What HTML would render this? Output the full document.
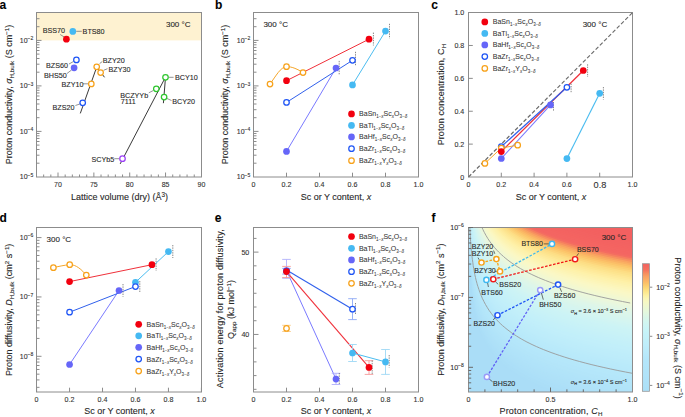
<!DOCTYPE html>
<html><head><meta charset="utf-8"><style>
html,body{margin:0;padding:0;background:#fff;}
svg{display:block;font-family:"Liberation Sans",sans-serif;}
text{stroke:#2a2a2a;stroke-width:0.1px;}
text.lg{stroke:#444;stroke-width:0.06px;}
</style></head><body>
<svg width="685" height="417" viewBox="0 0 685 417">
<rect width="685" height="417" fill="#fff"/>
<rect x="37" y="13" width="164" height="27.40" fill="#fef2d1"/>
<rect x="36.5" y="12.5" width="165.0" height="164.5" fill="none" stroke="#8c8c8c" stroke-width="1"/>
<line x1="43.67" y1="177.00" x2="43.67" y2="174.50" stroke="#8c8c8c" stroke-width="1" />
<line x1="50.84" y1="177.00" x2="50.84" y2="174.50" stroke="#8c8c8c" stroke-width="1" />
<line x1="58.01" y1="177.00" x2="58.01" y2="172.50" stroke="#8c8c8c" stroke-width="1" />
<text x="58.01" y="187.20" font-size="7" text-anchor="middle" fill="#333" >70</text>
<line x1="65.18" y1="177.00" x2="65.18" y2="174.50" stroke="#8c8c8c" stroke-width="1" />
<line x1="72.35" y1="177.00" x2="72.35" y2="174.50" stroke="#8c8c8c" stroke-width="1" />
<line x1="79.52" y1="177.00" x2="79.52" y2="174.50" stroke="#8c8c8c" stroke-width="1" />
<line x1="86.69" y1="177.00" x2="86.69" y2="174.50" stroke="#8c8c8c" stroke-width="1" />
<line x1="93.86" y1="177.00" x2="93.86" y2="172.50" stroke="#8c8c8c" stroke-width="1" />
<text x="93.86" y="187.20" font-size="7" text-anchor="middle" fill="#333" >75</text>
<line x1="101.03" y1="177.00" x2="101.03" y2="174.50" stroke="#8c8c8c" stroke-width="1" />
<line x1="108.20" y1="177.00" x2="108.20" y2="174.50" stroke="#8c8c8c" stroke-width="1" />
<line x1="115.37" y1="177.00" x2="115.37" y2="174.50" stroke="#8c8c8c" stroke-width="1" />
<line x1="122.54" y1="177.00" x2="122.54" y2="174.50" stroke="#8c8c8c" stroke-width="1" />
<line x1="129.71" y1="177.00" x2="129.71" y2="172.50" stroke="#8c8c8c" stroke-width="1" />
<text x="129.71" y="187.20" font-size="7" text-anchor="middle" fill="#333" >80</text>
<line x1="136.88" y1="177.00" x2="136.88" y2="174.50" stroke="#8c8c8c" stroke-width="1" />
<line x1="144.05" y1="177.00" x2="144.05" y2="174.50" stroke="#8c8c8c" stroke-width="1" />
<line x1="151.22" y1="177.00" x2="151.22" y2="174.50" stroke="#8c8c8c" stroke-width="1" />
<line x1="158.39" y1="177.00" x2="158.39" y2="174.50" stroke="#8c8c8c" stroke-width="1" />
<line x1="165.56" y1="177.00" x2="165.56" y2="172.50" stroke="#8c8c8c" stroke-width="1" />
<text x="165.56" y="187.20" font-size="7" text-anchor="middle" fill="#333" >85</text>
<line x1="172.73" y1="177.00" x2="172.73" y2="174.50" stroke="#8c8c8c" stroke-width="1" />
<line x1="179.90" y1="177.00" x2="179.90" y2="174.50" stroke="#8c8c8c" stroke-width="1" />
<line x1="187.07" y1="177.00" x2="187.07" y2="174.50" stroke="#8c8c8c" stroke-width="1" />
<line x1="194.24" y1="177.00" x2="194.24" y2="174.50" stroke="#8c8c8c" stroke-width="1" />
<text x="201.41" y="187.20" font-size="7" text-anchor="middle" fill="#333" >90</text>
<text x="33.30" y="179.40" font-size="7" text-anchor="end" fill="#333">10<tspan dy="-2.9" font-size="5">−5</tspan></text>
<line x1="36.50" y1="163.20" x2="39.50" y2="163.20" stroke="#8c8c8c" stroke-width="1" />
<line x1="36.50" y1="155.19" x2="39.50" y2="155.19" stroke="#8c8c8c" stroke-width="1" />
<line x1="36.50" y1="149.51" x2="39.50" y2="149.51" stroke="#8c8c8c" stroke-width="1" />
<line x1="36.50" y1="145.10" x2="39.50" y2="145.10" stroke="#8c8c8c" stroke-width="1" />
<line x1="36.50" y1="141.49" x2="39.50" y2="141.49" stroke="#8c8c8c" stroke-width="1" />
<line x1="36.50" y1="138.45" x2="39.50" y2="138.45" stroke="#8c8c8c" stroke-width="1" />
<line x1="36.50" y1="135.81" x2="39.50" y2="135.81" stroke="#8c8c8c" stroke-width="1" />
<line x1="36.50" y1="133.48" x2="39.50" y2="133.48" stroke="#8c8c8c" stroke-width="1" />
<line x1="36.50" y1="131.40" x2="41.50" y2="131.40" stroke="#8c8c8c" stroke-width="1" />
<text x="33.30" y="133.90" font-size="7" text-anchor="end" fill="#333">10<tspan dy="-2.9" font-size="5">−4</tspan></text>
<line x1="36.50" y1="117.70" x2="39.50" y2="117.70" stroke="#8c8c8c" stroke-width="1" />
<line x1="36.50" y1="109.69" x2="39.50" y2="109.69" stroke="#8c8c8c" stroke-width="1" />
<line x1="36.50" y1="104.01" x2="39.50" y2="104.01" stroke="#8c8c8c" stroke-width="1" />
<line x1="36.50" y1="99.60" x2="39.50" y2="99.60" stroke="#8c8c8c" stroke-width="1" />
<line x1="36.50" y1="95.99" x2="39.50" y2="95.99" stroke="#8c8c8c" stroke-width="1" />
<line x1="36.50" y1="92.95" x2="39.50" y2="92.95" stroke="#8c8c8c" stroke-width="1" />
<line x1="36.50" y1="90.31" x2="39.50" y2="90.31" stroke="#8c8c8c" stroke-width="1" />
<line x1="36.50" y1="87.98" x2="39.50" y2="87.98" stroke="#8c8c8c" stroke-width="1" />
<line x1="36.50" y1="85.90" x2="41.50" y2="85.90" stroke="#8c8c8c" stroke-width="1" />
<text x="33.30" y="88.40" font-size="7" text-anchor="end" fill="#333">10<tspan dy="-2.9" font-size="5">−3</tspan></text>
<line x1="36.50" y1="72.20" x2="39.50" y2="72.20" stroke="#8c8c8c" stroke-width="1" />
<line x1="36.50" y1="64.19" x2="39.50" y2="64.19" stroke="#8c8c8c" stroke-width="1" />
<line x1="36.50" y1="58.51" x2="39.50" y2="58.51" stroke="#8c8c8c" stroke-width="1" />
<line x1="36.50" y1="54.10" x2="39.50" y2="54.10" stroke="#8c8c8c" stroke-width="1" />
<line x1="36.50" y1="50.49" x2="39.50" y2="50.49" stroke="#8c8c8c" stroke-width="1" />
<line x1="36.50" y1="47.45" x2="39.50" y2="47.45" stroke="#8c8c8c" stroke-width="1" />
<line x1="36.50" y1="44.81" x2="39.50" y2="44.81" stroke="#8c8c8c" stroke-width="1" />
<line x1="36.50" y1="42.48" x2="39.50" y2="42.48" stroke="#8c8c8c" stroke-width="1" />
<line x1="36.50" y1="40.40" x2="41.50" y2="40.40" stroke="#8c8c8c" stroke-width="1" />
<text x="33.30" y="42.90" font-size="7" text-anchor="end" fill="#333">10<tspan dy="-2.9" font-size="5">−2</tspan></text>
<line x1="36.50" y1="26.70" x2="39.50" y2="26.70" stroke="#8c8c8c" stroke-width="1" />
<line x1="36.50" y1="18.69" x2="39.50" y2="18.69" stroke="#8c8c8c" stroke-width="1" />
<text x="-0.4" y="9.0" font-size="12" font-weight="bold" fill="#000" stroke="#000" stroke-width="0.25">a</text>
<text x="190.50" y="27.00" font-size="8" text-anchor="end" fill="#262626" >300 °C</text>
<text x="119.40" y="199.60" font-size="9" text-anchor="middle" fill="#262626" >Lattice volume (dry) (Å<tspan dy="-3" font-size="6.3">3</tspan><tspan dy="3">)</tspan></text>
<text transform="translate(12.2,94.5) rotate(-90)" x="0" y="0" font-size="9" text-anchor="middle" fill="#262626">Proton conductivity, <tspan font-style="italic">σ</tspan><tspan dy="1.8" font-size="6.2">H,bulk</tspan><tspan dy="-1.8"> (S cm</tspan><tspan dy="-3.2" font-size="6.2">−1</tspan><tspan dy="3.2">)</tspan></text>
<line x1="80.30" y1="113.40" x2="97.00" y2="66.20" stroke="#222" stroke-width="0.9" />
<line x1="96.60" y1="66.80" x2="104.50" y2="77.30" stroke="#222" stroke-width="0.9" />
<line x1="120.20" y1="163.90" x2="165.80" y2="76.50" stroke="#222" stroke-width="0.9" />
<line x1="165.50" y1="77.30" x2="163.40" y2="103.20" stroke="#222" stroke-width="0.9" />
<line x1="60.20" y1="34.50" x2="64.20" y2="37.00" stroke="#777" stroke-width="0.8" />
<line x1="76.20" y1="31.30" x2="81.80" y2="31.30" stroke="#777" stroke-width="0.8" />
<line x1="69.00" y1="64.00" x2="73.50" y2="61.50" stroke="#777" stroke-width="0.8" />
<line x1="67.00" y1="73.50" x2="71.50" y2="70.00" stroke="#777" stroke-width="0.8" />
<line x1="99.60" y1="63.60" x2="102.30" y2="61.50" stroke="#777" stroke-width="0.8" />
<line x1="103.60" y1="70.30" x2="107.50" y2="68.70" stroke="#777" stroke-width="0.8" />
<line x1="82.80" y1="83.80" x2="88.30" y2="83.80" stroke="#777" stroke-width="0.8" />
<line x1="75.40" y1="105.50" x2="79.80" y2="104.00" stroke="#777" stroke-width="0.8" />
<line x1="114.30" y1="158.70" x2="119.30" y2="158.70" stroke="#777" stroke-width="0.8" />
<line x1="148.80" y1="92.80" x2="153.30" y2="90.50" stroke="#777" stroke-width="0.8" />
<line x1="168.60" y1="77.30" x2="173.60" y2="77.30" stroke="#777" stroke-width="0.8" />
<line x1="167.00" y1="98.50" x2="171.50" y2="100.50" stroke="#777" stroke-width="0.8" />
<circle cx="66.40" cy="39.20" r="3.35" fill="#f2000f" stroke="none" stroke-width="1.2"/>
<circle cx="72.80" cy="31.40" r="3.35" fill="#45b9f2" stroke="none" stroke-width="1.2"/>
<circle cx="76.40" cy="59.90" r="2.75" fill="#fff" stroke="#1f55f5" stroke-width="1.25"/>
<circle cx="74.10" cy="67.80" r="3.35" fill="#6666f8" stroke="none" stroke-width="1.2"/>
<circle cx="96.70" cy="66.80" r="2.75" fill="#fff" stroke="#f7a21b" stroke-width="1.25"/>
<circle cx="100.60" cy="72.60" r="2.75" fill="#fff" stroke="#f7a21b" stroke-width="1.25"/>
<circle cx="91.30" cy="83.90" r="2.75" fill="#fff" stroke="#f7a21b" stroke-width="1.25"/>
<circle cx="82.70" cy="102.80" r="2.75" fill="#fff" stroke="#1f55f5" stroke-width="1.25"/>
<circle cx="122.50" cy="158.70" r="2.75" fill="#fff" stroke="#9b3ff5" stroke-width="1.25"/>
<circle cx="165.50" cy="77.30" r="2.75" fill="#fff" stroke="#2fc62f" stroke-width="1.25"/>
<circle cx="156.30" cy="88.80" r="2.75" fill="#fff" stroke="#2fc62f" stroke-width="1.25"/>
<circle cx="164.10" cy="97.00" r="2.75" fill="#fff" stroke="#2fc62f" stroke-width="1.25"/>
<text x="42.70" y="32.60" font-size="7.2" text-anchor="start" fill="#262626" >BSS70</text>
<text x="82.60" y="33.90" font-size="7.2" text-anchor="start" fill="#262626" >BTS80</text>
<text x="46.00" y="68.00" font-size="7.2" text-anchor="start" fill="#262626" >BZS60</text>
<text x="44.00" y="77.60" font-size="7.2" text-anchor="start" fill="#262626" >BHS50</text>
<text x="102.80" y="63.00" font-size="7.2" text-anchor="start" fill="#262626" >BZY20</text>
<text x="108.50" y="71.60" font-size="7.2" text-anchor="start" fill="#262626" >BZY30</text>
<text x="61.50" y="87.00" font-size="7.2" text-anchor="start" fill="#262626" >BZY10</text>
<text x="52.50" y="109.50" font-size="7.2" text-anchor="start" fill="#262626" >BZS20</text>
<text x="91.40" y="161.60" font-size="7.2" text-anchor="start" fill="#262626" >SCYb5</text>
<text x="120.20" y="97.60" font-size="7.2" text-anchor="start" fill="#262626" >BCZYYb</text>
<text x="120.80" y="104.00" font-size="7.2" text-anchor="start" fill="#262626" >7111</text>
<text x="174.90" y="80.30" font-size="7.2" text-anchor="start" fill="#262626" >BCY10</text>
<text x="172.20" y="104.00" font-size="7.2" text-anchor="start" fill="#262626" >BCY20</text>
<rect x="253.5" y="12.5" width="165.0" height="164.5" fill="none" stroke="#8c8c8c" stroke-width="1"/>
<line x1="253.50" y1="177.00" x2="253.50" y2="172.70" stroke="#8c8c8c" stroke-width="1" />
<text x="253.50" y="187.00" font-size="7.1" text-anchor="middle" fill="#333" >0</text>
<line x1="286.50" y1="177.00" x2="286.50" y2="172.70" stroke="#8c8c8c" stroke-width="1" />
<text x="286.50" y="187.00" font-size="7.1" text-anchor="middle" fill="#333" >0.2</text>
<line x1="319.50" y1="177.00" x2="319.50" y2="172.70" stroke="#8c8c8c" stroke-width="1" />
<text x="319.50" y="187.00" font-size="7.1" text-anchor="middle" fill="#333" >0.4</text>
<line x1="352.50" y1="177.00" x2="352.50" y2="172.70" stroke="#8c8c8c" stroke-width="1" />
<text x="352.50" y="187.00" font-size="7.1" text-anchor="middle" fill="#333" >0.6</text>
<line x1="385.50" y1="177.00" x2="385.50" y2="172.70" stroke="#8c8c8c" stroke-width="1" />
<text x="385.50" y="187.00" font-size="7.1" text-anchor="middle" fill="#333" >0.8</text>
<line x1="418.50" y1="177.00" x2="418.50" y2="172.70" stroke="#8c8c8c" stroke-width="1" />
<text x="418.50" y="187.00" font-size="7.1" text-anchor="middle" fill="#333" >1.0</text>
<text x="250.30" y="179.40" font-size="7" text-anchor="end" fill="#333">10<tspan dy="-2.9" font-size="5">−5</tspan></text>
<line x1="253.50" y1="163.20" x2="256.50" y2="163.20" stroke="#8c8c8c" stroke-width="1" />
<line x1="253.50" y1="155.19" x2="256.50" y2="155.19" stroke="#8c8c8c" stroke-width="1" />
<line x1="253.50" y1="149.51" x2="256.50" y2="149.51" stroke="#8c8c8c" stroke-width="1" />
<line x1="253.50" y1="145.10" x2="256.50" y2="145.10" stroke="#8c8c8c" stroke-width="1" />
<line x1="253.50" y1="141.49" x2="256.50" y2="141.49" stroke="#8c8c8c" stroke-width="1" />
<line x1="253.50" y1="138.45" x2="256.50" y2="138.45" stroke="#8c8c8c" stroke-width="1" />
<line x1="253.50" y1="135.81" x2="256.50" y2="135.81" stroke="#8c8c8c" stroke-width="1" />
<line x1="253.50" y1="133.48" x2="256.50" y2="133.48" stroke="#8c8c8c" stroke-width="1" />
<line x1="253.50" y1="131.40" x2="258.50" y2="131.40" stroke="#8c8c8c" stroke-width="1" />
<text x="250.30" y="133.90" font-size="7" text-anchor="end" fill="#333">10<tspan dy="-2.9" font-size="5">−4</tspan></text>
<line x1="253.50" y1="117.70" x2="256.50" y2="117.70" stroke="#8c8c8c" stroke-width="1" />
<line x1="253.50" y1="109.69" x2="256.50" y2="109.69" stroke="#8c8c8c" stroke-width="1" />
<line x1="253.50" y1="104.01" x2="256.50" y2="104.01" stroke="#8c8c8c" stroke-width="1" />
<line x1="253.50" y1="99.60" x2="256.50" y2="99.60" stroke="#8c8c8c" stroke-width="1" />
<line x1="253.50" y1="95.99" x2="256.50" y2="95.99" stroke="#8c8c8c" stroke-width="1" />
<line x1="253.50" y1="92.95" x2="256.50" y2="92.95" stroke="#8c8c8c" stroke-width="1" />
<line x1="253.50" y1="90.31" x2="256.50" y2="90.31" stroke="#8c8c8c" stroke-width="1" />
<line x1="253.50" y1="87.98" x2="256.50" y2="87.98" stroke="#8c8c8c" stroke-width="1" />
<line x1="253.50" y1="85.90" x2="258.50" y2="85.90" stroke="#8c8c8c" stroke-width="1" />
<text x="250.30" y="88.40" font-size="7" text-anchor="end" fill="#333">10<tspan dy="-2.9" font-size="5">−3</tspan></text>
<line x1="253.50" y1="72.20" x2="256.50" y2="72.20" stroke="#8c8c8c" stroke-width="1" />
<line x1="253.50" y1="64.19" x2="256.50" y2="64.19" stroke="#8c8c8c" stroke-width="1" />
<line x1="253.50" y1="58.51" x2="256.50" y2="58.51" stroke="#8c8c8c" stroke-width="1" />
<line x1="253.50" y1="54.10" x2="256.50" y2="54.10" stroke="#8c8c8c" stroke-width="1" />
<line x1="253.50" y1="50.49" x2="256.50" y2="50.49" stroke="#8c8c8c" stroke-width="1" />
<line x1="253.50" y1="47.45" x2="256.50" y2="47.45" stroke="#8c8c8c" stroke-width="1" />
<line x1="253.50" y1="44.81" x2="256.50" y2="44.81" stroke="#8c8c8c" stroke-width="1" />
<line x1="253.50" y1="42.48" x2="256.50" y2="42.48" stroke="#8c8c8c" stroke-width="1" />
<line x1="253.50" y1="40.40" x2="258.50" y2="40.40" stroke="#8c8c8c" stroke-width="1" />
<text x="250.30" y="42.90" font-size="7" text-anchor="end" fill="#333">10<tspan dy="-2.9" font-size="5">−2</tspan></text>
<line x1="253.50" y1="26.70" x2="256.50" y2="26.70" stroke="#8c8c8c" stroke-width="1" />
<line x1="253.50" y1="18.69" x2="256.50" y2="18.69" stroke="#8c8c8c" stroke-width="1" />
<text x="215.0" y="9.0" font-size="12" font-weight="bold" fill="#000" stroke="#000" stroke-width="0.25">b</text>
<text x="263.40" y="27.00" font-size="8" text-anchor="start" fill="#262626" >300 °C</text>
<text x="336.00" y="199.60" font-size="9" text-anchor="middle" fill="#262626" >Sc or Y content, <tspan font-style="italic">x</tspan></text>
<text transform="translate(228.4,94.5) rotate(-90)" x="0" y="0" font-size="9" text-anchor="middle" fill="#262626">Proton conductivity, <tspan font-style="italic">σ</tspan><tspan dy="1.8" font-size="6.2">H,bulk</tspan><tspan dy="-1.8"> (S cm</tspan><tspan dy="-3.2" font-size="6.2">−1</tspan><tspan dy="3.2">)</tspan></text>
<line x1="286.50" y1="80.70" x2="369.00" y2="39.20" stroke="#f0303a" stroke-width="1" />
<line x1="352.50" y1="84.90" x2="385.50" y2="31.10" stroke="#4cbdf0" stroke-width="1" />
<line x1="286.50" y1="151.40" x2="336.00" y2="68.00" stroke="#7a7aff" stroke-width="1" />
<line x1="286.50" y1="102.40" x2="352.50" y2="60.30" stroke="#3060ec" stroke-width="1" />
<path d="M270.00,84 C276,76 280.5,67 286.50,66.7 C292,66.4 298,69.5 303.00,72.5" fill="none" stroke="#f5a62a" stroke-width="1"/>
<line x1="373.40" y1="32.60" x2="373.40" y2="45.50" stroke="#6a6a6a" stroke-width="0.8" stroke-dasharray="1.4,1.0"/>
<line x1="389.50" y1="23.80" x2="389.50" y2="38.40" stroke="#6a6a6a" stroke-width="0.8" stroke-dasharray="1.4,1.0"/>
<line x1="355.50" y1="51.80" x2="355.50" y2="66.00" stroke="#6a6a6a" stroke-width="0.8" stroke-dasharray="1.4,1.0"/>
<line x1="339.20" y1="60.90" x2="339.20" y2="75.30" stroke="#6a6a6a" stroke-width="0.8" stroke-dasharray="1.4,1.0"/>
<circle cx="286.50" cy="80.70" r="3.35" fill="#f2000f" stroke="none" stroke-width="1.2"/>
<circle cx="369.00" cy="39.20" r="3.35" fill="#f2000f" stroke="none" stroke-width="1.2"/>
<circle cx="352.50" cy="84.90" r="3.35" fill="#45b9f2" stroke="none" stroke-width="1.2"/>
<circle cx="385.50" cy="31.10" r="3.35" fill="#45b9f2" stroke="none" stroke-width="1.2"/>
<circle cx="286.50" cy="151.40" r="3.35" fill="#6666f8" stroke="none" stroke-width="1.2"/>
<circle cx="336.00" cy="68.00" r="3.35" fill="#6666f8" stroke="none" stroke-width="1.2"/>
<circle cx="286.50" cy="102.40" r="2.75" fill="#fff" stroke="#1f55f5" stroke-width="1.25"/>
<circle cx="352.50" cy="60.30" r="2.75" fill="#fff" stroke="#1f55f5" stroke-width="1.25"/>
<circle cx="270.00" cy="84.00" r="2.75" fill="#fff" stroke="#f7a21b" stroke-width="1.25"/>
<circle cx="286.50" cy="66.70" r="2.75" fill="#fff" stroke="#f7a21b" stroke-width="1.25"/>
<circle cx="303.00" cy="72.50" r="2.75" fill="#fff" stroke="#f7a21b" stroke-width="1.25"/>
<circle cx="351.50" cy="113.90" r="3.35" fill="#f2000f" stroke="none" stroke-width="1.2"/>
<text class="lg" x="359.10" y="116.40" font-size="7" fill="#333">BaSn<tspan dy="2.0" font-size="4.5">1−<tspan font-style="italic">x</tspan></tspan><tspan dy="-2.0">Sc</tspan><tspan dy="2.0" font-size="4.5" font-style="italic">x</tspan><tspan dy="-2.0">O</tspan><tspan dy="2.0" font-size="4.5">3−<tspan font-style="italic">δ</tspan></tspan></text>
<circle cx="351.50" cy="125.40" r="3.35" fill="#45b9f2" stroke="none" stroke-width="1.2"/>
<text class="lg" x="359.10" y="127.90" font-size="7" fill="#333">BaTi<tspan dy="2.0" font-size="4.5">1−<tspan font-style="italic">x</tspan></tspan><tspan dy="-2.0">Sc</tspan><tspan dy="2.0" font-size="4.5" font-style="italic">x</tspan><tspan dy="-2.0">O</tspan><tspan dy="2.0" font-size="4.5">3−<tspan font-style="italic">δ</tspan></tspan></text>
<circle cx="351.50" cy="136.90" r="3.35" fill="#6666f8" stroke="none" stroke-width="1.2"/>
<text class="lg" x="359.10" y="139.40" font-size="7" fill="#333">BaHf<tspan dy="2.0" font-size="4.5">1−<tspan font-style="italic">x</tspan></tspan><tspan dy="-2.0">Sc</tspan><tspan dy="2.0" font-size="4.5" font-style="italic">x</tspan><tspan dy="-2.0">O</tspan><tspan dy="2.0" font-size="4.5">3−<tspan font-style="italic">δ</tspan></tspan></text>
<circle cx="351.50" cy="148.70" r="2.75" fill="#fff" stroke="#1f55f5" stroke-width="1.25"/>
<text class="lg" x="359.10" y="151.20" font-size="7" fill="#333">BaZr<tspan dy="2.0" font-size="4.5">1−<tspan font-style="italic">x</tspan></tspan><tspan dy="-2.0">Sc</tspan><tspan dy="2.0" font-size="4.5" font-style="italic">x</tspan><tspan dy="-2.0">O</tspan><tspan dy="2.0" font-size="4.5">3−<tspan font-style="italic">δ</tspan></tspan></text>
<circle cx="351.50" cy="160.70" r="2.75" fill="#fff" stroke="#f7a21b" stroke-width="1.25"/>
<text class="lg" x="359.10" y="163.20" font-size="7" fill="#333">BaZr<tspan dy="2.0" font-size="4.5">1−<tspan font-style="italic">x</tspan></tspan><tspan dy="-2.0">Y</tspan><tspan dy="2.0" font-size="4.5" font-style="italic">x</tspan><tspan dy="-2.0">O</tspan><tspan dy="2.0" font-size="4.5">3−<tspan font-style="italic">δ</tspan></tspan></text>
<rect x="468.5" y="12.5" width="164.0" height="164.5" fill="none" stroke="#8c8c8c" stroke-width="1"/>
<line x1="501.30" y1="177.00" x2="501.30" y2="172.70" stroke="#8c8c8c" stroke-width="1" />
<line x1="468.50" y1="144.12" x2="472.80" y2="144.12" stroke="#8c8c8c" stroke-width="1" />
<line x1="534.10" y1="177.00" x2="534.10" y2="172.70" stroke="#8c8c8c" stroke-width="1" />
<line x1="468.50" y1="111.24" x2="472.80" y2="111.24" stroke="#8c8c8c" stroke-width="1" />
<line x1="566.90" y1="177.00" x2="566.90" y2="172.70" stroke="#8c8c8c" stroke-width="1" />
<line x1="468.50" y1="78.36" x2="472.80" y2="78.36" stroke="#8c8c8c" stroke-width="1" />
<line x1="599.70" y1="177.00" x2="599.70" y2="172.70" stroke="#8c8c8c" stroke-width="1" />
<line x1="468.50" y1="45.48" x2="472.80" y2="45.48" stroke="#8c8c8c" stroke-width="1" />
<text x="468.50" y="187.00" font-size="7.1" text-anchor="middle" fill="#333" >0</text>
<text x="464.30" y="179.50" font-size="7.1" text-anchor="end" fill="#333" >0</text>
<text x="501.30" y="187.00" font-size="7.1" text-anchor="middle" fill="#333" >0.2</text>
<text x="464.30" y="146.62" font-size="7.1" text-anchor="end" fill="#333" >0.2</text>
<text x="534.10" y="187.00" font-size="7.1" text-anchor="middle" fill="#333" >0.4</text>
<text x="464.30" y="113.74" font-size="7.1" text-anchor="end" fill="#333" >0.4</text>
<text x="566.90" y="187.00" font-size="7.1" text-anchor="middle" fill="#333" >0.6</text>
<text x="464.30" y="80.86" font-size="7.1" text-anchor="end" fill="#333" >0.6</text>
<text x="600.00" y="187.60" font-size="9.2" text-anchor="middle" fill="#333" >0.8</text>
<text x="464.30" y="47.98" font-size="7.1" text-anchor="end" fill="#333" >0.8</text>
<text x="632.50" y="187.00" font-size="7.1" text-anchor="middle" fill="#333" >1.0</text>
<text x="464.30" y="15.10" font-size="7.1" text-anchor="end" fill="#333" >1.0</text>
<text x="431.3" y="9.0" font-size="12" font-weight="bold" fill="#000" stroke="#000" stroke-width="0.25">c</text>
<text x="607.20" y="27.40" font-size="8" text-anchor="end" fill="#262626" >300 °C</text>
<text x="551.00" y="199.60" font-size="9" text-anchor="middle" fill="#262626" >Sc or Y content, <tspan font-style="italic">x</tspan></text>
<text transform="translate(444.3,94.6) rotate(-90)" font-size="9" textLength="101.5" lengthAdjust="spacing" text-anchor="middle" fill="#262626">Proton concentration, C<tspan dy="1.8" font-size="6.2">H</tspan></text>
<line x1="468.50" y1="177.00" x2="632.50" y2="12.60" stroke="#6a6a6a" stroke-width="1.15" stroke-dasharray="3.9,2.1"/>
<line x1="501.30" y1="151.60" x2="583.30" y2="70.50" stroke="#f0303a" stroke-width="1.25" />
<line x1="566.90" y1="158.60" x2="599.70" y2="93.30" stroke="#4cbdf0" stroke-width="1.15" />
<line x1="501.30" y1="158.50" x2="550.50" y2="104.90" stroke="#7a7aff" stroke-width="1.1" />
<line x1="501.30" y1="146.60" x2="566.90" y2="87.30" stroke="#3060ec" stroke-width="1.25" />
<polyline points="484.90,163.4 501.30,148 517.70,145.2" fill="none" stroke="#f5a62a" stroke-width="1"/>
<line x1="587.60" y1="64.30" x2="587.60" y2="76.90" stroke="#6a6a6a" stroke-width="0.8" stroke-dasharray="1.4,1.0"/>
<line x1="571.10" y1="83.60" x2="571.10" y2="92.80" stroke="#6a6a6a" stroke-width="0.8" stroke-dasharray="1.4,1.0"/>
<line x1="553.50" y1="102.00" x2="553.50" y2="111.00" stroke="#6a6a6a" stroke-width="0.8" stroke-dasharray="1.4,1.0"/>
<line x1="603.40" y1="87.00" x2="603.40" y2="99.50" stroke="#6a6a6a" stroke-width="0.8" stroke-dasharray="1.4,1.0"/>
<circle cx="501.30" cy="146.60" r="2.75" fill="#fff" stroke="#1f55f5" stroke-width="1.25"/>
<circle cx="566.90" cy="87.30" r="2.75" fill="#fff" stroke="#1f55f5" stroke-width="1.25"/>
<circle cx="484.90" cy="163.40" r="2.75" fill="#fff" stroke="#f7a21b" stroke-width="1.25"/>
<circle cx="501.30" cy="148.00" r="2.75" fill="#fff" stroke="#f7a21b" stroke-width="1.25"/>
<circle cx="517.70" cy="145.20" r="2.75" fill="#fff" stroke="#f7a21b" stroke-width="1.25"/>
<circle cx="501.30" cy="158.50" r="3.35" fill="#6666f8" stroke="none" stroke-width="1.2"/>
<circle cx="550.50" cy="104.90" r="3.35" fill="#6666f8" stroke="none" stroke-width="1.2"/>
<circle cx="501.30" cy="151.60" r="3.35" fill="#f2000f" stroke="none" stroke-width="1.2"/>
<circle cx="583.30" cy="70.50" r="3.35" fill="#f2000f" stroke="none" stroke-width="1.2"/>
<circle cx="566.90" cy="158.60" r="3.35" fill="#45b9f2" stroke="none" stroke-width="1.2"/>
<circle cx="599.70" cy="93.30" r="3.35" fill="#45b9f2" stroke="none" stroke-width="1.2"/>
<circle cx="484.80" cy="21.90" r="3.35" fill="#f2000f" stroke="none" stroke-width="1.2"/>
<text class="lg" x="492.80" y="24.40" font-size="7" fill="#333">BaSn<tspan dy="2.0" font-size="4.5">1−<tspan font-style="italic">x</tspan></tspan><tspan dy="-2.0">Sc</tspan><tspan dy="2.0" font-size="4.5" font-style="italic">x</tspan><tspan dy="-2.0">O</tspan><tspan dy="2.0" font-size="4.5">3−<tspan font-style="italic">δ</tspan></tspan></text>
<circle cx="484.80" cy="33.40" r="3.35" fill="#45b9f2" stroke="none" stroke-width="1.2"/>
<text class="lg" x="492.80" y="35.90" font-size="7" fill="#333">BaTi<tspan dy="2.0" font-size="4.5">1−<tspan font-style="italic">x</tspan></tspan><tspan dy="-2.0">Sc</tspan><tspan dy="2.0" font-size="4.5" font-style="italic">x</tspan><tspan dy="-2.0">O</tspan><tspan dy="2.0" font-size="4.5">3−<tspan font-style="italic">δ</tspan></tspan></text>
<circle cx="484.80" cy="44.90" r="3.35" fill="#6666f8" stroke="none" stroke-width="1.2"/>
<text class="lg" x="492.80" y="47.40" font-size="7" fill="#333">BaHf<tspan dy="2.0" font-size="4.5">1−<tspan font-style="italic">x</tspan></tspan><tspan dy="-2.0">Sc</tspan><tspan dy="2.0" font-size="4.5" font-style="italic">x</tspan><tspan dy="-2.0">O</tspan><tspan dy="2.0" font-size="4.5">3−<tspan font-style="italic">δ</tspan></tspan></text>
<circle cx="484.80" cy="56.60" r="2.75" fill="#fff" stroke="#1f55f5" stroke-width="1.25"/>
<text class="lg" x="492.80" y="59.10" font-size="7" fill="#333">BaZr<tspan dy="2.0" font-size="4.5">1−<tspan font-style="italic">x</tspan></tspan><tspan dy="-2.0">Sc</tspan><tspan dy="2.0" font-size="4.5" font-style="italic">x</tspan><tspan dy="-2.0">O</tspan><tspan dy="2.0" font-size="4.5">3−<tspan font-style="italic">δ</tspan></tspan></text>
<circle cx="484.80" cy="68.40" r="2.75" fill="#fff" stroke="#f7a21b" stroke-width="1.25"/>
<text class="lg" x="492.80" y="70.90" font-size="7" fill="#333">BaZr<tspan dy="2.0" font-size="4.5">1−<tspan font-style="italic">x</tspan></tspan><tspan dy="-2.0">Y</tspan><tspan dy="2.0" font-size="4.5" font-style="italic">x</tspan><tspan dy="-2.0">O</tspan><tspan dy="2.0" font-size="4.5">3−<tspan font-style="italic">δ</tspan></tspan></text>
<rect x="36.5" y="227.5" width="165.0" height="164.5" fill="none" stroke="#8c8c8c" stroke-width="1"/>
<line x1="36.60" y1="392.00" x2="36.60" y2="387.70" stroke="#8c8c8c" stroke-width="1" />
<text x="36.60" y="401.80" font-size="7.1" text-anchor="middle" fill="#333" >0</text>
<line x1="69.56" y1="392.00" x2="69.56" y2="387.70" stroke="#8c8c8c" stroke-width="1" />
<text x="69.56" y="401.80" font-size="7.1" text-anchor="middle" fill="#333" >0.2</text>
<line x1="102.52" y1="392.00" x2="102.52" y2="387.70" stroke="#8c8c8c" stroke-width="1" />
<text x="102.52" y="401.80" font-size="7.1" text-anchor="middle" fill="#333" >0.4</text>
<line x1="135.48" y1="392.00" x2="135.48" y2="387.70" stroke="#8c8c8c" stroke-width="1" />
<text x="135.48" y="401.80" font-size="7.1" text-anchor="middle" fill="#333" >0.6</text>
<line x1="168.44" y1="392.00" x2="168.44" y2="387.70" stroke="#8c8c8c" stroke-width="1" />
<text x="168.44" y="401.80" font-size="7.1" text-anchor="middle" fill="#333" >0.8</text>
<line x1="201.40" y1="392.00" x2="201.40" y2="387.70" stroke="#8c8c8c" stroke-width="1" />
<text x="201.40" y="401.80" font-size="7.1" text-anchor="middle" fill="#333" >1.0</text>
<line x1="36.50" y1="387.33" x2="39.50" y2="387.33" stroke="#8c8c8c" stroke-width="1" />
<line x1="36.50" y1="379.92" x2="39.50" y2="379.92" stroke="#8c8c8c" stroke-width="1" />
<line x1="36.50" y1="374.17" x2="39.50" y2="374.17" stroke="#8c8c8c" stroke-width="1" />
<line x1="36.50" y1="369.47" x2="39.50" y2="369.47" stroke="#8c8c8c" stroke-width="1" />
<line x1="36.50" y1="365.49" x2="39.50" y2="365.49" stroke="#8c8c8c" stroke-width="1" />
<line x1="36.50" y1="362.05" x2="39.50" y2="362.05" stroke="#8c8c8c" stroke-width="1" />
<line x1="36.50" y1="359.02" x2="39.50" y2="359.02" stroke="#8c8c8c" stroke-width="1" />
<line x1="36.50" y1="356.30" x2="41.50" y2="356.30" stroke="#8c8c8c" stroke-width="1" />
<text x="33.30" y="358.80" font-size="7" text-anchor="end" fill="#333">10<tspan dy="-2.9" font-size="5">−8</tspan></text>
<line x1="36.50" y1="338.43" x2="39.50" y2="338.43" stroke="#8c8c8c" stroke-width="1" />
<line x1="36.50" y1="327.98" x2="39.50" y2="327.98" stroke="#8c8c8c" stroke-width="1" />
<line x1="36.50" y1="320.57" x2="39.50" y2="320.57" stroke="#8c8c8c" stroke-width="1" />
<line x1="36.50" y1="314.82" x2="39.50" y2="314.82" stroke="#8c8c8c" stroke-width="1" />
<line x1="36.50" y1="310.12" x2="39.50" y2="310.12" stroke="#8c8c8c" stroke-width="1" />
<line x1="36.50" y1="306.14" x2="39.50" y2="306.14" stroke="#8c8c8c" stroke-width="1" />
<line x1="36.50" y1="302.70" x2="39.50" y2="302.70" stroke="#8c8c8c" stroke-width="1" />
<line x1="36.50" y1="299.67" x2="39.50" y2="299.67" stroke="#8c8c8c" stroke-width="1" />
<line x1="36.50" y1="296.95" x2="41.50" y2="296.95" stroke="#8c8c8c" stroke-width="1" />
<text x="33.30" y="299.45" font-size="7" text-anchor="end" fill="#333">10<tspan dy="-2.9" font-size="5">−7</tspan></text>
<line x1="36.50" y1="279.08" x2="39.50" y2="279.08" stroke="#8c8c8c" stroke-width="1" />
<line x1="36.50" y1="268.63" x2="39.50" y2="268.63" stroke="#8c8c8c" stroke-width="1" />
<line x1="36.50" y1="261.22" x2="39.50" y2="261.22" stroke="#8c8c8c" stroke-width="1" />
<line x1="36.50" y1="255.47" x2="39.50" y2="255.47" stroke="#8c8c8c" stroke-width="1" />
<line x1="36.50" y1="250.77" x2="39.50" y2="250.77" stroke="#8c8c8c" stroke-width="1" />
<line x1="36.50" y1="246.79" x2="39.50" y2="246.79" stroke="#8c8c8c" stroke-width="1" />
<line x1="36.50" y1="243.35" x2="39.50" y2="243.35" stroke="#8c8c8c" stroke-width="1" />
<line x1="36.50" y1="240.32" x2="39.50" y2="240.32" stroke="#8c8c8c" stroke-width="1" />
<line x1="36.50" y1="237.60" x2="41.50" y2="237.60" stroke="#8c8c8c" stroke-width="1" />
<text x="33.30" y="240.10" font-size="7" text-anchor="end" fill="#333">10<tspan dy="-2.9" font-size="5">−6</tspan></text>
<text x="-0.5" y="222.0" font-size="12" font-weight="bold" fill="#000" stroke="#000" stroke-width="0.25">d</text>
<text x="46.60" y="242.40" font-size="8" text-anchor="start" fill="#262626" >300 °C</text>
<text x="119.50" y="414.30" font-size="9" text-anchor="middle" fill="#262626" >Sc or Y content, <tspan font-style="italic">x</tspan></text>
<text transform="translate(12.3,309.8) rotate(-90)" font-size="9" text-anchor="middle" fill="#262626">Proton diffusivity, <tspan font-style="italic">D</tspan><tspan dy="1.8" font-size="6.2">H,bulk</tspan><tspan dy="-1.8"> (cm</tspan><tspan dy="-3.2" font-size="6.2">2</tspan><tspan dy="3.2"> s</tspan><tspan dy="-3.2" font-size="6.2">−1</tspan><tspan dy="3.2">)</tspan></text>
<line x1="69.56" y1="281.60" x2="151.96" y2="264.70" stroke="#f0303a" stroke-width="1" />
<line x1="135.48" y1="282.30" x2="168.44" y2="251.60" stroke="#4cbdf0" stroke-width="1" />
<line x1="69.56" y1="364.50" x2="119.00" y2="290.50" stroke="#7a7aff" stroke-width="1" />
<line x1="69.56" y1="312.20" x2="135.48" y2="286.50" stroke="#3060ec" stroke-width="1" />
<path d="M53.4,267.7 C58,266.5 64,265.2 69.7,264.7 C76,264.3 82,270 86.3,275.1" fill="none" stroke="#f5a62a" stroke-width="1"/>
<line x1="172.80" y1="245.00" x2="172.80" y2="258.00" stroke="#6a6a6a" stroke-width="0.8" stroke-dasharray="1.4,1.0"/>
<line x1="156.10" y1="258.30" x2="156.10" y2="270.80" stroke="#6a6a6a" stroke-width="0.8" stroke-dasharray="1.4,1.0"/>
<line x1="139.80" y1="281.00" x2="139.80" y2="292.00" stroke="#6a6a6a" stroke-width="0.8" stroke-dasharray="1.4,1.0"/>
<line x1="123.00" y1="284.00" x2="123.00" y2="296.70" stroke="#6a6a6a" stroke-width="0.8" stroke-dasharray="1.4,1.0"/>
<circle cx="69.56" cy="281.60" r="3.35" fill="#f2000f" stroke="none" stroke-width="1.2"/>
<circle cx="151.96" cy="264.70" r="3.35" fill="#f2000f" stroke="none" stroke-width="1.2"/>
<circle cx="135.48" cy="282.30" r="3.35" fill="#45b9f2" stroke="none" stroke-width="1.2"/>
<circle cx="168.44" cy="251.60" r="3.35" fill="#45b9f2" stroke="none" stroke-width="1.2"/>
<circle cx="69.56" cy="364.50" r="3.35" fill="#6666f8" stroke="none" stroke-width="1.2"/>
<circle cx="119.00" cy="290.50" r="3.35" fill="#6666f8" stroke="none" stroke-width="1.2"/>
<circle cx="69.56" cy="312.20" r="2.75" fill="#fff" stroke="#1f55f5" stroke-width="1.25"/>
<circle cx="135.48" cy="286.50" r="2.75" fill="#fff" stroke="#1f55f5" stroke-width="1.25"/>
<circle cx="53.40" cy="267.70" r="2.75" fill="#fff" stroke="#f7a21b" stroke-width="1.25"/>
<circle cx="69.70" cy="264.70" r="2.75" fill="#fff" stroke="#f7a21b" stroke-width="1.25"/>
<circle cx="86.30" cy="275.10" r="2.75" fill="#fff" stroke="#f7a21b" stroke-width="1.25"/>
<circle cx="138.70" cy="324.30" r="3.35" fill="#f2000f" stroke="none" stroke-width="1.2"/>
<text class="lg" x="146.60" y="326.80" font-size="7" fill="#333">BaSn<tspan dy="2.0" font-size="4.5">1−<tspan font-style="italic">x</tspan></tspan><tspan dy="-2.0">Sc</tspan><tspan dy="2.0" font-size="4.5" font-style="italic">x</tspan><tspan dy="-2.0">O</tspan><tspan dy="2.0" font-size="4.5">3−<tspan font-style="italic">δ</tspan></tspan></text>
<circle cx="138.70" cy="335.80" r="3.35" fill="#45b9f2" stroke="none" stroke-width="1.2"/>
<text class="lg" x="146.60" y="338.30" font-size="7" fill="#333">BaTi<tspan dy="2.0" font-size="4.5">1−<tspan font-style="italic">x</tspan></tspan><tspan dy="-2.0">Sc</tspan><tspan dy="2.0" font-size="4.5" font-style="italic">x</tspan><tspan dy="-2.0">O</tspan><tspan dy="2.0" font-size="4.5">3−<tspan font-style="italic">δ</tspan></tspan></text>
<circle cx="138.70" cy="347.30" r="3.35" fill="#6666f8" stroke="none" stroke-width="1.2"/>
<text class="lg" x="146.60" y="349.80" font-size="7" fill="#333">BaHf<tspan dy="2.0" font-size="4.5">1−<tspan font-style="italic">x</tspan></tspan><tspan dy="-2.0">Sc</tspan><tspan dy="2.0" font-size="4.5" font-style="italic">x</tspan><tspan dy="-2.0">O</tspan><tspan dy="2.0" font-size="4.5">3−<tspan font-style="italic">δ</tspan></tspan></text>
<circle cx="138.70" cy="359.10" r="2.75" fill="#fff" stroke="#1f55f5" stroke-width="1.25"/>
<text class="lg" x="146.60" y="361.60" font-size="7" fill="#333">BaZr<tspan dy="2.0" font-size="4.5">1−<tspan font-style="italic">x</tspan></tspan><tspan dy="-2.0">Sc</tspan><tspan dy="2.0" font-size="4.5" font-style="italic">x</tspan><tspan dy="-2.0">O</tspan><tspan dy="2.0" font-size="4.5">3−<tspan font-style="italic">δ</tspan></tspan></text>
<circle cx="138.70" cy="371.10" r="2.75" fill="#fff" stroke="#f7a21b" stroke-width="1.25"/>
<text class="lg" x="146.60" y="373.60" font-size="7" fill="#333">BaZr<tspan dy="2.0" font-size="4.5">1−<tspan font-style="italic">x</tspan></tspan><tspan dy="-2.0">Y</tspan><tspan dy="2.0" font-size="4.5" font-style="italic">x</tspan><tspan dy="-2.0">O</tspan><tspan dy="2.0" font-size="4.5">3−<tspan font-style="italic">δ</tspan></tspan></text>
<rect x="253.5" y="227.5" width="165.0" height="164.5" fill="none" stroke="#8c8c8c" stroke-width="1"/>
<line x1="253.50" y1="392.00" x2="253.50" y2="387.70" stroke="#8c8c8c" stroke-width="1" />
<text x="253.50" y="401.80" font-size="7.1" text-anchor="middle" fill="#333" >0</text>
<line x1="286.50" y1="392.00" x2="286.50" y2="387.70" stroke="#8c8c8c" stroke-width="1" />
<text x="286.50" y="401.80" font-size="7.1" text-anchor="middle" fill="#333" >0.2</text>
<line x1="319.50" y1="392.00" x2="319.50" y2="387.70" stroke="#8c8c8c" stroke-width="1" />
<text x="319.50" y="401.80" font-size="7.1" text-anchor="middle" fill="#333" >0.4</text>
<line x1="352.50" y1="392.00" x2="352.50" y2="387.70" stroke="#8c8c8c" stroke-width="1" />
<text x="352.50" y="401.80" font-size="7.1" text-anchor="middle" fill="#333" >0.6</text>
<line x1="385.50" y1="392.00" x2="385.50" y2="387.70" stroke="#8c8c8c" stroke-width="1" />
<text x="385.50" y="401.80" font-size="7.1" text-anchor="middle" fill="#333" >0.8</text>
<line x1="418.50" y1="392.00" x2="418.50" y2="387.70" stroke="#8c8c8c" stroke-width="1" />
<text x="418.50" y="401.80" font-size="7.1" text-anchor="middle" fill="#333" >1.0</text>
<line x1="253.50" y1="238.40" x2="256.50" y2="238.40" stroke="#8c8c8c" stroke-width="1" />
<line x1="253.50" y1="252.12" x2="258.50" y2="252.12" stroke="#8c8c8c" stroke-width="1" />
<line x1="253.50" y1="265.84" x2="256.50" y2="265.84" stroke="#8c8c8c" stroke-width="1" />
<line x1="253.50" y1="279.56" x2="256.50" y2="279.56" stroke="#8c8c8c" stroke-width="1" />
<line x1="253.50" y1="293.28" x2="256.50" y2="293.28" stroke="#8c8c8c" stroke-width="1" />
<line x1="253.50" y1="307.00" x2="256.50" y2="307.00" stroke="#8c8c8c" stroke-width="1" />
<line x1="253.50" y1="320.72" x2="256.50" y2="320.72" stroke="#8c8c8c" stroke-width="1" />
<line x1="253.50" y1="334.44" x2="258.50" y2="334.44" stroke="#8c8c8c" stroke-width="1" />
<line x1="253.50" y1="348.16" x2="256.50" y2="348.16" stroke="#8c8c8c" stroke-width="1" />
<line x1="253.50" y1="361.88" x2="256.50" y2="361.88" stroke="#8c8c8c" stroke-width="1" />
<line x1="253.50" y1="375.60" x2="256.50" y2="375.60" stroke="#8c8c8c" stroke-width="1" />
<line x1="253.50" y1="389.32" x2="256.50" y2="389.32" stroke="#8c8c8c" stroke-width="1" />
<text x="249.30" y="254.50" font-size="7.1" text-anchor="end" fill="#333" >50</text>
<text x="249.30" y="336.70" font-size="7.1" text-anchor="end" fill="#333" >40</text>
<text x="214.8" y="222.0" font-size="12" font-weight="bold" fill="#000" stroke="#000" stroke-width="0.25">e</text>
<text x="336.00" y="414.30" font-size="9" text-anchor="middle" fill="#262626" >Sc or Y content, <tspan font-style="italic">x</tspan></text>
<text transform="translate(223.3,308.7) rotate(-90)" font-size="9" textLength="159" lengthAdjust="spacing" text-anchor="middle" fill="#262626">Activation energy for proton diffusivity,</text>
<text transform="translate(234.0,309.5) rotate(-90)" font-size="9" text-anchor="middle" fill="#262626">Q<tspan dy="1.8" font-size="6.2">app</tspan><tspan dy="-1.8"> (kJ mol</tspan><tspan dy="-3.2" font-size="6.2">−1</tspan><tspan dy="3.2">)</tspan></text>
<line x1="286.50" y1="270.00" x2="352.50" y2="309.20" stroke="#3060ec" stroke-width="1.1" />
<line x1="286.50" y1="271.60" x2="369.00" y2="367.40" stroke="#f0303a" stroke-width="1.1" />
<line x1="286.50" y1="270.50" x2="336.00" y2="379.10" stroke="#7a7aff" stroke-width="1" />
<line x1="352.50" y1="353.00" x2="385.50" y2="361.90" stroke="#4cbdf0" stroke-width="1" />
<line x1="286.50" y1="259.40" x2="286.50" y2="278.30" stroke="#b0b0fa" stroke-width="0.9" />
<line x1="282.20" y1="259.40" x2="290.80" y2="259.40" stroke="#b0b0fa" stroke-width="0.9" />
<line x1="282.20" y1="278.30" x2="290.80" y2="278.30" stroke="#b0b0fa" stroke-width="0.9" />
<line x1="286.50" y1="268.40" x2="286.50" y2="274.10" stroke="#8ca8f5" stroke-width="0.9" />
<line x1="282.20" y1="268.40" x2="290.80" y2="268.40" stroke="#8ca8f5" stroke-width="0.9" />
<line x1="282.20" y1="274.10" x2="290.80" y2="274.10" stroke="#8ca8f5" stroke-width="0.9" />
<line x1="286.50" y1="266.40" x2="286.50" y2="277.50" stroke="#f59a9a" stroke-width="0.9" />
<line x1="282.20" y1="266.40" x2="290.80" y2="266.40" stroke="#f59a9a" stroke-width="0.9" />
<line x1="282.20" y1="277.50" x2="290.80" y2="277.50" stroke="#f59a9a" stroke-width="0.9" />
<line x1="352.50" y1="298.70" x2="352.50" y2="319.60" stroke="#8ca8f5" stroke-width="0.9" />
<line x1="348.20" y1="298.70" x2="356.80" y2="298.70" stroke="#8ca8f5" stroke-width="0.9" />
<line x1="348.20" y1="319.60" x2="356.80" y2="319.60" stroke="#8ca8f5" stroke-width="0.9" />
<line x1="352.50" y1="344.50" x2="352.50" y2="361.50" stroke="#9ed8f5" stroke-width="0.9" />
<line x1="348.20" y1="344.50" x2="356.80" y2="344.50" stroke="#9ed8f5" stroke-width="0.9" />
<line x1="348.20" y1="361.50" x2="356.80" y2="361.50" stroke="#9ed8f5" stroke-width="0.9" />
<line x1="369.00" y1="360.70" x2="369.00" y2="374.40" stroke="#f59a9a" stroke-width="0.9" />
<line x1="364.70" y1="360.70" x2="373.30" y2="360.70" stroke="#f59a9a" stroke-width="0.9" />
<line x1="364.70" y1="374.40" x2="373.30" y2="374.40" stroke="#f59a9a" stroke-width="0.9" />
<line x1="385.50" y1="349.50" x2="385.50" y2="374.40" stroke="#9ed8f5" stroke-width="0.9" />
<line x1="381.20" y1="349.50" x2="389.80" y2="349.50" stroke="#9ed8f5" stroke-width="0.9" />
<line x1="381.20" y1="374.40" x2="389.80" y2="374.40" stroke="#9ed8f5" stroke-width="0.9" />
<line x1="336.00" y1="373.30" x2="336.00" y2="384.50" stroke="#b0b0fa" stroke-width="0.9" />
<line x1="331.70" y1="373.30" x2="340.30" y2="373.30" stroke="#b0b0fa" stroke-width="0.9" />
<line x1="331.70" y1="384.50" x2="340.30" y2="384.50" stroke="#b0b0fa" stroke-width="0.9" />
<line x1="286.50" y1="325.30" x2="286.50" y2="331.50" stroke="#f8cc88" stroke-width="0.9" />
<line x1="282.20" y1="325.30" x2="290.80" y2="325.30" stroke="#f8cc88" stroke-width="0.9" />
<line x1="282.20" y1="331.50" x2="290.80" y2="331.50" stroke="#f8cc88" stroke-width="0.9" />
<line x1="355.50" y1="303.00" x2="355.50" y2="315.00" stroke="#6a6a6a" stroke-width="0.8" stroke-dasharray="1.4,1.0"/>
<line x1="372.20" y1="360.50" x2="372.20" y2="374.40" stroke="#6a6a6a" stroke-width="0.8" stroke-dasharray="1.4,1.0"/>
<line x1="389.20" y1="355.00" x2="389.20" y2="367.40" stroke="#6a6a6a" stroke-width="0.8" stroke-dasharray="1.4,1.0"/>
<line x1="339.30" y1="373.00" x2="339.30" y2="385.00" stroke="#6a6a6a" stroke-width="0.8" stroke-dasharray="1.4,1.0"/>
<circle cx="286.50" cy="270.60" r="3.35" fill="#6666f8" stroke="none" stroke-width="1.2"/>
<circle cx="286.50" cy="271.00" r="2.75" fill="#fff" stroke="#1f55f5" stroke-width="1.25"/>
<circle cx="286.50" cy="271.60" r="3.35" fill="#f2000f" stroke="none" stroke-width="1.2"/>
<circle cx="369.00" cy="367.40" r="3.35" fill="#f2000f" stroke="none" stroke-width="1.2"/>
<circle cx="352.50" cy="353.00" r="3.35" fill="#45b9f2" stroke="none" stroke-width="1.2"/>
<circle cx="385.50" cy="361.90" r="3.35" fill="#45b9f2" stroke="none" stroke-width="1.2"/>
<circle cx="336.00" cy="379.10" r="3.35" fill="#6666f8" stroke="none" stroke-width="1.2"/>
<circle cx="352.50" cy="309.20" r="2.75" fill="#fff" stroke="#1f55f5" stroke-width="1.25"/>
<circle cx="286.50" cy="328.40" r="2.75" fill="#fff" stroke="#f7a21b" stroke-width="1.25"/>
<circle cx="351.50" cy="236.50" r="3.35" fill="#f2000f" stroke="none" stroke-width="1.2"/>
<text class="lg" x="358.90" y="239.00" font-size="7" fill="#333">BaSn<tspan dy="2.0" font-size="4.5">1−<tspan font-style="italic">x</tspan></tspan><tspan dy="-2.0">Sc</tspan><tspan dy="2.0" font-size="4.5" font-style="italic">x</tspan><tspan dy="-2.0">O</tspan><tspan dy="2.0" font-size="4.5">3−<tspan font-style="italic">δ</tspan></tspan></text>
<circle cx="351.50" cy="248.30" r="3.35" fill="#45b9f2" stroke="none" stroke-width="1.2"/>
<text class="lg" x="358.90" y="250.80" font-size="7" fill="#333">BaTi<tspan dy="2.0" font-size="4.5">1−<tspan font-style="italic">x</tspan></tspan><tspan dy="-2.0">Sc</tspan><tspan dy="2.0" font-size="4.5" font-style="italic">x</tspan><tspan dy="-2.0">O</tspan><tspan dy="2.0" font-size="4.5">3−<tspan font-style="italic">δ</tspan></tspan></text>
<circle cx="351.50" cy="259.90" r="3.35" fill="#6666f8" stroke="none" stroke-width="1.2"/>
<text class="lg" x="358.90" y="262.40" font-size="7" fill="#333">BaHf<tspan dy="2.0" font-size="4.5">1−<tspan font-style="italic">x</tspan></tspan><tspan dy="-2.0">Sc</tspan><tspan dy="2.0" font-size="4.5" font-style="italic">x</tspan><tspan dy="-2.0">O</tspan><tspan dy="2.0" font-size="4.5">3−<tspan font-style="italic">δ</tspan></tspan></text>
<circle cx="351.50" cy="271.70" r="2.75" fill="#fff" stroke="#1f55f5" stroke-width="1.25"/>
<text class="lg" x="358.90" y="274.20" font-size="7" fill="#333">BaZr<tspan dy="2.0" font-size="4.5">1−<tspan font-style="italic">x</tspan></tspan><tspan dy="-2.0">Sc</tspan><tspan dy="2.0" font-size="4.5" font-style="italic">x</tspan><tspan dy="-2.0">O</tspan><tspan dy="2.0" font-size="4.5">3−<tspan font-style="italic">δ</tspan></tspan></text>
<circle cx="351.50" cy="283.30" r="2.75" fill="#fff" stroke="#f7a21b" stroke-width="1.25"/>
<text class="lg" x="358.90" y="285.80" font-size="7" fill="#333">BaZr<tspan dy="2.0" font-size="4.5">1−<tspan font-style="italic">x</tspan></tspan><tspan dy="-2.0">Y</tspan><tspan dy="2.0" font-size="4.5" font-style="italic">x</tspan><tspan dy="-2.0">O</tspan><tspan dy="2.0" font-size="4.5">3−<tspan font-style="italic">δ</tspan></tspan></text>
<defs><clipPath id="fclip"><rect x="468.5" y="227.5" width="164.0" height="164.5"/></clipPath>
<linearGradient id="cbg" x1="0" y1="0" x2="0" y2="1"><stop offset="0.0000" stop-color="#f46260"/><stop offset="0.0250" stop-color="#f46a5f"/><stop offset="0.0500" stop-color="#f5735e"/><stop offset="0.0750" stop-color="#f78d5f"/><stop offset="0.1000" stop-color="#f9a162"/><stop offset="0.1250" stop-color="#fbaf65"/><stop offset="0.1500" stop-color="#fcbf68"/><stop offset="0.1750" stop-color="#fccf6f"/><stop offset="0.2000" stop-color="#fddd7d"/><stop offset="0.2250" stop-color="#fde88f"/><stop offset="0.2500" stop-color="#fdf1a3"/><stop offset="0.2750" stop-color="#faf6b7"/><stop offset="0.3000" stop-color="#f6f8c3"/><stop offset="0.3250" stop-color="#f0f8cc"/><stop offset="0.3500" stop-color="#eaf8d4"/><stop offset="0.3750" stop-color="#e5f8dc"/><stop offset="0.4000" stop-color="#def7e3"/><stop offset="0.4250" stop-color="#d8f6e9"/><stop offset="0.4500" stop-color="#d3f6ef"/><stop offset="0.4750" stop-color="#cff5f2"/><stop offset="0.5000" stop-color="#cbf4f6"/><stop offset="0.5250" stop-color="#c7f4f8"/><stop offset="0.5500" stop-color="#c5f2f9"/><stop offset="0.5750" stop-color="#c3f1f9"/><stop offset="0.6000" stop-color="#c1eff9"/><stop offset="0.6250" stop-color="#bfeefa"/><stop offset="0.6500" stop-color="#bdecfa"/><stop offset="0.6750" stop-color="#bbebfa"/><stop offset="0.7000" stop-color="#b9e9fa"/><stop offset="0.7250" stop-color="#b6e8fa"/><stop offset="0.7500" stop-color="#b4e6fa"/><stop offset="0.7750" stop-color="#b3e5fa"/><stop offset="0.8000" stop-color="#b2e5fa"/><stop offset="0.8250" stop-color="#b1e4f9"/><stop offset="0.8500" stop-color="#b1e3f9"/><stop offset="0.8750" stop-color="#b0e3f9"/><stop offset="0.9000" stop-color="#afe2f9"/><stop offset="0.9250" stop-color="#aee1f9"/><stop offset="0.9500" stop-color="#ade1f8"/><stop offset="0.9750" stop-color="#ace0f8"/><stop offset="1.0000" stop-color="#abdff8"/></linearGradient></defs>
<g clip-path="url(#fclip)">
<rect x="468.5" y="227.5" width="164.0" height="164.5" fill="#aaddf7"/>
<path d="M468.9,226.5 L468.9,228.5 L468.9,230.5 L468.9,232.5 L469.0,234.5 L469.0,236.5 L469.0,238.5 L469.1,240.5 L469.1,242.5 L469.2,244.5 L469.2,246.5 L469.2,248.5 L469.3,250.5 L469.4,252.5 L469.4,254.5 L469.5,256.5 L469.5,258.5 L469.6,260.5 L469.7,262.5 L469.8,264.5 L469.8,266.5 L469.9,268.5 L470.0,270.5 L470.1,272.5 L470.3,274.5 L470.4,276.5 L470.5,278.5 L470.6,280.5 L470.8,282.5 L470.9,284.5 L471.1,286.5 L471.3,288.5 L471.5,290.5 L471.7,292.5 L471.9,294.5 L472.1,296.5 L472.4,298.5 L472.6,300.5 L472.9,302.5 L473.2,304.5 L473.5,306.5 L473.9,308.5 L474.3,310.5 L474.6,312.5 L475.1,314.5 L475.5,316.5 L476.0,318.5 L476.5,320.5 L477.0,322.5 L477.6,324.5 L478.2,326.5 L478.9,328.5 L479.6,330.5 L480.4,332.5 L481.2,334.5 L482.0,336.5 L483.0,338.5 L484.0,340.5 L485.0,342.5 L486.1,344.5 L487.3,346.5 L488.6,348.5 L490.0,350.5 L491.4,352.5 L493.0,354.5 L494.7,356.5 L496.5,358.5 L498.4,360.5 L500.4,362.5 L502.6,364.5 L504.9,366.5 L507.4,368.5 L510.0,370.5 L512.8,372.5 L515.9,374.5 L519.1,376.5 L522.5,378.5 L526.2,380.5 L530.1,382.5 L534.3,384.5 L538.8,386.5 L543.6,388.5 L548.7,390.5 L554.2,392.5 L634.5,392.5 L634.5,226.5 Z" fill="#aaddf7"/>
<path d="M468.9,226.5 L468.9,228.5 L468.9,230.5 L469.0,232.5 L469.0,234.5 L469.0,236.5 L469.1,238.5 L469.1,240.5 L469.1,242.5 L469.2,244.5 L469.2,246.5 L469.3,248.5 L469.3,250.5 L469.4,252.5 L469.5,254.5 L469.5,256.5 L469.6,258.5 L469.7,260.5 L469.8,262.5 L469.8,264.5 L469.9,266.5 L470.0,268.5 L470.1,270.5 L470.2,272.5 L470.4,274.5 L470.5,276.5 L470.6,278.5 L470.8,280.5 L470.9,282.5 L471.1,284.5 L471.3,286.5 L471.5,288.5 L471.7,290.5 L471.9,292.5 L472.1,294.5 L472.3,296.5 L472.6,298.5 L472.9,300.5 L473.2,302.5 L473.5,304.5 L473.8,306.5 L474.2,308.5 L474.6,310.5 L475.0,312.5 L475.5,314.5 L475.9,316.5 L476.4,318.5 L477.0,320.5 L477.5,322.5 L478.2,324.5 L478.8,326.5 L479.5,328.5 L480.3,330.5 L481.1,332.5 L481.9,334.5 L482.8,336.5 L483.8,338.5 L484.9,340.5 L486.0,342.5 L487.2,344.5 L488.4,346.5 L489.8,348.5 L491.3,350.5 L492.8,352.5 L494.5,354.5 L496.2,356.5 L498.1,358.5 L500.1,360.5 L502.3,362.5 L504.6,364.5 L507.0,366.5 L509.7,368.5 L512.5,370.5 L515.5,372.5 L518.7,374.5 L522.1,376.5 L525.7,378.5 L529.6,380.5 L533.8,382.5 L538.2,384.5 L543.0,386.5 L548.1,388.5 L553.5,390.5 L559.3,392.5 L634.5,392.5 L634.5,226.5 Z" fill="#abdef7"/>
<path d="M468.9,226.5 L468.9,228.5 L469.0,230.5 L469.0,232.5 L469.0,234.5 L469.1,236.5 L469.1,238.5 L469.1,240.5 L469.2,242.5 L469.2,244.5 L469.3,246.5 L469.3,248.5 L469.4,250.5 L469.5,252.5 L469.5,254.5 L469.6,256.5 L469.7,258.5 L469.7,260.5 L469.8,262.5 L469.9,264.5 L470.0,266.5 L470.1,268.5 L470.2,270.5 L470.3,272.5 L470.5,274.5 L470.6,276.5 L470.7,278.5 L470.9,280.5 L471.1,282.5 L471.2,284.5 L471.4,286.5 L471.6,288.5 L471.8,290.5 L472.1,292.5 L472.3,294.5 L472.6,296.5 L472.8,298.5 L473.1,300.5 L473.5,302.5 L473.8,304.5 L474.2,306.5 L474.5,308.5 L475.0,310.5 L475.4,312.5 L475.9,314.5 L476.4,316.5 L476.9,318.5 L477.5,320.5 L478.1,322.5 L478.7,324.5 L479.4,326.5 L480.2,328.5 L481.0,330.5 L481.8,332.5 L482.7,334.5 L483.7,336.5 L484.7,338.5 L485.8,340.5 L487.0,342.5 L488.3,344.5 L489.6,346.5 L491.1,348.5 L492.6,350.5 L494.2,352.5 L496.0,354.5 L497.9,356.5 L499.9,358.5 L502.0,360.5 L504.3,362.5 L506.7,364.5 L509.3,366.5 L512.1,368.5 L515.1,370.5 L518.2,372.5 L521.6,374.5 L525.3,376.5 L529.1,378.5 L533.2,380.5 L537.7,382.5 L542.4,384.5 L547.4,386.5 L552.8,388.5 L558.5,390.5 L564.6,392.5 L634.5,392.5 L634.5,226.5 Z" fill="#abdef7"/>
<path d="M468.9,226.5 L469.0,228.5 L469.0,230.5 L469.0,232.5 L469.1,234.5 L469.1,236.5 L469.1,238.5 L469.2,240.5 L469.2,242.5 L469.3,244.5 L469.3,246.5 L469.4,248.5 L469.4,250.5 L469.5,252.5 L469.6,254.5 L469.7,256.5 L469.7,258.5 L469.8,260.5 L469.9,262.5 L470.0,264.5 L470.1,266.5 L470.2,268.5 L470.3,270.5 L470.5,272.5 L470.6,274.5 L470.7,276.5 L470.9,278.5 L471.0,280.5 L471.2,282.5 L471.4,284.5 L471.6,286.5 L471.8,288.5 L472.0,290.5 L472.3,292.5 L472.5,294.5 L472.8,296.5 L473.1,298.5 L473.4,300.5 L473.8,302.5 L474.1,304.5 L474.5,306.5 L474.9,308.5 L475.3,310.5 L475.8,312.5 L476.3,314.5 L476.8,316.5 L477.4,318.5 L478.0,320.5 L478.6,322.5 L479.3,324.5 L480.1,326.5 L480.9,328.5 L481.7,330.5 L482.6,332.5 L483.6,334.5 L484.6,336.5 L485.7,338.5 L486.9,340.5 L488.1,342.5 L489.5,344.5 L490.9,346.5 L492.4,348.5 L494.0,350.5 L495.8,352.5 L497.6,354.5 L499.6,356.5 L501.7,358.5 L504.0,360.5 L506.4,362.5 L509.0,364.5 L511.7,366.5 L514.7,368.5 L517.8,370.5 L521.2,372.5 L524.8,374.5 L528.6,376.5 L532.7,378.5 L537.1,380.5 L541.8,382.5 L546.7,384.5 L552.1,386.5 L557.8,388.5 L563.8,390.5 L570.3,392.5 L634.5,392.5 L634.5,226.5 Z" fill="#acdff8"/>
<path d="M469.0,226.5 L469.0,228.5 L469.0,230.5 L469.1,232.5 L469.1,234.5 L469.1,236.5 L469.2,238.5 L469.2,240.5 L469.3,242.5 L469.3,244.5 L469.4,246.5 L469.4,248.5 L469.5,250.5 L469.6,252.5 L469.6,254.5 L469.7,256.5 L469.8,258.5 L469.9,260.5 L470.0,262.5 L470.1,264.5 L470.2,266.5 L470.3,268.5 L470.4,270.5 L470.6,272.5 L470.7,274.5 L470.9,276.5 L471.0,278.5 L471.2,280.5 L471.4,282.5 L471.6,284.5 L471.8,286.5 L472.0,288.5 L472.2,290.5 L472.5,292.5 L472.8,294.5 L473.1,296.5 L473.4,298.5 L473.7,300.5 L474.1,302.5 L474.4,304.5 L474.8,306.5 L475.3,308.5 L475.7,310.5 L476.2,312.5 L476.8,314.5 L477.3,316.5 L477.9,318.5 L478.6,320.5 L479.3,322.5 L480.0,324.5 L480.8,326.5 L481.6,328.5 L482.5,330.5 L483.4,332.5 L484.5,334.5 L485.6,336.5 L486.7,338.5 L488.0,340.5 L489.3,342.5 L490.7,344.5 L492.2,346.5 L493.8,348.5 L495.5,350.5 L497.4,352.5 L499.4,354.5 L501.5,356.5 L503.7,358.5 L506.1,360.5 L508.7,362.5 L511.4,364.5 L514.3,366.5 L517.4,368.5 L520.8,370.5 L524.3,372.5 L528.1,374.5 L532.2,376.5 L536.5,378.5 L541.1,380.5 L546.1,382.5 L551.4,384.5 L557.0,386.5 L563.1,388.5 L569.5,390.5 L576.4,392.5 L634.5,392.5 L634.5,226.5 Z" fill="#acdff8"/>
<path d="M469.0,226.5 L469.0,228.5 L469.0,230.5 L469.1,232.5 L469.1,234.5 L469.2,236.5 L469.2,238.5 L469.3,240.5 L469.3,242.5 L469.4,244.5 L469.4,246.5 L469.5,248.5 L469.6,250.5 L469.6,252.5 L469.7,254.5 L469.8,256.5 L469.9,258.5 L470.0,260.5 L470.1,262.5 L470.2,264.5 L470.3,266.5 L470.4,268.5 L470.6,270.5 L470.7,272.5 L470.8,274.5 L471.0,276.5 L471.2,278.5 L471.4,280.5 L471.5,282.5 L471.8,284.5 L472.0,286.5 L472.2,288.5 L472.5,290.5 L472.7,292.5 L473.0,294.5 L473.3,296.5 L473.7,298.5 L474.0,300.5 L474.4,302.5 L474.8,304.5 L475.2,306.5 L475.7,308.5 L476.2,310.5 L476.7,312.5 L477.3,314.5 L477.8,316.5 L478.5,318.5 L479.2,320.5 L479.9,322.5 L480.7,324.5 L481.5,326.5 L482.4,328.5 L483.3,330.5 L484.3,332.5 L485.4,334.5 L486.6,336.5 L487.8,338.5 L489.1,340.5 L490.5,342.5 L492.0,344.5 L493.6,346.5 L495.3,348.5 L497.1,350.5 L499.1,352.5 L501.2,354.5 L503.4,356.5 L505.8,358.5 L508.3,360.5 L511.0,362.5 L513.9,364.5 L517.0,366.5 L520.3,368.5 L523.9,370.5 L527.6,372.5 L531.7,374.5 L536.0,376.5 L540.5,378.5 L545.5,380.5 L550.7,382.5 L556.3,384.5 L562.3,386.5 L568.7,388.5 L575.5,390.5 L582.8,392.5 L634.5,392.5 L634.5,226.5 Z" fill="#ade0f8"/>
<path d="M469.0,226.5 L469.0,228.5 L469.1,230.5 L469.1,232.5 L469.2,234.5 L469.2,236.5 L469.3,238.5 L469.3,240.5 L469.4,242.5 L469.4,244.5 L469.5,246.5 L469.6,248.5 L469.6,250.5 L469.7,252.5 L469.8,254.5 L469.9,256.5 L470.0,258.5 L470.1,260.5 L470.2,262.5 L470.3,264.5 L470.4,266.5 L470.5,268.5 L470.7,270.5 L470.8,272.5 L471.0,274.5 L471.2,276.5 L471.3,278.5 L471.5,280.5 L471.7,282.5 L472.0,284.5 L472.2,286.5 L472.4,288.5 L472.7,290.5 L473.0,292.5 L473.3,294.5 L473.6,296.5 L474.0,298.5 L474.3,300.5 L474.7,302.5 L475.2,304.5 L475.6,306.5 L476.1,308.5 L476.6,310.5 L477.2,312.5 L477.8,314.5 L478.4,316.5 L479.1,318.5 L479.8,320.5 L480.6,322.5 L481.4,324.5 L482.3,326.5 L483.2,328.5 L484.2,330.5 L485.3,332.5 L486.4,334.5 L487.6,336.5 L488.9,338.5 L490.3,340.5 L491.8,342.5 L493.4,344.5 L495.1,346.5 L496.9,348.5 L498.8,350.5 L500.9,352.5 L503.1,354.5 L505.5,356.5 L508.0,358.5 L510.7,360.5 L513.6,362.5 L516.6,364.5 L519.9,366.5 L523.4,368.5 L527.1,370.5 L531.1,372.5 L535.4,374.5 L539.9,376.5 L544.8,378.5 L550.0,380.5 L555.6,382.5 L561.5,384.5 L567.8,386.5 L574.6,388.5 L581.8,390.5 L589.5,392.5 L634.5,392.5 L634.5,226.5 Z" fill="#aee0f8"/>
<path d="M469.0,226.5 L469.1,228.5 L469.1,230.5 L469.2,232.5 L469.2,234.5 L469.3,236.5 L469.3,238.5 L469.4,240.5 L469.4,242.5 L469.5,244.5 L469.5,246.5 L469.6,248.5 L469.7,250.5 L469.8,252.5 L469.9,254.5 L470.0,256.5 L470.1,258.5 L470.2,260.5 L470.3,262.5 L470.4,264.5 L470.5,266.5 L470.7,268.5 L470.8,270.5 L471.0,272.5 L471.1,274.5 L471.3,276.5 L471.5,278.5 L471.7,280.5 L471.9,282.5 L472.2,284.5 L472.4,286.5 L472.7,288.5 L473.0,290.5 L473.3,292.5 L473.6,294.5 L473.9,296.5 L474.3,298.5 L474.7,300.5 L475.1,302.5 L475.6,304.5 L476.0,306.5 L476.6,308.5 L477.1,310.5 L477.7,312.5 L478.3,314.5 L479.0,316.5 L479.7,318.5 L480.5,320.5 L481.3,322.5 L482.1,324.5 L483.1,326.5 L484.1,328.5 L485.1,330.5 L486.3,332.5 L487.5,334.5 L488.8,336.5 L490.1,338.5 L491.6,340.5 L493.2,342.5 L494.9,344.5 L496.7,346.5 L498.6,348.5 L500.6,350.5 L502.8,352.5 L505.2,354.5 L507.7,356.5 L510.3,358.5 L513.2,360.5 L516.2,362.5 L519.5,364.5 L522.9,366.5 L526.6,368.5 L530.6,370.5 L534.8,372.5 L539.4,374.5 L544.2,376.5 L549.3,378.5 L554.8,380.5 L560.7,382.5 L567.0,384.5 L573.7,386.5 L580.9,388.5 L588.5,390.5 L596.7,392.5 L634.5,392.5 L634.5,226.5 Z" fill="#aee1f8"/>
<path d="M469.1,226.5 L469.1,228.5 L469.2,230.5 L469.2,232.5 L469.2,234.5 L469.3,236.5 L469.4,238.5 L469.4,240.5 L469.5,242.5 L469.5,244.5 L469.6,246.5 L469.7,248.5 L469.8,250.5 L469.8,252.5 L469.9,254.5 L470.0,256.5 L470.1,258.5 L470.3,260.5 L470.4,262.5 L470.5,264.5 L470.6,266.5 L470.8,268.5 L470.9,270.5 L471.1,272.5 L471.3,274.5 L471.5,276.5 L471.7,278.5 L471.9,280.5 L472.1,282.5 L472.4,284.5 L472.6,286.5 L472.9,288.5 L473.2,290.5 L473.5,292.5 L473.9,294.5 L474.2,296.5 L474.6,298.5 L475.1,300.5 L475.5,302.5 L476.0,304.5 L476.5,306.5 L477.0,308.5 L477.6,310.5 L478.2,312.5 L478.9,314.5 L479.6,316.5 L480.4,318.5 L481.2,320.5 L482.0,322.5 L483.0,324.5 L483.9,326.5 L485.0,328.5 L486.1,330.5 L487.3,332.5 L488.6,334.5 L490.0,336.5 L491.4,338.5 L493.0,340.5 L494.7,342.5 L496.4,344.5 L498.3,346.5 L500.4,348.5 L502.5,350.5 L504.9,352.5 L507.3,354.5 L510.0,356.5 L512.8,358.5 L515.8,360.5 L519.0,362.5 L522.5,364.5 L526.2,366.5 L530.1,368.5 L534.3,370.5 L538.8,372.5 L543.6,374.5 L548.7,376.5 L554.1,378.5 L560.0,380.5 L566.2,382.5 L572.8,384.5 L579.9,386.5 L587.5,388.5 L595.6,390.5 L604.3,392.5 L634.5,392.5 L634.5,226.5 Z" fill="#afe1f8"/>
<path d="M469.1,226.5 L469.1,228.5 L469.2,230.5 L469.2,232.5 L469.3,234.5 L469.3,236.5 L469.4,238.5 L469.5,240.5 L469.5,242.5 L469.6,244.5 L469.7,246.5 L469.8,248.5 L469.8,250.5 L469.9,252.5 L470.0,254.5 L470.1,256.5 L470.2,258.5 L470.4,260.5 L470.5,262.5 L470.6,264.5 L470.8,266.5 L470.9,268.5 L471.1,270.5 L471.3,272.5 L471.4,274.5 L471.7,276.5 L471.9,278.5 L472.1,280.5 L472.3,282.5 L472.6,284.5 L472.9,286.5 L473.2,288.5 L473.5,290.5 L473.8,292.5 L474.2,294.5 L474.6,296.5 L475.0,298.5 L475.4,300.5 L475.9,302.5 L476.4,304.5 L477.0,306.5 L477.5,308.5 L478.2,310.5 L478.8,312.5 L479.5,314.5 L480.3,316.5 L481.1,318.5 L481.9,320.5 L482.8,322.5 L483.8,324.5 L484.9,326.5 L486.0,328.5 L487.2,330.5 L488.4,332.5 L489.8,334.5 L491.2,336.5 L492.8,338.5 L494.4,340.5 L496.2,342.5 L498.1,344.5 L500.1,346.5 L502.3,348.5 L504.6,350.5 L507.0,352.5 L509.6,354.5 L512.4,356.5 L515.4,358.5 L518.6,360.5 L522.0,362.5 L525.7,364.5 L529.6,366.5 L533.7,368.5 L538.2,370.5 L542.9,372.5 L548.0,374.5 L553.4,376.5 L559.2,378.5 L565.4,380.5 L572.0,382.5 L579.0,384.5 L586.5,386.5 L594.6,388.5 L603.2,390.5 L612.3,392.5 L634.5,392.5 L634.5,226.5 Z" fill="#afe2f8"/>
<path d="M469.1,226.5 L469.2,228.5 L469.2,230.5 L469.3,232.5 L469.3,234.5 L469.4,236.5 L469.5,238.5 L469.5,240.5 L469.6,242.5 L469.7,244.5 L469.7,246.5 L469.8,248.5 L469.9,250.5 L470.0,252.5 L470.1,254.5 L470.2,256.5 L470.3,258.5 L470.5,260.5 L470.6,262.5 L470.7,264.5 L470.9,266.5 L471.1,268.5 L471.2,270.5 L471.4,272.5 L471.6,274.5 L471.8,276.5 L472.1,278.5 L472.3,280.5 L472.6,282.5 L472.8,284.5 L473.1,286.5 L473.5,288.5 L473.8,290.5 L474.2,292.5 L474.5,294.5 L474.9,296.5 L475.4,298.5 L475.9,300.5 L476.4,302.5 L476.9,304.5 L477.5,306.5 L478.1,308.5 L478.7,310.5 L479.4,312.5 L480.2,314.5 L481.0,316.5 L481.8,318.5 L482.7,320.5 L483.7,322.5 L484.7,324.5 L485.8,326.5 L487.0,328.5 L488.3,330.5 L489.6,332.5 L491.0,334.5 L492.6,336.5 L494.2,338.5 L496.0,340.5 L497.8,342.5 L499.8,344.5 L502.0,346.5 L504.3,348.5 L506.7,350.5 L509.3,352.5 L512.1,354.5 L515.0,356.5 L518.2,358.5 L521.6,360.5 L525.2,362.5 L529.1,364.5 L533.2,366.5 L537.6,368.5 L542.3,370.5 L547.3,372.5 L552.7,374.5 L558.4,376.5 L564.6,378.5 L571.1,380.5 L578.1,382.5 L585.6,384.5 L593.5,386.5 L602.1,388.5 L611.2,390.5 L620.9,392.5 L634.5,392.5 L634.5,226.5 Z" fill="#b0e2f9"/>
<path d="M469.2,226.5 L469.2,228.5 L469.3,230.5 L469.3,232.5 L469.4,234.5 L469.4,236.5 L469.5,238.5 L469.6,240.5 L469.7,242.5 L469.7,244.5 L469.8,246.5 L469.9,248.5 L470.0,250.5 L470.1,252.5 L470.2,254.5 L470.3,256.5 L470.5,258.5 L470.6,260.5 L470.7,262.5 L470.9,264.5 L471.0,266.5 L471.2,268.5 L471.4,270.5 L471.6,272.5 L471.8,274.5 L472.0,276.5 L472.3,278.5 L472.5,280.5 L472.8,282.5 L473.1,284.5 L473.4,286.5 L473.7,288.5 L474.1,290.5 L474.5,292.5 L474.9,294.5 L475.3,296.5 L475.8,298.5 L476.3,300.5 L476.8,302.5 L477.4,304.5 L478.0,306.5 L478.6,308.5 L479.3,310.5 L480.1,312.5 L480.9,314.5 L481.7,316.5 L482.6,318.5 L483.6,320.5 L484.6,322.5 L485.7,324.5 L486.9,326.5 L488.1,328.5 L489.4,330.5 L490.9,332.5 L492.4,334.5 L494.0,336.5 L495.7,338.5 L497.6,340.5 L499.6,342.5 L501.7,344.5 L504.0,346.5 L506.4,348.5 L509.0,350.5 L511.7,352.5 L514.7,354.5 L517.8,356.5 L521.2,358.5 L524.7,360.5 L528.6,362.5 L532.7,364.5 L537.0,366.5 L541.7,368.5 L546.7,370.5 L552.0,372.5 L557.7,374.5 L563.8,376.5 L570.3,378.5 L577.2,380.5 L584.6,382.5 L592.5,384.5 L601.0,386.5 L610.0,388.5 L619.6,390.5 L629.9,392.5 L634.5,392.5 L634.5,226.5 Z" fill="#b0e3f9"/>
<path d="M469.2,226.5 L469.3,228.5 L469.3,230.5 L469.4,232.5 L469.4,234.5 L469.5,236.5 L469.6,238.5 L469.6,240.5 L469.7,242.5 L469.8,244.5 L469.9,246.5 L470.0,248.5 L470.1,250.5 L470.2,252.5 L470.3,254.5 L470.4,256.5 L470.6,258.5 L470.7,260.5 L470.9,262.5 L471.0,264.5 L471.2,266.5 L471.4,268.5 L471.6,270.5 L471.8,272.5 L472.0,274.5 L472.2,276.5 L472.5,278.5 L472.8,280.5 L473.1,282.5 L473.4,284.5 L473.7,286.5 L474.1,288.5 L474.4,290.5 L474.8,292.5 L475.3,294.5 L475.7,296.5 L476.2,298.5 L476.8,300.5 L477.3,302.5 L477.9,304.5 L478.6,306.5 L479.2,308.5 L480.0,310.5 L480.8,312.5 L481.6,314.5 L482.5,316.5 L483.4,318.5 L484.5,320.5 L485.5,322.5 L486.7,324.5 L487.9,326.5 L489.3,328.5 L490.7,330.5 L492.2,332.5 L493.8,334.5 L495.5,336.5 L497.4,338.5 L499.3,340.5 L501.4,342.5 L503.7,344.5 L506.1,346.5 L508.6,348.5 L511.4,350.5 L514.3,352.5 L517.4,354.5 L520.7,356.5 L524.3,358.5 L528.1,360.5 L532.1,362.5 L536.5,364.5 L541.1,366.5 L546.0,368.5 L551.3,370.5 L557.0,372.5 L563.0,374.5 L569.4,376.5 L576.3,378.5 L583.6,380.5 L591.5,382.5 L599.9,384.5 L608.8,386.5 L618.4,388.5 L628.6,390.5 L634.5,392.5 L634.5,392.5 L634.5,226.5 Z" fill="#b1e3f9"/>
<path d="M469.3,226.5 L469.3,228.5 L469.4,230.5 L469.4,232.5 L469.5,234.5 L469.6,236.5 L469.6,238.5 L469.7,240.5 L469.8,242.5 L469.9,244.5 L470.0,246.5 L470.1,248.5 L470.2,250.5 L470.3,252.5 L470.4,254.5 L470.6,256.5 L470.7,258.5 L470.8,260.5 L471.0,262.5 L471.2,264.5 L471.4,266.5 L471.5,268.5 L471.8,270.5 L472.0,272.5 L472.2,274.5 L472.5,276.5 L472.7,278.5 L473.0,280.5 L473.3,282.5 L473.7,284.5 L474.0,286.5 L474.4,288.5 L474.8,290.5 L475.2,292.5 L475.7,294.5 L476.2,296.5 L476.7,298.5 L477.2,300.5 L477.8,302.5 L478.5,304.5 L479.2,306.5 L479.9,308.5 L480.7,310.5 L481.5,312.5 L482.4,314.5 L483.3,316.5 L484.3,318.5 L485.4,320.5 L486.5,322.5 L487.8,324.5 L489.1,326.5 L490.5,328.5 L492.0,330.5 L493.6,332.5 L495.3,334.5 L497.1,336.5 L499.1,338.5 L501.2,340.5 L503.4,342.5 L505.8,344.5 L508.3,346.5 L511.0,348.5 L513.9,350.5 L517.0,352.5 L520.3,354.5 L523.8,356.5 L527.6,358.5 L531.6,360.5 L535.9,362.5 L540.5,364.5 L545.4,366.5 L550.6,368.5 L556.2,370.5 L562.2,372.5 L568.6,374.5 L575.4,376.5 L582.7,378.5 L590.5,380.5 L598.8,382.5 L607.6,384.5 L617.1,386.5 L627.2,388.5 L634.5,390.5 L634.5,392.5 L634.5,392.5 L634.5,226.5 Z" fill="#b1e4f9"/>
<path d="M469.3,226.5 L469.4,228.5 L469.4,230.5 L469.5,232.5 L469.6,234.5 L469.6,236.5 L469.7,238.5 L469.8,240.5 L469.9,242.5 L470.0,244.5 L470.1,246.5 L470.2,248.5 L470.3,250.5 L470.4,252.5 L470.5,254.5 L470.7,256.5 L470.8,258.5 L471.0,260.5 L471.1,262.5 L471.3,264.5 L471.5,266.5 L471.7,268.5 L471.9,270.5 L472.2,272.5 L472.4,274.5 L472.7,276.5 L473.0,278.5 L473.3,280.5 L473.6,282.5 L474.0,284.5 L474.3,286.5 L474.7,288.5 L475.2,290.5 L475.6,292.5 L476.1,294.5 L476.6,296.5 L477.2,298.5 L477.8,300.5 L478.4,302.5 L479.1,304.5 L479.8,306.5 L480.6,308.5 L481.4,310.5 L482.3,312.5 L483.2,314.5 L484.2,316.5 L485.3,318.5 L486.4,320.5 L487.6,322.5 L488.9,324.5 L490.3,326.5 L491.8,328.5 L493.4,330.5 L495.1,332.5 L496.9,334.5 L498.8,336.5 L500.9,338.5 L503.1,340.5 L505.4,342.5 L508.0,344.5 L510.7,346.5 L513.5,348.5 L516.6,350.5 L519.9,352.5 L523.4,354.5 L527.1,356.5 L531.1,358.5 L535.3,360.5 L539.9,362.5 L544.8,364.5 L550.0,366.5 L555.5,368.5 L561.4,370.5 L567.8,372.5 L574.5,374.5 L581.7,376.5 L589.5,378.5 L597.7,380.5 L606.5,382.5 L615.9,384.5 L625.9,386.5 L634.5,388.5 L634.5,390.5 L634.5,392.5 L634.5,392.5 L634.5,226.5 Z" fill="#b2e4f9"/>
<path d="M469.4,226.5 L469.4,228.5 L469.5,230.5 L469.5,232.5 L469.6,234.5 L469.7,236.5 L469.8,238.5 L469.9,240.5 L470.0,242.5 L470.1,244.5 L470.2,246.5 L470.3,248.5 L470.4,250.5 L470.5,252.5 L470.7,254.5 L470.8,256.5 L471.0,258.5 L471.1,260.5 L471.3,262.5 L471.5,264.5 L471.7,266.5 L471.9,268.5 L472.2,270.5 L472.4,272.5 L472.7,274.5 L473.0,276.5 L473.3,278.5 L473.6,280.5 L473.9,282.5 L474.3,284.5 L474.7,286.5 L475.1,288.5 L475.6,290.5 L476.0,292.5 L476.6,294.5 L477.1,296.5 L477.7,298.5 L478.3,300.5 L479.0,302.5 L479.7,304.5 L480.5,306.5 L481.3,308.5 L482.1,310.5 L483.1,312.5 L484.1,314.5 L485.1,316.5 L486.3,318.5 L487.5,320.5 L488.8,322.5 L490.1,324.5 L491.6,326.5 L493.2,328.5 L494.9,330.5 L496.7,332.5 L498.6,334.5 L500.6,336.5 L502.8,338.5 L505.1,340.5 L507.6,342.5 L510.3,344.5 L513.1,346.5 L516.2,348.5 L519.4,350.5 L522.9,352.5 L526.6,354.5 L530.6,356.5 L534.8,358.5 L539.3,360.5 L544.1,362.5 L549.3,364.5 L554.8,366.5 L560.7,368.5 L566.9,370.5 L573.6,372.5 L580.8,374.5 L588.4,376.5 L596.6,378.5 L605.3,380.5 L614.7,382.5 L624.6,384.5 L634.5,386.5 L634.5,388.5 L634.5,390.5 L634.5,392.5 L634.5,392.5 L634.5,226.5 Z" fill="#b3e5f9"/>
<path d="M469.4,226.5 L469.5,228.5 L469.5,230.5 L469.6,232.5 L469.7,234.5 L469.8,236.5 L469.8,238.5 L469.9,240.5 L470.0,242.5 L470.1,244.5 L470.3,246.5 L470.4,248.5 L470.5,250.5 L470.6,252.5 L470.8,254.5 L470.9,256.5 L471.1,258.5 L471.3,260.5 L471.5,262.5 L471.7,264.5 L471.9,266.5 L472.1,268.5 L472.4,270.5 L472.6,272.5 L472.9,274.5 L473.2,276.5 L473.5,278.5 L473.9,280.5 L474.2,282.5 L474.6,284.5 L475.1,286.5 L475.5,288.5 L476.0,290.5 L476.5,292.5 L477.0,294.5 L477.6,296.5 L478.2,298.5 L478.9,300.5 L479.6,302.5 L480.4,304.5 L481.2,306.5 L482.0,308.5 L482.9,310.5 L483.9,312.5 L485.0,314.5 L486.1,316.5 L487.3,318.5 L488.6,320.5 L490.0,322.5 L491.4,324.5 L493.0,326.5 L494.6,328.5 L496.4,330.5 L498.3,332.5 L500.4,334.5 L502.5,336.5 L504.8,338.5 L507.3,340.5 L510.0,342.5 L512.8,344.5 L515.8,346.5 L519.0,348.5 L522.5,350.5 L526.1,352.5 L530.1,354.5 L534.2,356.5 L538.7,358.5 L543.5,360.5 L548.6,362.5 L554.1,364.5 L559.9,366.5 L566.1,368.5 L572.8,370.5 L579.9,372.5 L587.5,374.5 L595.6,376.5 L604.2,378.5 L613.5,380.5 L623.3,382.5 L633.9,384.5 L634.5,386.5 L634.5,388.5 L634.5,390.5 L634.5,392.5 L634.5,392.5 L634.5,226.5 Z" fill="#b3e5f9"/>
<path d="M469.5,226.5 L469.5,228.5 L469.6,230.5 L469.7,232.5 L469.8,234.5 L469.8,236.5 L469.9,238.5 L470.0,240.5 L470.1,242.5 L470.2,244.5 L470.4,246.5 L470.5,248.5 L470.6,250.5 L470.8,252.5 L470.9,254.5 L471.1,256.5 L471.3,258.5 L471.4,260.5 L471.6,262.5 L471.9,264.5 L472.1,266.5 L472.3,268.5 L472.6,270.5 L472.9,272.5 L473.2,274.5 L473.5,276.5 L473.8,278.5 L474.2,280.5 L474.6,282.5 L475.0,284.5 L475.4,286.5 L475.9,288.5 L476.4,290.5 L477.0,292.5 L477.5,294.5 L478.1,296.5 L478.8,298.5 L479.5,300.5 L480.3,302.5 L481.1,304.5 L481.9,306.5 L482.8,308.5 L483.8,310.5 L484.8,312.5 L486.0,314.5 L487.1,316.5 L488.4,318.5 L489.8,320.5 L491.2,322.5 L492.8,324.5 L494.4,326.5 L496.2,328.5 L498.1,330.5 L500.1,332.5 L502.2,334.5 L504.5,336.5 L507.0,338.5 L509.6,340.5 L512.4,342.5 L515.4,344.5 L518.6,346.5 L522.0,348.5 L525.7,350.5 L529.5,352.5 L533.7,354.5 L538.1,356.5 L542.9,358.5 L548.0,360.5 L553.4,362.5 L559.1,364.5 L565.3,366.5 L571.9,368.5 L578.9,370.5 L586.5,372.5 L594.5,374.5 L603.1,376.5 L612.3,378.5 L622.0,380.5 L632.5,382.5 L634.5,384.5 L634.5,386.5 L634.5,388.5 L634.5,390.5 L634.5,392.5 L634.5,392.5 L634.5,226.5 Z" fill="#b4e6fa"/>
<path d="M469.5,226.5 L469.6,228.5 L469.7,230.5 L469.7,232.5 L469.8,234.5 L469.9,236.5 L470.0,238.5 L470.1,240.5 L470.2,242.5 L470.3,244.5 L470.5,246.5 L470.6,248.5 L470.7,250.5 L470.9,252.5 L471.1,254.5 L471.2,256.5 L471.4,258.5 L471.6,260.5 L471.8,262.5 L472.1,264.5 L472.3,266.5 L472.6,268.5 L472.8,270.5 L473.1,272.5 L473.5,274.5 L473.8,276.5 L474.1,278.5 L474.5,280.5 L474.9,282.5 L475.4,284.5 L475.9,286.5 L476.4,288.5 L476.9,290.5 L477.5,292.5 L478.1,294.5 L478.7,296.5 L479.4,298.5 L480.2,300.5 L481.0,302.5 L481.8,304.5 L482.7,306.5 L483.7,308.5 L484.7,310.5 L485.8,312.5 L487.0,314.5 L488.3,316.5 L489.6,318.5 L491.0,320.5 L492.6,322.5 L494.2,324.5 L496.0,326.5 L497.8,328.5 L499.8,330.5 L502.0,332.5 L504.2,334.5 L506.7,336.5 L509.3,338.5 L512.0,340.5 L515.0,342.5 L518.2,344.5 L521.6,346.5 L525.2,348.5 L529.0,350.5 L533.2,352.5 L537.6,354.5 L542.3,356.5 L547.3,358.5 L552.7,360.5 L558.4,362.5 L564.5,364.5 L571.0,366.5 L578.0,368.5 L585.5,370.5 L593.5,372.5 L602.0,374.5 L611.1,376.5 L620.8,378.5 L631.1,380.5 L634.5,382.5 L634.5,384.5 L634.5,386.5 L634.5,388.5 L634.5,390.5 L634.5,392.5 L634.5,392.5 L634.5,226.5 Z" fill="#b4e6fa"/>
<path d="M469.6,226.5 L469.7,228.5 L469.7,230.5 L469.8,232.5 L469.9,234.5 L470.0,236.5 L470.1,238.5 L470.2,240.5 L470.3,242.5 L470.5,244.5 L470.6,246.5 L470.7,248.5 L470.9,250.5 L471.0,252.5 L471.2,254.5 L471.4,256.5 L471.6,258.5 L471.8,260.5 L472.0,262.5 L472.3,264.5 L472.5,266.5 L472.8,268.5 L473.1,270.5 L473.4,272.5 L473.7,274.5 L474.1,276.5 L474.5,278.5 L474.9,280.5 L475.3,282.5 L475.8,284.5 L476.3,286.5 L476.8,288.5 L477.4,290.5 L478.0,292.5 L478.6,294.5 L479.3,296.5 L480.1,298.5 L480.9,300.5 L481.7,302.5 L482.6,304.5 L483.6,306.5 L484.6,308.5 L485.7,310.5 L486.8,312.5 L488.1,314.5 L489.4,316.5 L490.8,318.5 L492.4,320.5 L494.0,322.5 L495.7,324.5 L497.6,326.5 L499.6,328.5 L501.7,330.5 L503.9,332.5 L506.4,334.5 L508.9,336.5 L511.7,338.5 L514.6,340.5 L517.8,342.5 L521.1,344.5 L524.7,346.5 L528.5,348.5 L532.6,350.5 L537.0,352.5 L541.7,354.5 L546.6,356.5 L552.0,358.5 L557.6,360.5 L563.7,362.5 L570.2,364.5 L577.1,366.5 L584.5,368.5 L592.4,370.5 L600.9,372.5 L609.9,374.5 L619.5,376.5 L629.8,378.5 L634.5,380.5 L634.5,382.5 L634.5,384.5 L634.5,386.5 L634.5,388.5 L634.5,390.5 L634.5,392.5 L634.5,392.5 L634.5,226.5 Z" fill="#b5e7fa"/>
<path d="M469.6,226.5 L469.7,228.5 L469.8,230.5 L469.9,232.5 L470.0,234.5 L470.1,236.5 L470.2,238.5 L470.3,240.5 L470.4,242.5 L470.6,244.5 L470.7,246.5 L470.9,248.5 L471.0,250.5 L471.2,252.5 L471.4,254.5 L471.6,256.5 L471.8,258.5 L472.0,260.5 L472.2,262.5 L472.5,264.5 L472.8,266.5 L473.1,268.5 L473.4,270.5 L473.7,272.5 L474.1,274.5 L474.4,276.5 L474.8,278.5 L475.3,280.5 L475.7,282.5 L476.2,284.5 L476.7,286.5 L477.3,288.5 L477.9,290.5 L478.6,292.5 L479.2,294.5 L480.0,296.5 L480.7,298.5 L481.6,300.5 L482.5,302.5 L483.4,304.5 L484.4,306.5 L485.5,308.5 L486.7,310.5 L487.9,312.5 L489.2,314.5 L490.7,316.5 L492.2,318.5 L493.8,320.5 L495.5,322.5 L497.3,324.5 L499.3,326.5 L501.4,328.5 L503.6,330.5 L506.0,332.5 L508.6,334.5 L511.3,336.5 L514.2,338.5 L517.4,340.5 L520.7,342.5 L524.2,344.5 L528.0,346.5 L532.1,348.5 L536.4,350.5 L541.1,352.5 L546.0,354.5 L551.3,356.5 L556.9,358.5 L562.9,360.5 L569.4,362.5 L576.2,364.5 L583.6,366.5 L591.4,368.5 L599.8,370.5 L608.7,372.5 L618.3,374.5 L628.5,376.5 L634.5,378.5 L634.5,380.5 L634.5,382.5 L634.5,384.5 L634.5,386.5 L634.5,388.5 L634.5,390.5 L634.5,392.5 L634.5,392.5 L634.5,226.5 Z" fill="#b5e7fa"/>
<path d="M469.7,226.5 L469.8,228.5 L469.9,230.5 L470.0,232.5 L470.1,234.5 L470.2,236.5 L470.3,238.5 L470.4,240.5 L470.6,242.5 L470.7,244.5 L470.8,246.5 L471.0,248.5 L471.2,250.5 L471.4,252.5 L471.5,254.5 L471.8,256.5 L472.0,258.5 L472.2,260.5 L472.5,262.5 L472.7,264.5 L473.0,266.5 L473.3,268.5 L473.7,270.5 L474.0,272.5 L474.4,274.5 L474.8,276.5 L475.2,278.5 L475.7,280.5 L476.2,282.5 L476.7,284.5 L477.2,286.5 L477.8,288.5 L478.5,290.5 L479.1,292.5 L479.9,294.5 L480.6,296.5 L481.5,298.5 L482.4,300.5 L483.3,302.5 L484.3,304.5 L485.4,306.5 L486.5,308.5 L487.8,310.5 L489.1,312.5 L490.5,314.5 L492.0,316.5 L493.6,318.5 L495.3,320.5 L497.1,322.5 L499.1,324.5 L501.1,326.5 L503.4,328.5 L505.7,330.5 L508.3,332.5 L511.0,334.5 L513.9,336.5 L517.0,338.5 L520.3,340.5 L523.8,342.5 L527.5,344.5 L531.6,346.5 L535.9,348.5 L540.5,350.5 L545.4,352.5 L550.6,354.5 L556.2,356.5 L562.1,358.5 L568.5,360.5 L575.3,362.5 L582.6,364.5 L590.4,366.5 L598.7,368.5 L607.5,370.5 L617.0,372.5 L627.1,374.5 L634.5,376.5 L634.5,378.5 L634.5,380.5 L634.5,382.5 L634.5,384.5 L634.5,386.5 L634.5,388.5 L634.5,390.5 L634.5,392.5 L634.5,392.5 L634.5,226.5 Z" fill="#b6e8fa"/>
<path d="M469.8,226.5 L469.9,228.5 L470.0,230.5 L470.1,232.5 L470.2,234.5 L470.3,236.5 L470.4,238.5 L470.5,240.5 L470.7,242.5 L470.8,244.5 L471.0,246.5 L471.1,248.5 L471.3,250.5 L471.5,252.5 L471.7,254.5 L471.9,256.5 L472.2,258.5 L472.4,260.5 L472.7,262.5 L473.0,264.5 L473.3,266.5 L473.6,268.5 L474.0,270.5 L474.3,272.5 L474.7,274.5 L475.2,276.5 L475.6,278.5 L476.1,280.5 L476.6,282.5 L477.2,284.5 L477.8,286.5 L478.4,288.5 L479.1,290.5 L479.8,292.5 L480.5,294.5 L481.4,296.5 L482.2,298.5 L483.2,300.5 L484.2,302.5 L485.2,304.5 L486.4,306.5 L487.6,308.5 L488.9,310.5 L490.3,312.5 L491.8,314.5 L493.4,316.5 L495.1,318.5 L496.9,320.5 L498.8,322.5 L500.9,324.5 L503.1,326.5 L505.4,328.5 L507.9,330.5 L510.6,332.5 L513.5,334.5 L516.6,336.5 L519.8,338.5 L523.3,340.5 L527.1,342.5 L531.0,344.5 L535.3,346.5 L539.9,348.5 L544.7,350.5 L549.9,352.5 L555.4,354.5 L561.4,356.5 L567.7,358.5 L574.4,360.5 L581.7,362.5 L589.4,364.5 L597.6,366.5 L606.4,368.5 L615.8,370.5 L625.8,372.5 L634.5,374.5 L634.5,376.5 L634.5,378.5 L634.5,380.5 L634.5,382.5 L634.5,384.5 L634.5,386.5 L634.5,388.5 L634.5,390.5 L634.5,392.5 L634.5,392.5 L634.5,226.5 Z" fill="#b7e8fa"/>
<path d="M469.9,226.5 L470.0,228.5 L470.0,230.5 L470.2,232.5 L470.3,234.5 L470.4,236.5 L470.5,238.5 L470.7,240.5 L470.8,242.5 L471.0,244.5 L471.1,246.5 L471.3,248.5 L471.5,250.5 L471.7,252.5 L471.9,254.5 L472.1,256.5 L472.4,258.5 L472.7,260.5 L472.9,262.5 L473.3,264.5 L473.6,266.5 L473.9,268.5 L474.3,270.5 L474.7,272.5 L475.1,274.5 L475.6,276.5 L476.0,278.5 L476.5,280.5 L477.1,282.5 L477.7,284.5 L478.3,286.5 L479.0,288.5 L479.7,290.5 L480.4,292.5 L481.3,294.5 L482.1,296.5 L483.1,298.5 L484.0,300.5 L485.1,302.5 L486.2,304.5 L487.4,306.5 L488.7,308.5 L490.1,310.5 L491.6,312.5 L493.2,314.5 L494.8,316.5 L496.6,318.5 L498.6,320.5 L500.6,322.5 L502.8,324.5 L505.1,326.5 L507.6,328.5 L510.3,330.5 L513.1,332.5 L516.2,334.5 L519.4,336.5 L522.9,338.5 L526.6,340.5 L530.5,342.5 L534.8,344.5 L539.3,346.5 L544.1,348.5 L549.2,350.5 L554.7,352.5 L560.6,354.5 L566.9,356.5 L573.6,358.5 L580.7,360.5 L588.4,362.5 L596.5,364.5 L605.3,366.5 L614.6,368.5 L624.5,370.5 L634.5,372.5 L634.5,374.5 L634.5,376.5 L634.5,378.5 L634.5,380.5 L634.5,382.5 L634.5,384.5 L634.5,386.5 L634.5,388.5 L634.5,390.5 L634.5,392.5 L634.5,392.5 L634.5,226.5 Z" fill="#b8e9fa"/>
<path d="M469.9,226.5 L470.0,228.5 L470.1,230.5 L470.3,232.5 L470.4,234.5 L470.5,236.5 L470.6,238.5 L470.8,240.5 L470.9,242.5 L471.1,244.5 L471.3,246.5 L471.5,248.5 L471.7,250.5 L471.9,252.5 L472.1,254.5 L472.4,256.5 L472.6,258.5 L472.9,260.5 L473.2,262.5 L473.5,264.5 L473.9,266.5 L474.2,268.5 L474.6,270.5 L475.0,272.5 L475.5,274.5 L476.0,276.5 L476.5,278.5 L477.0,280.5 L477.6,282.5 L478.2,284.5 L478.9,286.5 L479.6,288.5 L480.3,290.5 L481.2,292.5 L482.0,294.5 L482.9,296.5 L483.9,298.5 L485.0,300.5 L486.1,302.5 L487.3,304.5 L488.6,306.5 L489.9,308.5 L491.4,310.5 L493.0,312.5 L494.6,314.5 L496.4,316.5 L498.3,318.5 L500.3,320.5 L502.5,322.5 L504.8,324.5 L507.3,326.5 L509.9,328.5 L512.7,330.5 L515.8,332.5 L519.0,334.5 L522.4,336.5 L526.1,338.5 L530.0,340.5 L534.2,342.5 L538.7,344.5 L543.5,346.5 L548.6,348.5 L554.0,350.5 L559.8,352.5 L566.1,354.5 L572.7,356.5 L579.8,358.5 L587.4,360.5 L595.5,362.5 L604.1,364.5 L613.4,366.5 L623.2,368.5 L633.8,370.5 L634.5,372.5 L634.5,374.5 L634.5,376.5 L634.5,378.5 L634.5,380.5 L634.5,382.5 L634.5,384.5 L634.5,386.5 L634.5,388.5 L634.5,390.5 L634.5,392.5 L634.5,392.5 L634.5,226.5 Z" fill="#b9e9fa"/>
<path d="M470.0,226.5 L470.1,228.5 L470.2,230.5 L470.4,232.5 L470.5,234.5 L470.6,236.5 L470.8,238.5 L470.9,240.5 L471.1,242.5 L471.3,244.5 L471.4,246.5 L471.6,248.5 L471.9,250.5 L472.1,252.5 L472.3,254.5 L472.6,256.5 L472.9,258.5 L473.2,260.5 L473.5,262.5 L473.8,264.5 L474.2,266.5 L474.6,268.5 L475.0,270.5 L475.4,272.5 L475.9,274.5 L476.4,276.5 L477.0,278.5 L477.5,280.5 L478.1,282.5 L478.8,284.5 L479.5,286.5 L480.3,288.5 L481.1,290.5 L481.9,292.5 L482.8,294.5 L483.8,296.5 L484.8,298.5 L485.9,300.5 L487.1,302.5 L488.4,304.5 L489.8,306.5 L491.2,308.5 L492.8,310.5 L494.4,312.5 L496.2,314.5 L498.1,316.5 L500.1,318.5 L502.2,320.5 L504.5,322.5 L507.0,324.5 L509.6,326.5 L512.4,328.5 L515.4,330.5 L518.6,332.5 L522.0,334.5 L525.6,336.5 L529.5,338.5 L533.7,340.5 L538.1,342.5 L542.8,344.5 L547.9,346.5 L553.3,348.5 L559.1,350.5 L565.2,352.5 L571.8,354.5 L578.9,356.5 L586.4,358.5 L594.4,360.5 L603.0,362.5 L612.2,364.5 L621.9,366.5 L632.4,368.5 L634.5,370.5 L634.5,372.5 L634.5,374.5 L634.5,376.5 L634.5,378.5 L634.5,380.5 L634.5,382.5 L634.5,384.5 L634.5,386.5 L634.5,388.5 L634.5,390.5 L634.5,392.5 L634.5,392.5 L634.5,226.5 Z" fill="#b9eafa"/>
<path d="M470.1,226.5 L470.2,228.5 L470.3,230.5 L470.5,232.5 L470.6,234.5 L470.7,236.5 L470.9,238.5 L471.1,240.5 L471.2,242.5 L471.4,244.5 L471.6,246.5 L471.8,248.5 L472.1,250.5 L472.3,252.5 L472.6,254.5 L472.8,256.5 L473.1,258.5 L473.4,260.5 L473.8,262.5 L474.1,264.5 L474.5,266.5 L474.9,268.5 L475.4,270.5 L475.8,272.5 L476.3,274.5 L476.9,276.5 L477.5,278.5 L478.1,280.5 L478.7,282.5 L479.4,284.5 L480.2,286.5 L480.9,288.5 L481.8,290.5 L482.7,292.5 L483.7,294.5 L484.7,296.5 L485.8,298.5 L487.0,300.5 L488.2,302.5 L489.6,304.5 L491.0,306.5 L492.6,308.5 L494.2,310.5 L495.9,312.5 L497.8,314.5 L499.8,316.5 L501.9,318.5 L504.2,320.5 L506.6,322.5 L509.2,324.5 L512.0,326.5 L515.0,328.5 L518.1,330.5 L521.5,332.5 L525.1,334.5 L529.0,336.5 L533.1,338.5 L537.5,340.5 L542.2,342.5 L547.2,344.5 L552.6,346.5 L558.3,348.5 L564.4,350.5 L571.0,352.5 L578.0,354.5 L585.4,356.5 L593.4,358.5 L601.9,360.5 L611.0,362.5 L620.7,364.5 L631.0,366.5 L634.5,368.5 L634.5,370.5 L634.5,372.5 L634.5,374.5 L634.5,376.5 L634.5,378.5 L634.5,380.5 L634.5,382.5 L634.5,384.5 L634.5,386.5 L634.5,388.5 L634.5,390.5 L634.5,392.5 L634.5,392.5 L634.5,226.5 Z" fill="#baeafa"/>
<path d="M470.2,226.5 L470.3,228.5 L470.5,230.5 L470.6,232.5 L470.7,234.5 L470.9,236.5 L471.0,238.5 L471.2,240.5 L471.4,242.5 L471.6,244.5 L471.8,246.5 L472.0,248.5 L472.3,250.5 L472.5,252.5 L472.8,254.5 L473.1,256.5 L473.4,258.5 L473.7,260.5 L474.1,262.5 L474.5,264.5 L474.9,266.5 L475.3,268.5 L475.8,270.5 L476.3,272.5 L476.8,274.5 L477.4,276.5 L478.0,278.5 L478.6,280.5 L479.3,282.5 L480.1,284.5 L480.8,286.5 L481.7,288.5 L482.6,290.5 L483.5,292.5 L484.6,294.5 L485.7,296.5 L486.8,298.5 L488.1,300.5 L489.4,302.5 L490.8,304.5 L492.4,306.5 L494.0,308.5 L495.7,310.5 L497.6,312.5 L499.5,314.5 L501.7,316.5 L503.9,318.5 L506.3,320.5 L508.9,322.5 L511.7,324.5 L514.6,326.5 L517.7,328.5 L521.1,330.5 L524.7,332.5 L528.5,334.5 L532.6,336.5 L536.9,338.5 L541.6,340.5 L546.6,342.5 L551.9,344.5 L557.6,346.5 L563.7,348.5 L570.1,350.5 L577.1,352.5 L584.4,354.5 L592.3,356.5 L600.8,358.5 L609.8,360.5 L619.4,362.5 L629.7,364.5 L634.5,366.5 L634.5,368.5 L634.5,370.5 L634.5,372.5 L634.5,374.5 L634.5,376.5 L634.5,378.5 L634.5,380.5 L634.5,382.5 L634.5,384.5 L634.5,386.5 L634.5,388.5 L634.5,390.5 L634.5,392.5 L634.5,392.5 L634.5,226.5 Z" fill="#bbebfa"/>
<path d="M470.3,226.5 L470.4,228.5 L470.6,230.5 L470.7,232.5 L470.9,234.5 L471.0,236.5 L471.2,238.5 L471.4,240.5 L471.6,242.5 L471.8,244.5 L472.0,246.5 L472.2,248.5 L472.5,250.5 L472.8,252.5 L473.1,254.5 L473.4,256.5 L473.7,258.5 L474.1,260.5 L474.4,262.5 L474.8,264.5 L475.3,266.5 L475.7,268.5 L476.2,270.5 L476.7,272.5 L477.3,274.5 L477.9,276.5 L478.5,278.5 L479.2,280.5 L480.0,282.5 L480.7,284.5 L481.6,286.5 L482.5,288.5 L483.4,290.5 L484.4,292.5 L485.5,294.5 L486.7,296.5 L487.9,298.5 L489.2,300.5 L490.6,302.5 L492.2,304.5 L493.8,306.5 L495.5,308.5 L497.3,310.5 L499.3,312.5 L501.4,314.5 L503.6,316.5 L506.0,318.5 L508.6,320.5 L511.3,322.5 L514.2,324.5 L517.3,326.5 L520.7,328.5 L524.2,330.5 L528.0,332.5 L532.1,334.5 L536.4,336.5 L541.0,338.5 L545.9,340.5 L551.2,342.5 L556.8,344.5 L562.9,346.5 L569.3,348.5 L576.2,350.5 L583.5,352.5 L591.3,354.5 L599.7,356.5 L608.6,358.5 L618.2,360.5 L628.3,362.5 L634.5,364.5 L634.5,366.5 L634.5,368.5 L634.5,370.5 L634.5,372.5 L634.5,374.5 L634.5,376.5 L634.5,378.5 L634.5,380.5 L634.5,382.5 L634.5,384.5 L634.5,386.5 L634.5,388.5 L634.5,390.5 L634.5,392.5 L634.5,392.5 L634.5,226.5 Z" fill="#bcebfa"/>
<path d="M470.4,226.5 L470.5,228.5 L470.7,230.5 L470.8,232.5 L471.0,234.5 L471.2,236.5 L471.3,238.5 L471.5,240.5 L471.8,242.5 L472.0,244.5 L472.2,246.5 L472.5,248.5 L472.7,250.5 L473.0,252.5 L473.3,254.5 L473.7,256.5 L474.0,258.5 L474.4,260.5 L474.8,262.5 L475.2,264.5 L475.7,266.5 L476.2,268.5 L476.7,270.5 L477.2,272.5 L477.8,274.5 L478.5,276.5 L479.1,278.5 L479.9,280.5 L480.6,282.5 L481.5,284.5 L482.3,286.5 L483.3,288.5 L484.3,290.5 L485.4,292.5 L486.5,294.5 L487.8,296.5 L489.1,298.5 L490.5,300.5 L492.0,302.5 L493.6,304.5 L495.3,306.5 L497.1,308.5 L499.0,310.5 L501.1,312.5 L503.3,314.5 L505.7,316.5 L508.2,318.5 L510.9,320.5 L513.8,322.5 L516.9,324.5 L520.2,326.5 L523.7,328.5 L527.5,330.5 L531.5,332.5 L535.8,334.5 L540.4,336.5 L545.3,338.5 L550.5,340.5 L556.1,342.5 L562.1,344.5 L568.5,346.5 L575.3,348.5 L582.5,350.5 L590.3,352.5 L598.6,354.5 L607.5,356.5 L616.9,358.5 L627.0,360.5 L634.5,362.5 L634.5,364.5 L634.5,366.5 L634.5,368.5 L634.5,370.5 L634.5,372.5 L634.5,374.5 L634.5,376.5 L634.5,378.5 L634.5,380.5 L634.5,382.5 L634.5,384.5 L634.5,386.5 L634.5,388.5 L634.5,390.5 L634.5,392.5 L634.5,392.5 L634.5,226.5 Z" fill="#bdecfa"/>
<path d="M470.5,226.5 L470.7,228.5 L470.8,230.5 L471.0,232.5 L471.1,234.5 L471.3,236.5 L471.5,238.5 L471.7,240.5 L471.9,242.5 L472.2,244.5 L472.4,246.5 L472.7,248.5 L473.0,250.5 L473.3,252.5 L473.6,254.5 L474.0,256.5 L474.3,258.5 L474.7,260.5 L475.2,262.5 L475.6,264.5 L476.1,266.5 L476.6,268.5 L477.2,270.5 L477.8,272.5 L478.4,274.5 L479.1,276.5 L479.8,278.5 L480.5,280.5 L481.4,282.5 L482.2,284.5 L483.2,286.5 L484.2,288.5 L485.2,290.5 L486.4,292.5 L487.6,294.5 L488.9,296.5 L490.3,298.5 L491.8,300.5 L493.4,302.5 L495.0,304.5 L496.9,306.5 L498.8,308.5 L500.8,310.5 L503.0,312.5 L505.4,314.5 L507.9,316.5 L510.6,318.5 L513.5,320.5 L516.5,322.5 L519.8,324.5 L523.3,326.5 L527.0,328.5 L531.0,330.5 L535.3,332.5 L539.8,334.5 L544.7,336.5 L549.9,338.5 L555.4,340.5 L561.3,342.5 L567.6,344.5 L574.4,346.5 L581.6,348.5 L589.3,350.5 L597.5,352.5 L606.3,354.5 L615.7,356.5 L625.7,358.5 L634.5,360.5 L634.5,362.5 L634.5,364.5 L634.5,366.5 L634.5,368.5 L634.5,370.5 L634.5,372.5 L634.5,374.5 L634.5,376.5 L634.5,378.5 L634.5,380.5 L634.5,382.5 L634.5,384.5 L634.5,386.5 L634.5,388.5 L634.5,390.5 L634.5,392.5 L634.5,392.5 L634.5,226.5 Z" fill="#beecfa"/>
<path d="M470.7,226.5 L470.8,228.5 L471.0,230.5 L471.1,232.5 L471.3,234.5 L471.5,236.5 L471.7,238.5 L471.9,240.5 L472.1,242.5 L472.4,244.5 L472.7,246.5 L472.9,248.5 L473.2,250.5 L473.6,252.5 L473.9,254.5 L474.3,256.5 L474.7,258.5 L475.1,260.5 L475.5,262.5 L476.0,264.5 L476.5,266.5 L477.1,268.5 L477.7,270.5 L478.3,272.5 L479.0,274.5 L479.7,276.5 L480.4,278.5 L481.3,280.5 L482.1,282.5 L483.0,284.5 L484.0,286.5 L485.1,288.5 L486.2,290.5 L487.4,292.5 L488.7,294.5 L490.1,296.5 L491.6,298.5 L493.1,300.5 L494.8,302.5 L496.6,304.5 L498.5,306.5 L500.6,308.5 L502.8,310.5 L505.1,312.5 L507.6,314.5 L510.2,316.5 L513.1,318.5 L516.1,320.5 L519.4,322.5 L522.8,324.5 L526.5,326.5 L530.5,328.5 L534.7,330.5 L539.2,332.5 L544.0,334.5 L549.2,336.5 L554.7,338.5 L560.5,340.5 L566.8,342.5 L573.5,344.5 L580.7,346.5 L588.3,348.5 L596.4,350.5 L605.2,352.5 L614.5,354.5 L624.4,356.5 L634.5,358.5 L634.5,360.5 L634.5,362.5 L634.5,364.5 L634.5,366.5 L634.5,368.5 L634.5,370.5 L634.5,372.5 L634.5,374.5 L634.5,376.5 L634.5,378.5 L634.5,380.5 L634.5,382.5 L634.5,384.5 L634.5,386.5 L634.5,388.5 L634.5,390.5 L634.5,392.5 L634.5,392.5 L634.5,226.5 Z" fill="#beedfa"/>
<path d="M470.8,226.5 L470.9,228.5 L471.1,230.5 L471.3,232.5 L471.5,234.5 L471.7,236.5 L471.9,238.5 L472.1,240.5 L472.4,242.5 L472.6,244.5 L472.9,246.5 L473.2,248.5 L473.5,250.5 L473.9,252.5 L474.2,254.5 L474.6,256.5 L475.0,258.5 L475.5,260.5 L476.0,262.5 L476.5,264.5 L477.0,266.5 L477.6,268.5 L478.2,270.5 L478.9,272.5 L479.6,274.5 L480.3,276.5 L481.1,278.5 L482.0,280.5 L482.9,282.5 L483.9,284.5 L485.0,286.5 L486.1,288.5 L487.3,290.5 L488.6,292.5 L489.9,294.5 L491.4,296.5 L492.9,298.5 L494.6,300.5 L496.4,302.5 L498.3,304.5 L500.3,306.5 L502.5,308.5 L504.8,310.5 L507.3,312.5 L509.9,314.5 L512.7,316.5 L515.7,318.5 L518.9,320.5 L522.4,322.5 L526.1,324.5 L530.0,326.5 L534.2,328.5 L538.6,330.5 L543.4,332.5 L548.5,334.5 L554.0,336.5 L559.8,338.5 L566.0,340.5 L572.6,342.5 L579.7,344.5 L587.3,346.5 L595.4,348.5 L604.0,350.5 L613.3,352.5 L623.1,354.5 L633.6,356.5 L634.5,358.5 L634.5,360.5 L634.5,362.5 L634.5,364.5 L634.5,366.5 L634.5,368.5 L634.5,370.5 L634.5,372.5 L634.5,374.5 L634.5,376.5 L634.5,378.5 L634.5,380.5 L634.5,382.5 L634.5,384.5 L634.5,386.5 L634.5,388.5 L634.5,390.5 L634.5,392.5 L634.5,392.5 L634.5,226.5 Z" fill="#bfedfa"/>
<path d="M470.9,226.5 L471.1,228.5 L471.3,230.5 L471.4,232.5 L471.6,234.5 L471.9,236.5 L472.1,238.5 L472.3,240.5 L472.6,242.5 L472.9,244.5 L473.2,246.5 L473.5,248.5 L473.8,250.5 L474.2,252.5 L474.6,254.5 L475.0,256.5 L475.4,258.5 L475.9,260.5 L476.4,262.5 L476.9,264.5 L477.5,266.5 L478.1,268.5 L478.8,270.5 L479.5,272.5 L480.2,274.5 L481.0,276.5 L481.9,278.5 L482.8,280.5 L483.8,282.5 L484.8,284.5 L485.9,286.5 L487.1,288.5 L488.4,290.5 L489.7,292.5 L491.2,294.5 L492.7,296.5 L494.4,298.5 L496.2,300.5 L498.0,302.5 L500.0,304.5 L502.2,306.5 L504.5,308.5 L506.9,310.5 L509.6,312.5 L512.4,314.5 L515.3,316.5 L518.5,318.5 L521.9,320.5 L525.6,322.5 L529.5,324.5 L533.6,326.5 L538.1,328.5 L542.8,330.5 L547.8,332.5 L553.2,334.5 L559.0,336.5 L565.2,338.5 L571.8,340.5 L578.8,342.5 L586.3,344.5 L594.3,346.5 L602.9,348.5 L612.1,350.5 L621.8,352.5 L632.3,354.5 L634.5,356.5 L634.5,358.5 L634.5,360.5 L634.5,362.5 L634.5,364.5 L634.5,366.5 L634.5,368.5 L634.5,370.5 L634.5,372.5 L634.5,374.5 L634.5,376.5 L634.5,378.5 L634.5,380.5 L634.5,382.5 L634.5,384.5 L634.5,386.5 L634.5,388.5 L634.5,390.5 L634.5,392.5 L634.5,392.5 L634.5,226.5 Z" fill="#c0eefa"/>
<path d="M471.1,226.5 L471.2,228.5 L471.4,230.5 L471.6,232.5 L471.8,234.5 L472.1,236.5 L472.3,238.5 L472.6,240.5 L472.8,242.5 L473.1,244.5 L473.4,246.5 L473.8,248.5 L474.1,250.5 L474.5,252.5 L474.9,254.5 L475.4,256.5 L475.8,258.5 L476.3,260.5 L476.9,262.5 L477.4,264.5 L478.1,266.5 L478.7,268.5 L479.4,270.5 L480.1,272.5 L480.9,274.5 L481.8,276.5 L482.7,278.5 L483.7,280.5 L484.7,282.5 L485.8,284.5 L487.0,286.5 L488.2,288.5 L489.6,290.5 L491.0,292.5 L492.5,294.5 L494.2,296.5 L495.9,298.5 L497.8,300.5 L499.8,302.5 L501.9,304.5 L504.2,306.5 L506.6,308.5 L509.2,310.5 L512.0,312.5 L515.0,314.5 L518.1,316.5 L521.5,318.5 L525.1,320.5 L529.0,322.5 L533.1,324.5 L537.5,326.5 L542.2,328.5 L547.2,330.5 L552.5,332.5 L558.3,334.5 L564.4,336.5 L570.9,338.5 L577.9,340.5 L585.3,342.5 L593.3,344.5 L601.8,346.5 L610.9,348.5 L620.6,350.5 L630.9,352.5 L634.5,354.5 L634.5,356.5 L634.5,358.5 L634.5,360.5 L634.5,362.5 L634.5,364.5 L634.5,366.5 L634.5,368.5 L634.5,370.5 L634.5,372.5 L634.5,374.5 L634.5,376.5 L634.5,378.5 L634.5,380.5 L634.5,382.5 L634.5,384.5 L634.5,386.5 L634.5,388.5 L634.5,390.5 L634.5,392.5 L634.5,392.5 L634.5,226.5 Z" fill="#c1eefa"/>
<path d="M471.2,226.5 L471.4,228.5 L471.6,230.5 L471.8,232.5 L472.0,234.5 L472.3,236.5 L472.5,238.5 L472.8,240.5 L473.1,242.5 L473.4,244.5 L473.7,246.5 L474.1,248.5 L474.5,250.5 L474.9,252.5 L475.3,254.5 L475.8,256.5 L476.3,258.5 L476.8,260.5 L477.4,262.5 L478.0,264.5 L478.6,266.5 L479.3,268.5 L480.0,270.5 L480.8,272.5 L481.7,274.5 L482.6,276.5 L483.5,278.5 L484.6,280.5 L485.6,282.5 L486.8,284.5 L488.1,286.5 L489.4,288.5 L490.8,290.5 L492.3,292.5 L494.0,294.5 L495.7,296.5 L497.5,298.5 L499.5,300.5 L501.6,302.5 L503.9,304.5 L506.3,306.5 L508.9,308.5 L511.6,310.5 L514.6,312.5 L517.7,314.5 L521.1,316.5 L524.6,318.5 L528.5,320.5 L532.5,322.5 L536.9,324.5 L541.6,326.5 L546.5,328.5 L551.9,330.5 L557.5,332.5 L563.6,334.5 L570.1,336.5 L577.0,338.5 L584.4,340.5 L592.3,342.5 L600.7,344.5 L609.7,346.5 L619.3,348.5 L629.6,350.5 L634.5,352.5 L634.5,354.5 L634.5,356.5 L634.5,358.5 L634.5,360.5 L634.5,362.5 L634.5,364.5 L634.5,366.5 L634.5,368.5 L634.5,370.5 L634.5,372.5 L634.5,374.5 L634.5,376.5 L634.5,378.5 L634.5,380.5 L634.5,382.5 L634.5,384.5 L634.5,386.5 L634.5,388.5 L634.5,390.5 L634.5,392.5 L634.5,392.5 L634.5,226.5 Z" fill="#c2effa"/>
<path d="M471.4,226.5 L471.6,228.5 L471.8,230.5 L472.0,232.5 L472.2,234.5 L472.5,236.5 L472.8,238.5 L473.1,240.5 L473.4,242.5 L473.7,244.5 L474.0,246.5 L474.4,248.5 L474.8,250.5 L475.3,252.5 L475.7,254.5 L476.2,256.5 L476.7,258.5 L477.3,260.5 L477.9,262.5 L478.5,264.5 L479.2,266.5 L480.0,268.5 L480.7,270.5 L481.6,272.5 L482.5,274.5 L483.4,276.5 L484.4,278.5 L485.5,280.5 L486.7,282.5 L487.9,284.5 L489.2,286.5 L490.6,288.5 L492.1,290.5 L493.8,292.5 L495.5,294.5 L497.3,296.5 L499.3,298.5 L501.4,300.5 L503.6,302.5 L506.0,304.5 L508.5,306.5 L511.3,308.5 L514.2,310.5 L517.3,312.5 L520.6,314.5 L524.2,316.5 L528.0,318.5 L532.0,320.5 L536.3,322.5 L541.0,324.5 L545.9,326.5 L551.2,328.5 L556.8,330.5 L562.8,332.5 L569.2,334.5 L576.1,336.5 L583.4,338.5 L591.2,340.5 L599.6,342.5 L608.5,344.5 L618.1,346.5 L628.2,348.5 L634.5,350.5 L634.5,352.5 L634.5,354.5 L634.5,356.5 L634.5,358.5 L634.5,360.5 L634.5,362.5 L634.5,364.5 L634.5,366.5 L634.5,368.5 L634.5,370.5 L634.5,372.5 L634.5,374.5 L634.5,376.5 L634.5,378.5 L634.5,380.5 L634.5,382.5 L634.5,384.5 L634.5,386.5 L634.5,388.5 L634.5,390.5 L634.5,392.5 L634.5,392.5 L634.5,226.5 Z" fill="#c2effa"/>
<path d="M471.5,226.5 L471.7,228.5 L472.0,230.5 L472.2,232.5 L472.5,234.5 L472.7,236.5 L473.0,238.5 L473.3,240.5 L473.7,242.5 L474.0,244.5 L474.4,246.5 L474.8,248.5 L475.2,250.5 L475.7,252.5 L476.1,254.5 L476.7,256.5 L477.2,258.5 L477.8,260.5 L478.5,262.5 L479.1,264.5 L479.9,266.5 L480.6,268.5 L481.5,270.5 L482.3,272.5 L483.3,274.5 L484.3,276.5 L485.4,278.5 L486.5,280.5 L487.7,282.5 L489.1,284.5 L490.5,286.5 L491.9,288.5 L493.5,290.5 L495.2,292.5 L497.1,294.5 L499.0,296.5 L501.1,298.5 L503.3,300.5 L505.7,302.5 L508.2,304.5 L510.9,306.5 L513.8,308.5 L516.9,310.5 L520.2,312.5 L523.7,314.5 L527.5,316.5 L531.5,318.5 L535.8,320.5 L540.4,322.5 L545.2,324.5 L550.5,326.5 L556.1,328.5 L562.0,330.5 L568.4,332.5 L575.2,334.5 L582.5,336.5 L590.2,338.5 L598.5,340.5 L607.4,342.5 L616.8,344.5 L626.9,346.5 L634.5,348.5 L634.5,350.5 L634.5,352.5 L634.5,354.5 L634.5,356.5 L634.5,358.5 L634.5,360.5 L634.5,362.5 L634.5,364.5 L634.5,366.5 L634.5,368.5 L634.5,370.5 L634.5,372.5 L634.5,374.5 L634.5,376.5 L634.5,378.5 L634.5,380.5 L634.5,382.5 L634.5,384.5 L634.5,386.5 L634.5,388.5 L634.5,390.5 L634.5,392.5 L634.5,392.5 L634.5,226.5 Z" fill="#c3f0f9"/>
<path d="M471.7,226.5 L471.9,228.5 L472.2,230.5 L472.4,232.5 L472.7,234.5 L473.0,236.5 L473.3,238.5 L473.6,240.5 L474.0,242.5 L474.3,244.5 L474.7,246.5 L475.1,248.5 L475.6,250.5 L476.1,252.5 L476.6,254.5 L477.2,256.5 L477.7,258.5 L478.4,260.5 L479.0,262.5 L479.8,264.5 L480.5,266.5 L481.4,268.5 L482.2,270.5 L483.2,272.5 L484.2,274.5 L485.2,276.5 L486.4,278.5 L487.6,280.5 L488.9,282.5 L490.3,284.5 L491.8,286.5 L493.3,288.5 L495.0,290.5 L496.8,292.5 L498.8,294.5 L500.8,296.5 L503.0,298.5 L505.4,300.5 L507.9,302.5 L510.6,304.5 L513.4,306.5 L516.5,308.5 L519.8,310.5 L523.3,312.5 L527.0,314.5 L531.0,316.5 L535.2,318.5 L539.8,320.5 L544.6,322.5 L549.8,324.5 L555.3,326.5 L561.2,328.5 L567.6,330.5 L574.3,332.5 L581.5,334.5 L589.2,336.5 L597.4,338.5 L606.2,340.5 L615.6,342.5 L625.6,344.5 L634.5,346.5 L634.5,348.5 L634.5,350.5 L634.5,352.5 L634.5,354.5 L634.5,356.5 L634.5,358.5 L634.5,360.5 L634.5,362.5 L634.5,364.5 L634.5,366.5 L634.5,368.5 L634.5,370.5 L634.5,372.5 L634.5,374.5 L634.5,376.5 L634.5,378.5 L634.5,380.5 L634.5,382.5 L634.5,384.5 L634.5,386.5 L634.5,388.5 L634.5,390.5 L634.5,392.5 L634.5,392.5 L634.5,226.5 Z" fill="#c4f0f9"/>
<path d="M471.9,226.5 L472.1,228.5 L472.4,230.5 L472.7,232.5 L472.9,234.5 L473.2,236.5 L473.6,238.5 L473.9,240.5 L474.3,242.5 L474.7,244.5 L475.1,246.5 L475.5,248.5 L476.0,250.5 L476.5,252.5 L477.1,254.5 L477.7,256.5 L478.3,258.5 L479.0,260.5 L479.7,262.5 L480.4,264.5 L481.2,266.5 L482.1,268.5 L483.0,270.5 L484.0,272.5 L485.1,274.5 L486.2,276.5 L487.4,278.5 L488.7,280.5 L490.1,282.5 L491.6,284.5 L493.1,286.5 L494.8,288.5 L496.6,290.5 L498.5,292.5 L500.6,294.5 L502.7,296.5 L505.1,298.5 L507.6,300.5 L510.2,302.5 L513.1,304.5 L516.1,306.5 L519.3,308.5 L522.8,310.5 L526.5,312.5 L530.4,314.5 L534.7,316.5 L539.2,318.5 L544.0,320.5 L549.1,322.5 L554.6,324.5 L560.5,326.5 L566.7,328.5 L573.4,330.5 L580.6,332.5 L588.2,334.5 L596.4,336.5 L605.1,338.5 L614.4,340.5 L624.3,342.5 L634.5,344.5 L634.5,346.5 L634.5,348.5 L634.5,350.5 L634.5,352.5 L634.5,354.5 L634.5,356.5 L634.5,358.5 L634.5,360.5 L634.5,362.5 L634.5,364.5 L634.5,366.5 L634.5,368.5 L634.5,370.5 L634.5,372.5 L634.5,374.5 L634.5,376.5 L634.5,378.5 L634.5,380.5 L634.5,382.5 L634.5,384.5 L634.5,386.5 L634.5,388.5 L634.5,390.5 L634.5,392.5 L634.5,392.5 L634.5,226.5 Z" fill="#c5f0f9"/>
<path d="M472.1,226.5 L472.4,228.5 L472.6,230.5 L472.9,232.5 L473.2,234.5 L473.5,236.5 L473.9,238.5 L474.2,240.5 L474.6,242.5 L475.0,244.5 L475.5,246.5 L476.0,248.5 L476.5,250.5 L477.0,252.5 L477.6,254.5 L478.2,256.5 L478.9,258.5 L479.6,260.5 L480.3,262.5 L481.1,264.5 L482.0,266.5 L482.9,268.5 L483.9,270.5 L484.9,272.5 L486.1,274.5 L487.3,276.5 L488.5,278.5 L489.9,280.5 L491.4,282.5 L492.9,284.5 L494.6,286.5 L496.4,288.5 L498.3,290.5 L500.3,292.5 L502.5,294.5 L504.8,296.5 L507.2,298.5 L509.9,300.5 L512.7,302.5 L515.7,304.5 L518.9,306.5 L522.3,308.5 L526.0,310.5 L529.9,312.5 L534.1,314.5 L538.6,316.5 L543.4,318.5 L548.5,320.5 L553.9,322.5 L559.7,324.5 L565.9,326.5 L572.6,328.5 L579.7,330.5 L587.2,332.5 L595.3,334.5 L603.9,336.5 L613.2,338.5 L623.0,340.5 L633.5,342.5 L634.5,344.5 L634.5,346.5 L634.5,348.5 L634.5,350.5 L634.5,352.5 L634.5,354.5 L634.5,356.5 L634.5,358.5 L634.5,360.5 L634.5,362.5 L634.5,364.5 L634.5,366.5 L634.5,368.5 L634.5,370.5 L634.5,372.5 L634.5,374.5 L634.5,376.5 L634.5,378.5 L634.5,380.5 L634.5,382.5 L634.5,384.5 L634.5,386.5 L634.5,388.5 L634.5,390.5 L634.5,392.5 L634.5,392.5 L634.5,226.5 Z" fill="#c6f1f8"/>
<path d="M472.3,226.5 L472.6,228.5 L472.9,230.5 L473.2,232.5 L473.5,234.5 L473.8,236.5 L474.2,238.5 L474.6,240.5 L475.0,242.5 L475.4,244.5 L475.9,246.5 L476.4,248.5 L476.9,250.5 L477.5,252.5 L478.1,254.5 L478.8,256.5 L479.5,258.5 L480.2,260.5 L481.0,262.5 L481.9,264.5 L482.8,266.5 L483.8,268.5 L484.8,270.5 L485.9,272.5 L487.1,274.5 L488.4,276.5 L489.7,278.5 L491.2,280.5 L492.7,282.5 L494.4,284.5 L496.1,286.5 L498.0,288.5 L500.0,290.5 L502.2,292.5 L504.5,294.5 L506.9,296.5 L509.5,298.5 L512.3,300.5 L515.3,302.5 L518.5,304.5 L521.9,306.5 L525.5,308.5 L529.4,310.5 L533.6,312.5 L538.0,314.5 L542.7,316.5 L547.8,318.5 L553.2,320.5 L559.0,322.5 L565.1,324.5 L571.7,326.5 L578.7,328.5 L586.2,330.5 L594.3,332.5 L602.8,334.5 L612.0,336.5 L621.7,338.5 L632.2,340.5 L634.5,342.5 L634.5,344.5 L634.5,346.5 L634.5,348.5 L634.5,350.5 L634.5,352.5 L634.5,354.5 L634.5,356.5 L634.5,358.5 L634.5,360.5 L634.5,362.5 L634.5,364.5 L634.5,366.5 L634.5,368.5 L634.5,370.5 L634.5,372.5 L634.5,374.5 L634.5,376.5 L634.5,378.5 L634.5,380.5 L634.5,382.5 L634.5,384.5 L634.5,386.5 L634.5,388.5 L634.5,390.5 L634.5,392.5 L634.5,392.5 L634.5,226.5 Z" fill="#c7f1f8"/>
<path d="M472.6,226.5 L472.8,228.5 L473.1,230.5 L473.4,232.5 L473.8,234.5 L474.1,236.5 L474.5,238.5 L474.9,240.5 L475.4,242.5 L475.8,244.5 L476.3,246.5 L476.9,248.5 L477.4,250.5 L478.1,252.5 L478.7,254.5 L479.4,256.5 L480.1,258.5 L480.9,260.5 L481.8,262.5 L482.7,264.5 L483.6,266.5 L484.7,268.5 L485.8,270.5 L487.0,272.5 L488.2,274.5 L489.6,276.5 L491.0,278.5 L492.5,280.5 L494.2,282.5 L495.9,284.5 L497.8,286.5 L499.8,288.5 L501.9,290.5 L504.2,292.5 L506.6,294.5 L509.2,296.5 L512.0,298.5 L514.9,300.5 L518.1,302.5 L521.5,304.5 L525.1,306.5 L528.9,308.5 L533.0,310.5 L537.4,312.5 L542.1,314.5 L547.1,316.5 L552.5,318.5 L558.2,320.5 L564.3,322.5 L570.8,324.5 L577.8,326.5 L585.3,328.5 L593.2,330.5 L601.7,332.5 L610.8,334.5 L620.5,336.5 L630.8,338.5 L634.5,340.5 L634.5,342.5 L634.5,344.5 L634.5,346.5 L634.5,348.5 L634.5,350.5 L634.5,352.5 L634.5,354.5 L634.5,356.5 L634.5,358.5 L634.5,360.5 L634.5,362.5 L634.5,364.5 L634.5,366.5 L634.5,368.5 L634.5,370.5 L634.5,372.5 L634.5,374.5 L634.5,376.5 L634.5,378.5 L634.5,380.5 L634.5,382.5 L634.5,384.5 L634.5,386.5 L634.5,388.5 L634.5,390.5 L634.5,392.5 L634.5,392.5 L634.5,226.5 Z" fill="#c8f2f7"/>
<path d="M472.8,226.5 L473.1,228.5 L473.4,230.5 L473.7,232.5 L474.1,234.5 L474.5,236.5 L474.9,238.5 L475.3,240.5 L475.8,242.5 L476.3,244.5 L476.8,246.5 L477.4,248.5 L478.0,250.5 L478.6,252.5 L479.3,254.5 L480.0,256.5 L480.8,258.5 L481.7,260.5 L482.6,262.5 L483.5,264.5 L484.5,266.5 L485.6,268.5 L486.8,270.5 L488.1,272.5 L489.4,274.5 L490.8,276.5 L492.3,278.5 L493.9,280.5 L495.7,282.5 L497.5,284.5 L499.5,286.5 L501.6,288.5 L503.9,290.5 L506.3,292.5 L508.9,294.5 L511.6,296.5 L514.5,298.5 L517.7,300.5 L521.0,302.5 L524.6,304.5 L528.4,306.5 L532.5,308.5 L536.9,310.5 L541.5,312.5 L546.5,314.5 L551.8,316.5 L557.5,318.5 L563.5,320.5 L570.0,322.5 L576.9,324.5 L584.3,326.5 L592.2,328.5 L600.6,330.5 L609.6,332.5 L619.2,334.5 L629.5,336.5 L634.5,338.5 L634.5,340.5 L634.5,342.5 L634.5,344.5 L634.5,346.5 L634.5,348.5 L634.5,350.5 L634.5,352.5 L634.5,354.5 L634.5,356.5 L634.5,358.5 L634.5,360.5 L634.5,362.5 L634.5,364.5 L634.5,366.5 L634.5,368.5 L634.5,370.5 L634.5,372.5 L634.5,374.5 L634.5,376.5 L634.5,378.5 L634.5,380.5 L634.5,382.5 L634.5,384.5 L634.5,386.5 L634.5,388.5 L634.5,390.5 L634.5,392.5 L634.5,392.5 L634.5,226.5 Z" fill="#c9f2f7"/>
<path d="M473.1,226.5 L473.4,228.5 L473.7,230.5 L474.0,232.5 L474.4,234.5 L474.8,236.5 L475.3,238.5 L475.7,240.5 L476.2,242.5 L476.7,244.5 L477.3,246.5 L477.9,248.5 L478.5,250.5 L479.2,252.5 L479.9,254.5 L480.7,256.5 L481.6,258.5 L482.4,260.5 L483.4,262.5 L484.4,264.5 L485.5,266.5 L486.7,268.5 L487.9,270.5 L489.2,272.5 L490.6,274.5 L492.1,276.5 L493.7,278.5 L495.5,280.5 L497.3,282.5 L499.2,284.5 L501.3,286.5 L503.6,288.5 L506.0,290.5 L508.5,292.5 L511.2,294.5 L514.2,296.5 L517.3,298.5 L520.6,300.5 L524.1,302.5 L527.9,304.5 L532.0,306.5 L536.3,308.5 L540.9,310.5 L545.8,312.5 L551.1,314.5 L556.7,316.5 L562.7,318.5 L569.2,320.5 L576.0,322.5 L583.3,324.5 L591.2,326.5 L599.5,328.5 L608.4,330.5 L618.0,332.5 L628.1,334.5 L634.5,336.5 L634.5,338.5 L634.5,340.5 L634.5,342.5 L634.5,344.5 L634.5,346.5 L634.5,348.5 L634.5,350.5 L634.5,352.5 L634.5,354.5 L634.5,356.5 L634.5,358.5 L634.5,360.5 L634.5,362.5 L634.5,364.5 L634.5,366.5 L634.5,368.5 L634.5,370.5 L634.5,372.5 L634.5,374.5 L634.5,376.5 L634.5,378.5 L634.5,380.5 L634.5,382.5 L634.5,384.5 L634.5,386.5 L634.5,388.5 L634.5,390.5 L634.5,392.5 L634.5,392.5 L634.5,226.5 Z" fill="#caf3f6"/>
<path d="M473.3,226.5 L473.6,228.5 L474.0,230.5 L474.4,232.5 L474.8,234.5 L475.2,236.5 L475.7,238.5 L476.1,240.5 L476.7,242.5 L477.2,244.5 L477.8,246.5 L478.4,248.5 L479.1,250.5 L479.9,252.5 L480.6,254.5 L481.4,256.5 L482.3,258.5 L483.3,260.5 L484.3,262.5 L485.4,264.5 L486.5,266.5 L487.7,268.5 L489.0,270.5 L490.4,272.5 L491.9,274.5 L493.5,276.5 L495.2,278.5 L497.0,280.5 L499.0,282.5 L501.1,284.5 L503.3,286.5 L505.7,288.5 L508.2,290.5 L510.9,292.5 L513.8,294.5 L516.9,296.5 L520.2,298.5 L523.7,300.5 L527.4,302.5 L531.4,304.5 L535.7,306.5 L540.3,308.5 L545.2,310.5 L550.4,312.5 L556.0,314.5 L562.0,316.5 L568.3,318.5 L575.1,320.5 L582.4,322.5 L590.1,324.5 L598.4,326.5 L607.3,328.5 L616.7,330.5 L626.8,332.5 L634.5,334.5 L634.5,336.5 L634.5,338.5 L634.5,340.5 L634.5,342.5 L634.5,344.5 L634.5,346.5 L634.5,348.5 L634.5,350.5 L634.5,352.5 L634.5,354.5 L634.5,356.5 L634.5,358.5 L634.5,360.5 L634.5,362.5 L634.5,364.5 L634.5,366.5 L634.5,368.5 L634.5,370.5 L634.5,372.5 L634.5,374.5 L634.5,376.5 L634.5,378.5 L634.5,380.5 L634.5,382.5 L634.5,384.5 L634.5,386.5 L634.5,388.5 L634.5,390.5 L634.5,392.5 L634.5,392.5 L634.5,226.5 Z" fill="#cbf3f6"/>
<path d="M473.6,226.5 L474.0,228.5 L474.3,230.5 L474.7,232.5 L475.1,234.5 L475.6,236.5 L476.1,238.5 L476.6,240.5 L477.1,242.5 L477.7,244.5 L478.4,246.5 L479.0,248.5 L479.8,250.5 L480.5,252.5 L481.3,254.5 L482.2,256.5 L483.2,258.5 L484.1,260.5 L485.2,262.5 L486.4,264.5 L487.6,266.5 L488.9,268.5 L490.3,270.5 L491.7,272.5 L493.3,274.5 L495.0,276.5 L496.8,278.5 L498.7,280.5 L500.8,282.5 L503.0,284.5 L505.4,286.5 L507.9,288.5 L510.5,290.5 L513.4,292.5 L516.5,294.5 L519.7,296.5 L523.2,298.5 L526.9,300.5 L530.9,302.5 L535.2,304.5 L539.7,306.5 L544.6,308.5 L549.7,310.5 L555.3,312.5 L561.2,314.5 L567.5,316.5 L574.2,318.5 L581.4,320.5 L589.1,322.5 L597.3,324.5 L606.1,326.5 L615.5,328.5 L625.5,330.5 L634.5,332.5 L634.5,334.5 L634.5,336.5 L634.5,338.5 L634.5,340.5 L634.5,342.5 L634.5,344.5 L634.5,346.5 L634.5,348.5 L634.5,350.5 L634.5,352.5 L634.5,354.5 L634.5,356.5 L634.5,358.5 L634.5,360.5 L634.5,362.5 L634.5,364.5 L634.5,366.5 L634.5,368.5 L634.5,370.5 L634.5,372.5 L634.5,374.5 L634.5,376.5 L634.5,378.5 L634.5,380.5 L634.5,382.5 L634.5,384.5 L634.5,386.5 L634.5,388.5 L634.5,390.5 L634.5,392.5 L634.5,392.5 L634.5,226.5 Z" fill="#ccf3f6"/>
<path d="M473.9,226.5 L474.3,228.5 L474.7,230.5 L475.1,232.5 L475.5,234.5 L476.0,236.5 L476.5,238.5 L477.1,240.5 L477.7,242.5 L478.3,244.5 L479.0,246.5 L479.7,248.5 L480.4,250.5 L481.2,252.5 L482.1,254.5 L483.0,256.5 L484.0,258.5 L485.1,260.5 L486.2,262.5 L487.4,264.5 L488.7,266.5 L490.1,268.5 L491.5,270.5 L493.1,272.5 L494.8,274.5 L496.6,276.5 L498.5,278.5 L500.5,280.5 L502.7,282.5 L505.0,284.5 L507.5,286.5 L510.2,288.5 L513.0,290.5 L516.1,292.5 L519.3,294.5 L522.8,296.5 L526.5,298.5 L530.4,300.5 L534.6,302.5 L539.1,304.5 L543.9,306.5 L549.1,308.5 L554.6,310.5 L560.4,312.5 L566.7,314.5 L573.4,316.5 L580.5,318.5 L588.1,320.5 L596.3,322.5 L605.0,324.5 L614.3,326.5 L624.2,328.5 L634.5,330.5 L634.5,332.5 L634.5,334.5 L634.5,336.5 L634.5,338.5 L634.5,340.5 L634.5,342.5 L634.5,344.5 L634.5,346.5 L634.5,348.5 L634.5,350.5 L634.5,352.5 L634.5,354.5 L634.5,356.5 L634.5,358.5 L634.5,360.5 L634.5,362.5 L634.5,364.5 L634.5,366.5 L634.5,368.5 L634.5,370.5 L634.5,372.5 L634.5,374.5 L634.5,376.5 L634.5,378.5 L634.5,380.5 L634.5,382.5 L634.5,384.5 L634.5,386.5 L634.5,388.5 L634.5,390.5 L634.5,392.5 L634.5,392.5 L634.5,226.5 Z" fill="#cdf4f5"/>
<path d="M474.2,226.5 L474.6,228.5 L475.0,230.5 L475.5,232.5 L476.0,234.5 L476.5,236.5 L477.0,238.5 L477.6,240.5 L478.2,242.5 L478.9,244.5 L479.6,246.5 L480.3,248.5 L481.1,250.5 L482.0,252.5 L482.9,254.5 L483.9,256.5 L484.9,258.5 L486.1,260.5 L487.3,262.5 L488.5,264.5 L489.9,266.5 L491.4,268.5 L492.9,270.5 L494.6,272.5 L496.3,274.5 L498.2,276.5 L500.3,278.5 L502.4,280.5 L504.7,282.5 L507.2,284.5 L509.8,286.5 L512.7,288.5 L515.7,290.5 L518.9,292.5 L522.3,294.5 L526.0,296.5 L529.9,298.5 L534.1,300.5 L538.5,302.5 L543.3,304.5 L548.4,306.5 L553.8,308.5 L559.7,310.5 L565.9,312.5 L572.5,314.5 L579.6,316.5 L587.1,318.5 L595.2,320.5 L603.9,322.5 L613.1,324.5 L622.9,326.5 L633.4,328.5 L634.5,330.5 L634.5,332.5 L634.5,334.5 L634.5,336.5 L634.5,338.5 L634.5,340.5 L634.5,342.5 L634.5,344.5 L634.5,346.5 L634.5,348.5 L634.5,350.5 L634.5,352.5 L634.5,354.5 L634.5,356.5 L634.5,358.5 L634.5,360.5 L634.5,362.5 L634.5,364.5 L634.5,366.5 L634.5,368.5 L634.5,370.5 L634.5,372.5 L634.5,374.5 L634.5,376.5 L634.5,378.5 L634.5,380.5 L634.5,382.5 L634.5,384.5 L634.5,386.5 L634.5,388.5 L634.5,390.5 L634.5,392.5 L634.5,392.5 L634.5,226.5 Z" fill="#cff4f4"/>
<path d="M474.6,226.5 L475.0,228.5 L475.4,230.5 L475.9,232.5 L476.4,234.5 L476.9,236.5 L477.5,238.5 L478.1,240.5 L478.8,242.5 L479.5,244.5 L480.2,246.5 L481.0,248.5 L481.9,250.5 L482.8,252.5 L483.8,254.5 L484.8,256.5 L485.9,258.5 L487.1,260.5 L488.4,262.5 L489.7,264.5 L491.2,266.5 L492.7,268.5 L494.4,270.5 L496.1,272.5 L498.0,274.5 L500.0,276.5 L502.2,278.5 L504.4,280.5 L506.9,282.5 L509.5,284.5 L512.3,286.5 L515.3,288.5 L518.5,290.5 L521.9,292.5 L525.5,294.5 L529.4,296.5 L533.5,298.5 L538.0,300.5 L542.7,302.5 L547.7,304.5 L553.1,306.5 L558.9,308.5 L565.1,310.5 L571.6,312.5 L578.7,314.5 L586.2,316.5 L594.2,318.5 L602.7,320.5 L611.9,322.5 L621.6,324.5 L632.1,326.5 L634.5,328.5 L634.5,330.5 L634.5,332.5 L634.5,334.5 L634.5,336.5 L634.5,338.5 L634.5,340.5 L634.5,342.5 L634.5,344.5 L634.5,346.5 L634.5,348.5 L634.5,350.5 L634.5,352.5 L634.5,354.5 L634.5,356.5 L634.5,358.5 L634.5,360.5 L634.5,362.5 L634.5,364.5 L634.5,366.5 L634.5,368.5 L634.5,370.5 L634.5,372.5 L634.5,374.5 L634.5,376.5 L634.5,378.5 L634.5,380.5 L634.5,382.5 L634.5,384.5 L634.5,386.5 L634.5,388.5 L634.5,390.5 L634.5,392.5 L634.5,392.5 L634.5,226.5 Z" fill="#d1f4f3"/>
<path d="M474.9,226.5 L475.4,228.5 L475.8,230.5 L476.3,232.5 L476.9,234.5 L477.4,236.5 L478.0,238.5 L478.7,240.5 L479.4,242.5 L480.1,244.5 L480.9,246.5 L481.8,248.5 L482.7,250.5 L483.6,252.5 L484.7,254.5 L485.8,256.5 L486.9,258.5 L488.2,260.5 L489.5,262.5 L491.0,264.5 L492.5,266.5 L494.1,268.5 L495.9,270.5 L497.8,272.5 L499.7,274.5 L501.9,276.5 L504.1,278.5 L506.6,280.5 L509.2,282.5 L511.9,284.5 L514.9,286.5 L518.1,288.5 L521.4,290.5 L525.0,292.5 L528.9,294.5 L533.0,296.5 L537.4,298.5 L542.1,300.5 L547.1,302.5 L552.4,304.5 L558.2,306.5 L564.3,308.5 L570.8,310.5 L577.7,312.5 L585.2,314.5 L593.1,316.5 L601.6,318.5 L610.7,320.5 L620.4,322.5 L630.7,324.5 L634.5,326.5 L634.5,328.5 L634.5,330.5 L634.5,332.5 L634.5,334.5 L634.5,336.5 L634.5,338.5 L634.5,340.5 L634.5,342.5 L634.5,344.5 L634.5,346.5 L634.5,348.5 L634.5,350.5 L634.5,352.5 L634.5,354.5 L634.5,356.5 L634.5,358.5 L634.5,360.5 L634.5,362.5 L634.5,364.5 L634.5,366.5 L634.5,368.5 L634.5,370.5 L634.5,372.5 L634.5,374.5 L634.5,376.5 L634.5,378.5 L634.5,380.5 L634.5,382.5 L634.5,384.5 L634.5,386.5 L634.5,388.5 L634.5,390.5 L634.5,392.5 L634.5,392.5 L634.5,226.5 Z" fill="#d3f5f2"/>
<path d="M475.3,226.5 L475.8,228.5 L476.3,230.5 L476.8,232.5 L477.4,234.5 L478.0,236.5 L478.6,238.5 L479.3,240.5 L480.0,242.5 L480.8,244.5 L481.7,246.5 L482.6,248.5 L483.5,250.5 L484.5,252.5 L485.6,254.5 L486.8,256.5 L488.0,258.5 L489.4,260.5 L490.8,262.5 L492.3,264.5 L493.9,266.5 L495.7,268.5 L497.5,270.5 L499.5,272.5 L501.6,274.5 L503.8,276.5 L506.3,278.5 L508.8,280.5 L511.6,282.5 L514.5,284.5 L517.6,286.5 L521.0,288.5 L524.6,290.5 L528.4,292.5 L532.5,294.5 L536.8,296.5 L541.5,298.5 L546.4,300.5 L551.7,302.5 L557.4,304.5 L563.5,306.5 L569.9,308.5 L576.8,310.5 L584.2,312.5 L592.1,314.5 L600.5,316.5 L609.5,318.5 L619.1,320.5 L629.4,322.5 L634.5,324.5 L634.5,326.5 L634.5,328.5 L634.5,330.5 L634.5,332.5 L634.5,334.5 L634.5,336.5 L634.5,338.5 L634.5,340.5 L634.5,342.5 L634.5,344.5 L634.5,346.5 L634.5,348.5 L634.5,350.5 L634.5,352.5 L634.5,354.5 L634.5,356.5 L634.5,358.5 L634.5,360.5 L634.5,362.5 L634.5,364.5 L634.5,366.5 L634.5,368.5 L634.5,370.5 L634.5,372.5 L634.5,374.5 L634.5,376.5 L634.5,378.5 L634.5,380.5 L634.5,382.5 L634.5,384.5 L634.5,386.5 L634.5,388.5 L634.5,390.5 L634.5,392.5 L634.5,392.5 L634.5,226.5 Z" fill="#d5f5f0"/>
<path d="M475.7,226.5 L476.2,228.5 L476.7,230.5 L477.3,232.5 L477.9,234.5 L478.5,236.5 L479.2,238.5 L479.9,240.5 L480.7,242.5 L481.5,244.5 L482.4,246.5 L483.4,248.5 L484.4,250.5 L485.5,252.5 L486.6,254.5 L487.9,256.5 L489.2,258.5 L490.6,260.5 L492.1,262.5 L493.7,264.5 L495.4,266.5 L497.3,268.5 L499.2,270.5 L501.3,272.5 L503.6,274.5 L505.9,276.5 L508.5,278.5 L511.2,280.5 L514.1,282.5 L517.2,284.5 L520.6,286.5 L524.1,288.5 L527.9,290.5 L531.9,292.5 L536.2,294.5 L540.9,296.5 L545.8,298.5 L551.1,300.5 L556.7,302.5 L562.7,304.5 L569.1,306.5 L575.9,308.5 L583.3,310.5 L591.1,312.5 L599.4,314.5 L608.3,316.5 L617.9,318.5 L628.0,320.5 L634.5,322.5 L634.5,324.5 L634.5,326.5 L634.5,328.5 L634.5,330.5 L634.5,332.5 L634.5,334.5 L634.5,336.5 L634.5,338.5 L634.5,340.5 L634.5,342.5 L634.5,344.5 L634.5,346.5 L634.5,348.5 L634.5,350.5 L634.5,352.5 L634.5,354.5 L634.5,356.5 L634.5,358.5 L634.5,360.5 L634.5,362.5 L634.5,364.5 L634.5,366.5 L634.5,368.5 L634.5,370.5 L634.5,372.5 L634.5,374.5 L634.5,376.5 L634.5,378.5 L634.5,380.5 L634.5,382.5 L634.5,384.5 L634.5,386.5 L634.5,388.5 L634.5,390.5 L634.5,392.5 L634.5,392.5 L634.5,226.5 Z" fill="#d6f5ef"/>
<path d="M476.1,226.5 L476.7,228.5 L477.2,230.5 L477.8,232.5 L478.4,234.5 L479.1,236.5 L479.8,238.5 L480.6,240.5 L481.4,242.5 L482.3,244.5 L483.3,246.5 L484.3,248.5 L485.3,250.5 L486.5,252.5 L487.7,254.5 L489.0,256.5 L490.4,258.5 L491.9,260.5 L493.5,262.5 L495.2,264.5 L497.0,266.5 L499.0,268.5 L501.0,270.5 L503.3,272.5 L505.6,274.5 L508.2,276.5 L510.9,278.5 L513.7,280.5 L516.8,282.5 L520.1,284.5 L523.6,286.5 L527.4,288.5 L531.4,290.5 L535.7,292.5 L540.3,294.5 L545.1,296.5 L550.4,298.5 L555.9,300.5 L561.9,302.5 L568.3,304.5 L575.1,306.5 L582.3,308.5 L590.1,310.5 L598.3,312.5 L607.2,314.5 L616.6,316.5 L626.7,318.5 L634.5,320.5 L634.5,322.5 L634.5,324.5 L634.5,326.5 L634.5,328.5 L634.5,330.5 L634.5,332.5 L634.5,334.5 L634.5,336.5 L634.5,338.5 L634.5,340.5 L634.5,342.5 L634.5,344.5 L634.5,346.5 L634.5,348.5 L634.5,350.5 L634.5,352.5 L634.5,354.5 L634.5,356.5 L634.5,358.5 L634.5,360.5 L634.5,362.5 L634.5,364.5 L634.5,366.5 L634.5,368.5 L634.5,370.5 L634.5,372.5 L634.5,374.5 L634.5,376.5 L634.5,378.5 L634.5,380.5 L634.5,382.5 L634.5,384.5 L634.5,386.5 L634.5,388.5 L634.5,390.5 L634.5,392.5 L634.5,392.5 L634.5,226.5 Z" fill="#d8f5ed"/>
<path d="M476.6,226.5 L477.1,228.5 L477.7,230.5 L478.4,232.5 L479.0,234.5 L479.7,236.5 L480.5,238.5 L481.3,240.5 L482.2,242.5 L483.1,244.5 L484.1,246.5 L485.2,248.5 L486.3,250.5 L487.6,252.5 L488.9,254.5 L490.2,256.5 L491.7,258.5 L493.3,260.5 L495.0,262.5 L496.8,264.5 L498.7,266.5 L500.8,268.5 L503.0,270.5 L505.3,272.5 L507.8,274.5 L510.5,276.5 L513.4,278.5 L516.4,280.5 L519.7,282.5 L523.2,284.5 L526.9,286.5 L530.9,288.5 L535.1,290.5 L539.7,292.5 L544.5,294.5 L549.7,296.5 L555.2,298.5 L561.1,300.5 L567.4,302.5 L574.2,304.5 L581.4,306.5 L589.1,308.5 L597.3,310.5 L606.0,312.5 L615.4,314.5 L625.4,316.5 L634.5,318.5 L634.5,320.5 L634.5,322.5 L634.5,324.5 L634.5,326.5 L634.5,328.5 L634.5,330.5 L634.5,332.5 L634.5,334.5 L634.5,336.5 L634.5,338.5 L634.5,340.5 L634.5,342.5 L634.5,344.5 L634.5,346.5 L634.5,348.5 L634.5,350.5 L634.5,352.5 L634.5,354.5 L634.5,356.5 L634.5,358.5 L634.5,360.5 L634.5,362.5 L634.5,364.5 L634.5,366.5 L634.5,368.5 L634.5,370.5 L634.5,372.5 L634.5,374.5 L634.5,376.5 L634.5,378.5 L634.5,380.5 L634.5,382.5 L634.5,384.5 L634.5,386.5 L634.5,388.5 L634.5,390.5 L634.5,392.5 L634.5,392.5 L634.5,226.5 Z" fill="#daf6ec"/>
<path d="M477.1,226.5 L477.7,228.5 L478.3,230.5 L478.9,232.5 L479.7,234.5 L480.4,236.5 L481.2,238.5 L482.1,240.5 L483.0,242.5 L484.0,244.5 L485.1,246.5 L486.2,248.5 L487.4,250.5 L488.7,252.5 L490.1,254.5 L491.5,256.5 L493.1,258.5 L494.8,260.5 L496.6,262.5 L498.5,264.5 L500.5,266.5 L502.7,268.5 L505.0,270.5 L507.5,272.5 L510.2,274.5 L513.0,276.5 L516.0,278.5 L519.3,280.5 L522.7,282.5 L526.4,284.5 L530.4,286.5 L534.6,288.5 L539.1,290.5 L543.9,292.5 L549.0,294.5 L554.5,296.5 L560.4,298.5 L566.6,300.5 L573.3,302.5 L580.4,304.5 L588.1,306.5 L596.2,308.5 L604.9,310.5 L614.2,312.5 L624.1,314.5 L634.5,316.5 L634.5,318.5 L634.5,320.5 L634.5,322.5 L634.5,324.5 L634.5,326.5 L634.5,328.5 L634.5,330.5 L634.5,332.5 L634.5,334.5 L634.5,336.5 L634.5,338.5 L634.5,340.5 L634.5,342.5 L634.5,344.5 L634.5,346.5 L634.5,348.5 L634.5,350.5 L634.5,352.5 L634.5,354.5 L634.5,356.5 L634.5,358.5 L634.5,360.5 L634.5,362.5 L634.5,364.5 L634.5,366.5 L634.5,368.5 L634.5,370.5 L634.5,372.5 L634.5,374.5 L634.5,376.5 L634.5,378.5 L634.5,380.5 L634.5,382.5 L634.5,384.5 L634.5,386.5 L634.5,388.5 L634.5,390.5 L634.5,392.5 L634.5,392.5 L634.5,226.5 Z" fill="#dcf6eb"/>
<path d="M477.6,226.5 L478.2,228.5 L478.9,230.5 L479.6,232.5 L480.3,234.5 L481.1,236.5 L482.0,238.5 L482.9,240.5 L483.9,242.5 L484.9,244.5 L486.0,246.5 L487.2,248.5 L488.5,250.5 L489.9,252.5 L491.3,254.5 L492.9,256.5 L494.6,258.5 L496.3,260.5 L498.2,262.5 L500.2,264.5 L502.4,266.5 L504.7,268.5 L507.2,270.5 L509.8,272.5 L512.6,274.5 L515.6,276.5 L518.8,278.5 L522.3,280.5 L525.9,282.5 L529.9,284.5 L534.0,286.5 L538.5,288.5 L543.3,290.5 L548.4,292.5 L553.8,294.5 L559.6,296.5 L565.8,298.5 L572.4,300.5 L579.5,302.5 L587.1,304.5 L595.1,306.5 L603.8,308.5 L613.0,310.5 L622.8,312.5 L633.3,314.5 L634.5,316.5 L634.5,318.5 L634.5,320.5 L634.5,322.5 L634.5,324.5 L634.5,326.5 L634.5,328.5 L634.5,330.5 L634.5,332.5 L634.5,334.5 L634.5,336.5 L634.5,338.5 L634.5,340.5 L634.5,342.5 L634.5,344.5 L634.5,346.5 L634.5,348.5 L634.5,350.5 L634.5,352.5 L634.5,354.5 L634.5,356.5 L634.5,358.5 L634.5,360.5 L634.5,362.5 L634.5,364.5 L634.5,366.5 L634.5,368.5 L634.5,370.5 L634.5,372.5 L634.5,374.5 L634.5,376.5 L634.5,378.5 L634.5,380.5 L634.5,382.5 L634.5,384.5 L634.5,386.5 L634.5,388.5 L634.5,390.5 L634.5,392.5 L634.5,392.5 L634.5,226.5 Z" fill="#def6e9"/>
<path d="M478.1,226.5 L478.8,228.5 L479.5,230.5 L480.2,232.5 L481.0,234.5 L481.9,236.5 L482.8,238.5 L483.8,240.5 L484.8,242.5 L485.9,244.5 L487.1,246.5 L488.4,248.5 L489.7,250.5 L491.1,252.5 L492.7,254.5 L494.3,256.5 L496.1,258.5 L498.0,260.5 L500.0,262.5 L502.1,264.5 L504.4,266.5 L506.9,268.5 L509.5,270.5 L512.3,272.5 L515.2,274.5 L518.4,276.5 L521.8,278.5 L525.5,280.5 L529.3,282.5 L533.5,284.5 L537.9,286.5 L542.6,288.5 L547.7,290.5 L553.1,292.5 L558.8,294.5 L565.0,296.5 L571.6,298.5 L578.6,300.5 L586.1,302.5 L594.1,304.5 L602.6,306.5 L611.8,308.5 L621.5,310.5 L632.0,312.5 L634.5,314.5 L634.5,316.5 L634.5,318.5 L634.5,320.5 L634.5,322.5 L634.5,324.5 L634.5,326.5 L634.5,328.5 L634.5,330.5 L634.5,332.5 L634.5,334.5 L634.5,336.5 L634.5,338.5 L634.5,340.5 L634.5,342.5 L634.5,344.5 L634.5,346.5 L634.5,348.5 L634.5,350.5 L634.5,352.5 L634.5,354.5 L634.5,356.5 L634.5,358.5 L634.5,360.5 L634.5,362.5 L634.5,364.5 L634.5,366.5 L634.5,368.5 L634.5,370.5 L634.5,372.5 L634.5,374.5 L634.5,376.5 L634.5,378.5 L634.5,380.5 L634.5,382.5 L634.5,384.5 L634.5,386.5 L634.5,388.5 L634.5,390.5 L634.5,392.5 L634.5,392.5 L634.5,226.5 Z" fill="#e1f6e6"/>
<path d="M478.7,226.5 L479.4,228.5 L480.1,230.5 L480.9,232.5 L481.8,234.5 L482.7,236.5 L483.6,238.5 L484.7,240.5 L485.8,242.5 L486.9,244.5 L488.2,246.5 L489.5,248.5 L491.0,250.5 L492.5,252.5 L494.1,254.5 L495.9,256.5 L497.7,258.5 L499.7,260.5 L501.8,262.5 L504.1,264.5 L506.5,266.5 L509.1,268.5 L511.9,270.5 L514.9,272.5 L518.0,274.5 L521.4,276.5 L525.0,278.5 L528.8,280.5 L532.9,282.5 L537.3,284.5 L542.0,286.5 L547.0,288.5 L552.4,290.5 L558.1,292.5 L564.2,294.5 L570.7,296.5 L577.7,298.5 L585.1,300.5 L593.0,302.5 L601.5,304.5 L610.6,306.5 L620.3,308.5 L630.6,310.5 L634.5,312.5 L634.5,314.5 L634.5,316.5 L634.5,318.5 L634.5,320.5 L634.5,322.5 L634.5,324.5 L634.5,326.5 L634.5,328.5 L634.5,330.5 L634.5,332.5 L634.5,334.5 L634.5,336.5 L634.5,338.5 L634.5,340.5 L634.5,342.5 L634.5,344.5 L634.5,346.5 L634.5,348.5 L634.5,350.5 L634.5,352.5 L634.5,354.5 L634.5,356.5 L634.5,358.5 L634.5,360.5 L634.5,362.5 L634.5,364.5 L634.5,366.5 L634.5,368.5 L634.5,370.5 L634.5,372.5 L634.5,374.5 L634.5,376.5 L634.5,378.5 L634.5,380.5 L634.5,382.5 L634.5,384.5 L634.5,386.5 L634.5,388.5 L634.5,390.5 L634.5,392.5 L634.5,392.5 L634.5,226.5 Z" fill="#e4f7e3"/>
<path d="M479.3,226.5 L480.0,228.5 L480.8,230.5 L481.6,232.5 L482.5,234.5 L483.5,236.5 L484.5,238.5 L485.6,240.5 L486.8,242.5 L488.0,244.5 L489.4,246.5 L490.8,248.5 L492.3,250.5 L493.9,252.5 L495.6,254.5 L497.5,256.5 L499.5,258.5 L501.6,260.5 L503.8,262.5 L506.2,264.5 L508.8,266.5 L511.5,268.5 L514.5,270.5 L517.6,272.5 L521.0,274.5 L524.5,276.5 L528.3,278.5 L532.4,280.5 L536.8,282.5 L541.4,284.5 L546.4,286.5 L551.7,288.5 L557.4,290.5 L563.4,292.5 L569.9,294.5 L576.8,296.5 L584.1,298.5 L592.0,300.5 L600.4,302.5 L609.4,304.5 L619.0,306.5 L629.3,308.5 L634.5,310.5 L634.5,312.5 L634.5,314.5 L634.5,316.5 L634.5,318.5 L634.5,320.5 L634.5,322.5 L634.5,324.5 L634.5,326.5 L634.5,328.5 L634.5,330.5 L634.5,332.5 L634.5,334.5 L634.5,336.5 L634.5,338.5 L634.5,340.5 L634.5,342.5 L634.5,344.5 L634.5,346.5 L634.5,348.5 L634.5,350.5 L634.5,352.5 L634.5,354.5 L634.5,356.5 L634.5,358.5 L634.5,360.5 L634.5,362.5 L634.5,364.5 L634.5,366.5 L634.5,368.5 L634.5,370.5 L634.5,372.5 L634.5,374.5 L634.5,376.5 L634.5,378.5 L634.5,380.5 L634.5,382.5 L634.5,384.5 L634.5,386.5 L634.5,388.5 L634.5,390.5 L634.5,392.5 L634.5,392.5 L634.5,226.5 Z" fill="#e7f7e0"/>
<path d="M479.9,226.5 L480.7,228.5 L481.5,230.5 L482.4,232.5 L483.4,234.5 L484.4,236.5 L485.5,238.5 L486.6,240.5 L487.9,242.5 L489.2,244.5 L490.6,246.5 L492.1,248.5 L493.7,250.5 L495.4,252.5 L497.3,254.5 L499.2,256.5 L501.3,258.5 L503.5,260.5 L505.9,262.5 L508.5,264.5 L511.2,266.5 L514.1,268.5 L517.2,270.5 L520.5,272.5 L524.1,274.5 L527.8,276.5 L531.9,278.5 L536.2,280.5 L540.8,282.5 L545.7,284.5 L551.0,286.5 L556.6,288.5 L562.6,290.5 L569.0,292.5 L575.9,294.5 L583.2,296.5 L591.0,298.5 L599.3,300.5 L608.2,302.5 L617.8,304.5 L627.9,306.5 L634.5,308.5 L634.5,310.5 L634.5,312.5 L634.5,314.5 L634.5,316.5 L634.5,318.5 L634.5,320.5 L634.5,322.5 L634.5,324.5 L634.5,326.5 L634.5,328.5 L634.5,330.5 L634.5,332.5 L634.5,334.5 L634.5,336.5 L634.5,338.5 L634.5,340.5 L634.5,342.5 L634.5,344.5 L634.5,346.5 L634.5,348.5 L634.5,350.5 L634.5,352.5 L634.5,354.5 L634.5,356.5 L634.5,358.5 L634.5,360.5 L634.5,362.5 L634.5,364.5 L634.5,366.5 L634.5,368.5 L634.5,370.5 L634.5,372.5 L634.5,374.5 L634.5,376.5 L634.5,378.5 L634.5,380.5 L634.5,382.5 L634.5,384.5 L634.5,386.5 L634.5,388.5 L634.5,390.5 L634.5,392.5 L634.5,392.5 L634.5,226.5 Z" fill="#eaf7dd"/>
<path d="M480.6,226.5 L481.4,228.5 L482.3,230.5 L483.3,232.5 L484.3,234.5 L485.3,236.5 L486.5,238.5 L487.7,240.5 L489.0,242.5 L490.4,244.5 L491.9,246.5 L493.5,248.5 L495.2,250.5 L497.0,252.5 L499.0,254.5 L501.0,256.5 L503.2,258.5 L505.6,260.5 L508.1,262.5 L510.8,264.5 L513.7,266.5 L516.8,268.5 L520.1,270.5 L523.6,272.5 L527.4,274.5 L531.4,276.5 L535.6,278.5 L540.2,280.5 L545.1,282.5 L550.3,284.5 L555.9,286.5 L561.8,288.5 L568.2,290.5 L575.0,292.5 L582.2,294.5 L590.0,296.5 L598.3,298.5 L607.1,300.5 L616.5,302.5 L626.6,304.5 L634.5,306.5 L634.5,308.5 L634.5,310.5 L634.5,312.5 L634.5,314.5 L634.5,316.5 L634.5,318.5 L634.5,320.5 L634.5,322.5 L634.5,324.5 L634.5,326.5 L634.5,328.5 L634.5,330.5 L634.5,332.5 L634.5,334.5 L634.5,336.5 L634.5,338.5 L634.5,340.5 L634.5,342.5 L634.5,344.5 L634.5,346.5 L634.5,348.5 L634.5,350.5 L634.5,352.5 L634.5,354.5 L634.5,356.5 L634.5,358.5 L634.5,360.5 L634.5,362.5 L634.5,364.5 L634.5,366.5 L634.5,368.5 L634.5,370.5 L634.5,372.5 L634.5,374.5 L634.5,376.5 L634.5,378.5 L634.5,380.5 L634.5,382.5 L634.5,384.5 L634.5,386.5 L634.5,388.5 L634.5,390.5 L634.5,392.5 L634.5,392.5 L634.5,226.5 Z" fill="#edf8da"/>
<path d="M481.3,226.5 L482.2,228.5 L483.1,230.5 L484.1,232.5 L485.2,234.5 L486.3,236.5 L487.5,238.5 L488.8,240.5 L490.2,242.5 L491.7,244.5 L493.3,246.5 L495.0,248.5 L496.8,250.5 L498.7,252.5 L500.8,254.5 L503.0,256.5 L505.3,258.5 L507.8,260.5 L510.5,262.5 L513.3,264.5 L516.4,266.5 L519.7,268.5 L523.1,270.5 L526.9,272.5 L530.8,274.5 L535.1,276.5 L539.6,278.5 L544.5,280.5 L549.6,282.5 L555.2,284.5 L561.1,286.5 L567.4,288.5 L574.1,290.5 L581.3,292.5 L589.0,294.5 L597.2,296.5 L605.9,298.5 L615.3,300.5 L625.3,302.5 L634.5,304.5 L634.5,306.5 L634.5,308.5 L634.5,310.5 L634.5,312.5 L634.5,314.5 L634.5,316.5 L634.5,318.5 L634.5,320.5 L634.5,322.5 L634.5,324.5 L634.5,326.5 L634.5,328.5 L634.5,330.5 L634.5,332.5 L634.5,334.5 L634.5,336.5 L634.5,338.5 L634.5,340.5 L634.5,342.5 L634.5,344.5 L634.5,346.5 L634.5,348.5 L634.5,350.5 L634.5,352.5 L634.5,354.5 L634.5,356.5 L634.5,358.5 L634.5,360.5 L634.5,362.5 L634.5,364.5 L634.5,366.5 L634.5,368.5 L634.5,370.5 L634.5,372.5 L634.5,374.5 L634.5,376.5 L634.5,378.5 L634.5,380.5 L634.5,382.5 L634.5,384.5 L634.5,386.5 L634.5,388.5 L634.5,390.5 L634.5,392.5 L634.5,392.5 L634.5,226.5 Z" fill="#eff8d6"/>
<path d="M482.1,226.5 L483.0,228.5 L484.0,230.5 L485.1,232.5 L486.2,234.5 L487.4,236.5 L488.7,238.5 L490.0,240.5 L491.5,242.5 L493.1,244.5 L494.8,246.5 L496.5,248.5 L498.5,250.5 L500.5,252.5 L502.7,254.5 L505.0,256.5 L507.5,258.5 L510.1,260.5 L513.0,262.5 L516.0,264.5 L519.2,266.5 L522.7,268.5 L526.4,270.5 L530.3,272.5 L534.5,274.5 L539.0,276.5 L543.8,278.5 L549.0,280.5 L554.4,282.5 L560.3,284.5 L566.5,286.5 L573.2,288.5 L580.4,290.5 L588.0,292.5 L596.1,294.5 L604.8,296.5 L614.1,298.5 L624.0,300.5 L634.5,302.5 L634.5,304.5 L634.5,306.5 L634.5,308.5 L634.5,310.5 L634.5,312.5 L634.5,314.5 L634.5,316.5 L634.5,318.5 L634.5,320.5 L634.5,322.5 L634.5,324.5 L634.5,326.5 L634.5,328.5 L634.5,330.5 L634.5,332.5 L634.5,334.5 L634.5,336.5 L634.5,338.5 L634.5,340.5 L634.5,342.5 L634.5,344.5 L634.5,346.5 L634.5,348.5 L634.5,350.5 L634.5,352.5 L634.5,354.5 L634.5,356.5 L634.5,358.5 L634.5,360.5 L634.5,362.5 L634.5,364.5 L634.5,366.5 L634.5,368.5 L634.5,370.5 L634.5,372.5 L634.5,374.5 L634.5,376.5 L634.5,378.5 L634.5,380.5 L634.5,382.5 L634.5,384.5 L634.5,386.5 L634.5,388.5 L634.5,390.5 L634.5,392.5 L634.5,392.5 L634.5,226.5 Z" fill="#f1f8d3"/>
<path d="M482.9,226.5 L483.9,228.5 L484.9,230.5 L486.0,232.5 L487.2,234.5 L488.5,236.5 L489.9,238.5 L491.3,240.5 L492.9,242.5 L494.5,244.5 L496.3,246.5 L498.2,248.5 L500.2,250.5 L502.4,252.5 L504.7,254.5 L507.2,256.5 L509.8,258.5 L512.6,260.5 L515.6,262.5 L518.8,264.5 L522.2,266.5 L525.9,268.5 L529.8,270.5 L534.0,272.5 L538.4,274.5 L543.2,276.5 L548.3,278.5 L553.7,280.5 L559.5,282.5 L565.7,284.5 L572.4,286.5 L579.4,288.5 L587.0,290.5 L595.1,292.5 L603.7,294.5 L612.9,296.5 L622.7,298.5 L633.2,300.5 L634.5,302.5 L634.5,304.5 L634.5,306.5 L634.5,308.5 L634.5,310.5 L634.5,312.5 L634.5,314.5 L634.5,316.5 L634.5,318.5 L634.5,320.5 L634.5,322.5 L634.5,324.5 L634.5,326.5 L634.5,328.5 L634.5,330.5 L634.5,332.5 L634.5,334.5 L634.5,336.5 L634.5,338.5 L634.5,340.5 L634.5,342.5 L634.5,344.5 L634.5,346.5 L634.5,348.5 L634.5,350.5 L634.5,352.5 L634.5,354.5 L634.5,356.5 L634.5,358.5 L634.5,360.5 L634.5,362.5 L634.5,364.5 L634.5,366.5 L634.5,368.5 L634.5,370.5 L634.5,372.5 L634.5,374.5 L634.5,376.5 L634.5,378.5 L634.5,380.5 L634.5,382.5 L634.5,384.5 L634.5,386.5 L634.5,388.5 L634.5,390.5 L634.5,392.5 L634.5,392.5 L634.5,226.5 Z" fill="#f3f8d0"/>
<path d="M483.7,226.5 L484.8,228.5 L485.9,230.5 L487.1,232.5 L488.3,234.5 L489.7,236.5 L491.1,238.5 L492.7,240.5 L494.3,242.5 L496.1,244.5 L498.0,246.5 L500.0,248.5 L502.1,250.5 L504.4,252.5 L506.8,254.5 L509.5,256.5 L512.2,258.5 L515.2,260.5 L518.4,262.5 L521.8,264.5 L525.4,266.5 L529.3,268.5 L533.4,270.5 L537.9,272.5 L542.6,274.5 L547.6,276.5 L553.0,278.5 L558.8,280.5 L564.9,282.5 L571.5,284.5 L578.5,286.5 L586.0,288.5 L594.0,290.5 L602.6,292.5 L611.7,294.5 L621.4,296.5 L631.8,298.5 L634.5,300.5 L634.5,302.5 L634.5,304.5 L634.5,306.5 L634.5,308.5 L634.5,310.5 L634.5,312.5 L634.5,314.5 L634.5,316.5 L634.5,318.5 L634.5,320.5 L634.5,322.5 L634.5,324.5 L634.5,326.5 L634.5,328.5 L634.5,330.5 L634.5,332.5 L634.5,334.5 L634.5,336.5 L634.5,338.5 L634.5,340.5 L634.5,342.5 L634.5,344.5 L634.5,346.5 L634.5,348.5 L634.5,350.5 L634.5,352.5 L634.5,354.5 L634.5,356.5 L634.5,358.5 L634.5,360.5 L634.5,362.5 L634.5,364.5 L634.5,366.5 L634.5,368.5 L634.5,370.5 L634.5,372.5 L634.5,374.5 L634.5,376.5 L634.5,378.5 L634.5,380.5 L634.5,382.5 L634.5,384.5 L634.5,386.5 L634.5,388.5 L634.5,390.5 L634.5,392.5 L634.5,392.5 L634.5,226.5 Z" fill="#f6f8cc"/>
<path d="M484.6,226.5 L485.7,228.5 L486.9,230.5 L488.2,232.5 L489.5,234.5 L490.9,236.5 L492.5,238.5 L494.1,240.5 L495.9,242.5 L497.7,244.5 L499.7,246.5 L501.8,248.5 L504.1,250.5 L506.5,252.5 L509.1,254.5 L511.9,256.5 L514.8,258.5 L518.0,260.5 L521.4,262.5 L525.0,264.5 L528.8,266.5 L532.9,268.5 L537.3,270.5 L542.0,272.5 L547.0,274.5 L552.3,276.5 L558.0,278.5 L564.1,280.5 L570.6,282.5 L577.6,284.5 L585.0,286.5 L593.0,288.5 L601.4,290.5 L610.5,292.5 L620.2,294.5 L630.5,296.5 L634.5,298.5 L634.5,300.5 L634.5,302.5 L634.5,304.5 L634.5,306.5 L634.5,308.5 L634.5,310.5 L634.5,312.5 L634.5,314.5 L634.5,316.5 L634.5,318.5 L634.5,320.5 L634.5,322.5 L634.5,324.5 L634.5,326.5 L634.5,328.5 L634.5,330.5 L634.5,332.5 L634.5,334.5 L634.5,336.5 L634.5,338.5 L634.5,340.5 L634.5,342.5 L634.5,344.5 L634.5,346.5 L634.5,348.5 L634.5,350.5 L634.5,352.5 L634.5,354.5 L634.5,356.5 L634.5,358.5 L634.5,360.5 L634.5,362.5 L634.5,364.5 L634.5,366.5 L634.5,368.5 L634.5,370.5 L634.5,372.5 L634.5,374.5 L634.5,376.5 L634.5,378.5 L634.5,380.5 L634.5,382.5 L634.5,384.5 L634.5,386.5 L634.5,388.5 L634.5,390.5 L634.5,392.5 L634.5,392.5 L634.5,226.5 Z" fill="#f8f8c9"/>
<path d="M485.6,226.5 L486.8,228.5 L488.0,230.5 L489.3,232.5 L490.8,234.5 L492.3,236.5 L493.9,238.5 L495.6,240.5 L497.5,242.5 L499.4,244.5 L501.6,246.5 L503.8,248.5 L506.2,250.5 L508.8,252.5 L511.5,254.5 L514.4,256.5 L517.6,258.5 L520.9,260.5 L524.5,262.5 L528.3,264.5 L532.4,266.5 L536.7,268.5 L541.4,270.5 L546.3,272.5 L551.6,274.5 L557.3,276.5 L563.3,278.5 L569.8,280.5 L576.7,282.5 L584.1,284.5 L591.9,286.5 L600.3,288.5 L609.3,290.5 L618.9,292.5 L629.2,294.5 L634.5,296.5 L634.5,298.5 L634.5,300.5 L634.5,302.5 L634.5,304.5 L634.5,306.5 L634.5,308.5 L634.5,310.5 L634.5,312.5 L634.5,314.5 L634.5,316.5 L634.5,318.5 L634.5,320.5 L634.5,322.5 L634.5,324.5 L634.5,326.5 L634.5,328.5 L634.5,330.5 L634.5,332.5 L634.5,334.5 L634.5,336.5 L634.5,338.5 L634.5,340.5 L634.5,342.5 L634.5,344.5 L634.5,346.5 L634.5,348.5 L634.5,350.5 L634.5,352.5 L634.5,354.5 L634.5,356.5 L634.5,358.5 L634.5,360.5 L634.5,362.5 L634.5,364.5 L634.5,366.5 L634.5,368.5 L634.5,370.5 L634.5,372.5 L634.5,374.5 L634.5,376.5 L634.5,378.5 L634.5,380.5 L634.5,382.5 L634.5,384.5 L634.5,386.5 L634.5,388.5 L634.5,390.5 L634.5,392.5 L634.5,392.5 L634.5,226.5 Z" fill="#faf8c6"/>
<path d="M486.6,226.5 L487.9,228.5 L489.2,230.5 L490.6,232.5 L492.1,234.5 L493.7,236.5 L495.4,238.5 L497.2,240.5 L499.2,242.5 L501.3,244.5 L503.5,246.5 L505.9,248.5 L508.4,250.5 L511.2,252.5 L514.1,254.5 L517.2,256.5 L520.5,258.5 L524.0,260.5 L527.8,262.5 L531.8,264.5 L536.2,266.5 L540.8,268.5 L545.7,270.5 L550.9,272.5 L556.6,274.5 L562.6,276.5 L569.0,278.5 L575.8,280.5 L583.1,282.5 L590.9,284.5 L599.3,286.5 L608.2,288.5 L617.7,290.5 L627.8,292.5 L634.5,294.5 L634.5,296.5 L634.5,298.5 L634.5,300.5 L634.5,302.5 L634.5,304.5 L634.5,306.5 L634.5,308.5 L634.5,310.5 L634.5,312.5 L634.5,314.5 L634.5,316.5 L634.5,318.5 L634.5,320.5 L634.5,322.5 L634.5,324.5 L634.5,326.5 L634.5,328.5 L634.5,330.5 L634.5,332.5 L634.5,334.5 L634.5,336.5 L634.5,338.5 L634.5,340.5 L634.5,342.5 L634.5,344.5 L634.5,346.5 L634.5,348.5 L634.5,350.5 L634.5,352.5 L634.5,354.5 L634.5,356.5 L634.5,358.5 L634.5,360.5 L634.5,362.5 L634.5,364.5 L634.5,366.5 L634.5,368.5 L634.5,370.5 L634.5,372.5 L634.5,374.5 L634.5,376.5 L634.5,378.5 L634.5,380.5 L634.5,382.5 L634.5,384.5 L634.5,386.5 L634.5,388.5 L634.5,390.5 L634.5,392.5 L634.5,392.5 L634.5,226.5 Z" fill="#fbf7c2"/>
<path d="M487.7,226.5 L489.0,228.5 L490.4,230.5 L491.9,232.5 L493.5,234.5 L495.2,236.5 L497.0,238.5 L498.9,240.5 L501.0,242.5 L503.2,244.5 L505.6,246.5 L508.1,248.5 L510.8,250.5 L513.7,252.5 L516.8,254.5 L520.1,256.5 L523.6,258.5 L527.3,260.5 L531.3,262.5 L535.6,264.5 L540.2,266.5 L545.0,268.5 L550.3,270.5 L555.8,272.5 L561.8,274.5 L568.1,276.5 L574.9,278.5 L582.2,280.5 L589.9,282.5 L598.2,284.5 L607.0,286.5 L616.4,288.5 L626.5,290.5 L634.5,292.5 L634.5,294.5 L634.5,296.5 L634.5,298.5 L634.5,300.5 L634.5,302.5 L634.5,304.5 L634.5,306.5 L634.5,308.5 L634.5,310.5 L634.5,312.5 L634.5,314.5 L634.5,316.5 L634.5,318.5 L634.5,320.5 L634.5,322.5 L634.5,324.5 L634.5,326.5 L634.5,328.5 L634.5,330.5 L634.5,332.5 L634.5,334.5 L634.5,336.5 L634.5,338.5 L634.5,340.5 L634.5,342.5 L634.5,344.5 L634.5,346.5 L634.5,348.5 L634.5,350.5 L634.5,352.5 L634.5,354.5 L634.5,356.5 L634.5,358.5 L634.5,360.5 L634.5,362.5 L634.5,364.5 L634.5,366.5 L634.5,368.5 L634.5,370.5 L634.5,372.5 L634.5,374.5 L634.5,376.5 L634.5,378.5 L634.5,380.5 L634.5,382.5 L634.5,384.5 L634.5,386.5 L634.5,388.5 L634.5,390.5 L634.5,392.5 L634.5,392.5 L634.5,226.5 Z" fill="#fcf6bd"/>
<path d="M488.8,226.5 L490.2,228.5 L491.7,230.5 L493.3,232.5 L495.0,234.5 L496.8,236.5 L498.7,238.5 L500.7,240.5 L502.9,242.5 L505.3,244.5 L507.8,246.5 L510.5,248.5 L513.3,250.5 L516.4,252.5 L519.6,254.5 L523.1,256.5 L526.8,258.5 L530.8,260.5 L535.0,262.5 L539.6,264.5 L544.4,266.5 L549.6,268.5 L555.1,270.5 L561.0,272.5 L567.3,274.5 L574.0,276.5 L581.2,278.5 L588.9,280.5 L597.1,282.5 L605.9,284.5 L615.2,286.5 L625.2,288.5 L634.5,290.5 L634.5,292.5 L634.5,294.5 L634.5,296.5 L634.5,298.5 L634.5,300.5 L634.5,302.5 L634.5,304.5 L634.5,306.5 L634.5,308.5 L634.5,310.5 L634.5,312.5 L634.5,314.5 L634.5,316.5 L634.5,318.5 L634.5,320.5 L634.5,322.5 L634.5,324.5 L634.5,326.5 L634.5,328.5 L634.5,330.5 L634.5,332.5 L634.5,334.5 L634.5,336.5 L634.5,338.5 L634.5,340.5 L634.5,342.5 L634.5,344.5 L634.5,346.5 L634.5,348.5 L634.5,350.5 L634.5,352.5 L634.5,354.5 L634.5,356.5 L634.5,358.5 L634.5,360.5 L634.5,362.5 L634.5,364.5 L634.5,366.5 L634.5,368.5 L634.5,370.5 L634.5,372.5 L634.5,374.5 L634.5,376.5 L634.5,378.5 L634.5,380.5 L634.5,382.5 L634.5,384.5 L634.5,386.5 L634.5,388.5 L634.5,390.5 L634.5,392.5 L634.5,392.5 L634.5,226.5 Z" fill="#fcf5b8"/>
<path d="M490.0,226.5 L491.5,228.5 L493.1,230.5 L494.7,232.5 L496.5,234.5 L498.4,236.5 L500.5,238.5 L502.6,240.5 L505.0,242.5 L507.5,244.5 L510.1,246.5 L512.9,248.5 L516.0,250.5 L519.2,252.5 L522.7,254.5 L526.3,256.5 L530.3,258.5 L534.5,260.5 L539.0,262.5 L543.8,264.5 L548.9,266.5 L554.4,268.5 L560.2,270.5 L566.5,272.5 L573.2,274.5 L580.3,276.5 L587.9,278.5 L596.0,280.5 L604.7,282.5 L614.0,284.5 L623.9,286.5 L634.5,288.5 L634.5,290.5 L634.5,292.5 L634.5,294.5 L634.5,296.5 L634.5,298.5 L634.5,300.5 L634.5,302.5 L634.5,304.5 L634.5,306.5 L634.5,308.5 L634.5,310.5 L634.5,312.5 L634.5,314.5 L634.5,316.5 L634.5,318.5 L634.5,320.5 L634.5,322.5 L634.5,324.5 L634.5,326.5 L634.5,328.5 L634.5,330.5 L634.5,332.5 L634.5,334.5 L634.5,336.5 L634.5,338.5 L634.5,340.5 L634.5,342.5 L634.5,344.5 L634.5,346.5 L634.5,348.5 L634.5,350.5 L634.5,352.5 L634.5,354.5 L634.5,356.5 L634.5,358.5 L634.5,360.5 L634.5,362.5 L634.5,364.5 L634.5,366.5 L634.5,368.5 L634.5,370.5 L634.5,372.5 L634.5,374.5 L634.5,376.5 L634.5,378.5 L634.5,380.5 L634.5,382.5 L634.5,384.5 L634.5,386.5 L634.5,388.5 L634.5,390.5 L634.5,392.5 L634.5,392.5 L634.5,226.5 Z" fill="#fdf3b3"/>
<path d="M491.3,226.5 L492.9,228.5 L494.5,230.5 L496.3,232.5 L498.2,234.5 L500.2,236.5 L502.4,238.5 L504.7,240.5 L507.1,242.5 L509.8,244.5 L512.6,246.5 L515.6,248.5 L518.8,250.5 L522.2,252.5 L525.9,254.5 L529.8,256.5 L533.9,258.5 L538.4,260.5 L543.2,262.5 L548.2,264.5 L553.7,266.5 L559.5,268.5 L565.7,270.5 L572.3,272.5 L579.4,274.5 L586.9,276.5 L595.0,278.5 L603.6,280.5 L612.8,282.5 L622.6,284.5 L633.1,286.5 L634.5,288.5 L634.5,290.5 L634.5,292.5 L634.5,294.5 L634.5,296.5 L634.5,298.5 L634.5,300.5 L634.5,302.5 L634.5,304.5 L634.5,306.5 L634.5,308.5 L634.5,310.5 L634.5,312.5 L634.5,314.5 L634.5,316.5 L634.5,318.5 L634.5,320.5 L634.5,322.5 L634.5,324.5 L634.5,326.5 L634.5,328.5 L634.5,330.5 L634.5,332.5 L634.5,334.5 L634.5,336.5 L634.5,338.5 L634.5,340.5 L634.5,342.5 L634.5,344.5 L634.5,346.5 L634.5,348.5 L634.5,350.5 L634.5,352.5 L634.5,354.5 L634.5,356.5 L634.5,358.5 L634.5,360.5 L634.5,362.5 L634.5,364.5 L634.5,366.5 L634.5,368.5 L634.5,370.5 L634.5,372.5 L634.5,374.5 L634.5,376.5 L634.5,378.5 L634.5,380.5 L634.5,382.5 L634.5,384.5 L634.5,386.5 L634.5,388.5 L634.5,390.5 L634.5,392.5 L634.5,392.5 L634.5,226.5 Z" fill="#fdf2ae"/>
<path d="M492.7,226.5 L494.3,228.5 L496.1,230.5 L497.9,232.5 L499.9,234.5 L502.1,236.5 L504.4,238.5 L506.8,240.5 L509.4,242.5 L512.2,244.5 L515.2,246.5 L518.4,248.5 L521.8,250.5 L525.4,252.5 L529.3,254.5 L533.4,256.5 L537.8,258.5 L542.5,260.5 L547.6,262.5 L553.0,264.5 L558.7,266.5 L564.9,268.5 L571.4,270.5 L578.4,272.5 L585.9,274.5 L593.9,276.5 L602.5,278.5 L611.6,280.5 L621.3,282.5 L631.7,284.5 L634.5,286.5 L634.5,288.5 L634.5,290.5 L634.5,292.5 L634.5,294.5 L634.5,296.5 L634.5,298.5 L634.5,300.5 L634.5,302.5 L634.5,304.5 L634.5,306.5 L634.5,308.5 L634.5,310.5 L634.5,312.5 L634.5,314.5 L634.5,316.5 L634.5,318.5 L634.5,320.5 L634.5,322.5 L634.5,324.5 L634.5,326.5 L634.5,328.5 L634.5,330.5 L634.5,332.5 L634.5,334.5 L634.5,336.5 L634.5,338.5 L634.5,340.5 L634.5,342.5 L634.5,344.5 L634.5,346.5 L634.5,348.5 L634.5,350.5 L634.5,352.5 L634.5,354.5 L634.5,356.5 L634.5,358.5 L634.5,360.5 L634.5,362.5 L634.5,364.5 L634.5,366.5 L634.5,368.5 L634.5,370.5 L634.5,372.5 L634.5,374.5 L634.5,376.5 L634.5,378.5 L634.5,380.5 L634.5,382.5 L634.5,384.5 L634.5,386.5 L634.5,388.5 L634.5,390.5 L634.5,392.5 L634.5,392.5 L634.5,226.5 Z" fill="#fef1a9"/>
<path d="M494.1,226.5 L495.8,228.5 L497.7,230.5 L499.7,232.5 L501.8,234.5 L504.1,236.5 L506.5,238.5 L509.1,240.5 L511.8,242.5 L514.8,244.5 L518.0,246.5 L521.3,248.5 L524.9,250.5 L528.8,252.5 L532.9,254.5 L537.2,256.5 L541.9,258.5 L546.9,260.5 L552.3,262.5 L558.0,264.5 L564.1,266.5 L570.6,268.5 L577.5,270.5 L585.0,272.5 L592.9,274.5 L601.4,276.5 L610.4,278.5 L620.1,280.5 L630.4,282.5 L634.5,284.5 L634.5,286.5 L634.5,288.5 L634.5,290.5 L634.5,292.5 L634.5,294.5 L634.5,296.5 L634.5,298.5 L634.5,300.5 L634.5,302.5 L634.5,304.5 L634.5,306.5 L634.5,308.5 L634.5,310.5 L634.5,312.5 L634.5,314.5 L634.5,316.5 L634.5,318.5 L634.5,320.5 L634.5,322.5 L634.5,324.5 L634.5,326.5 L634.5,328.5 L634.5,330.5 L634.5,332.5 L634.5,334.5 L634.5,336.5 L634.5,338.5 L634.5,340.5 L634.5,342.5 L634.5,344.5 L634.5,346.5 L634.5,348.5 L634.5,350.5 L634.5,352.5 L634.5,354.5 L634.5,356.5 L634.5,358.5 L634.5,360.5 L634.5,362.5 L634.5,364.5 L634.5,366.5 L634.5,368.5 L634.5,370.5 L634.5,372.5 L634.5,374.5 L634.5,376.5 L634.5,378.5 L634.5,380.5 L634.5,382.5 L634.5,384.5 L634.5,386.5 L634.5,388.5 L634.5,390.5 L634.5,392.5 L634.5,392.5 L634.5,226.5 Z" fill="#feeea3"/>
<path d="M495.6,226.5 L497.5,228.5 L499.4,230.5 L501.5,232.5 L503.8,234.5 L506.2,236.5 L508.7,238.5 L511.5,240.5 L514.4,242.5 L517.5,244.5 L520.9,246.5 L524.5,248.5 L528.3,250.5 L532.3,252.5 L536.7,254.5 L541.3,256.5 L546.3,258.5 L551.6,260.5 L557.2,262.5 L563.3,264.5 L569.7,266.5 L576.6,268.5 L584.0,270.5 L591.9,272.5 L600.3,274.5 L609.2,276.5 L618.8,278.5 L629.0,280.5 L634.5,282.5 L634.5,284.5 L634.5,286.5 L634.5,288.5 L634.5,290.5 L634.5,292.5 L634.5,294.5 L634.5,296.5 L634.5,298.5 L634.5,300.5 L634.5,302.5 L634.5,304.5 L634.5,306.5 L634.5,308.5 L634.5,310.5 L634.5,312.5 L634.5,314.5 L634.5,316.5 L634.5,318.5 L634.5,320.5 L634.5,322.5 L634.5,324.5 L634.5,326.5 L634.5,328.5 L634.5,330.5 L634.5,332.5 L634.5,334.5 L634.5,336.5 L634.5,338.5 L634.5,340.5 L634.5,342.5 L634.5,344.5 L634.5,346.5 L634.5,348.5 L634.5,350.5 L634.5,352.5 L634.5,354.5 L634.5,356.5 L634.5,358.5 L634.5,360.5 L634.5,362.5 L634.5,364.5 L634.5,366.5 L634.5,368.5 L634.5,370.5 L634.5,372.5 L634.5,374.5 L634.5,376.5 L634.5,378.5 L634.5,380.5 L634.5,382.5 L634.5,384.5 L634.5,386.5 L634.5,388.5 L634.5,390.5 L634.5,392.5 L634.5,392.5 L634.5,226.5 Z" fill="#feeb9d"/>
<path d="M497.2,226.5 L499.2,228.5 L501.3,230.5 L503.5,232.5 L505.9,234.5 L508.4,236.5 L511.1,238.5 L514.0,240.5 L517.1,242.5 L520.4,244.5 L524.0,246.5 L527.8,248.5 L531.8,250.5 L536.1,252.5 L540.7,254.5 L545.6,256.5 L550.9,258.5 L556.5,260.5 L562.5,262.5 L568.9,264.5 L575.7,266.5 L583.0,268.5 L590.8,270.5 L599.2,272.5 L608.1,274.5 L617.6,276.5 L627.7,278.5 L634.5,280.5 L634.5,282.5 L634.5,284.5 L634.5,286.5 L634.5,288.5 L634.5,290.5 L634.5,292.5 L634.5,294.5 L634.5,296.5 L634.5,298.5 L634.5,300.5 L634.5,302.5 L634.5,304.5 L634.5,306.5 L634.5,308.5 L634.5,310.5 L634.5,312.5 L634.5,314.5 L634.5,316.5 L634.5,318.5 L634.5,320.5 L634.5,322.5 L634.5,324.5 L634.5,326.5 L634.5,328.5 L634.5,330.5 L634.5,332.5 L634.5,334.5 L634.5,336.5 L634.5,338.5 L634.5,340.5 L634.5,342.5 L634.5,344.5 L634.5,346.5 L634.5,348.5 L634.5,350.5 L634.5,352.5 L634.5,354.5 L634.5,356.5 L634.5,358.5 L634.5,360.5 L634.5,362.5 L634.5,364.5 L634.5,366.5 L634.5,368.5 L634.5,370.5 L634.5,372.5 L634.5,374.5 L634.5,376.5 L634.5,378.5 L634.5,380.5 L634.5,382.5 L634.5,384.5 L634.5,386.5 L634.5,388.5 L634.5,390.5 L634.5,392.5 L634.5,392.5 L634.5,226.5 Z" fill="#fee897"/>
<path d="M498.9,226.5 L501.0,228.5 L503.2,230.5 L505.6,232.5 L508.1,234.5 L510.8,236.5 L513.7,238.5 L516.7,240.5 L520.0,242.5 L523.5,244.5 L527.3,246.5 L531.3,248.5 L535.6,250.5 L540.1,252.5 L545.0,254.5 L550.2,256.5 L555.8,258.5 L561.7,260.5 L568.1,262.5 L574.8,264.5 L582.1,266.5 L589.8,268.5 L598.1,270.5 L606.9,272.5 L616.3,274.5 L626.4,276.5 L634.5,278.5 L634.5,280.5 L634.5,282.5 L634.5,284.5 L634.5,286.5 L634.5,288.5 L634.5,290.5 L634.5,292.5 L634.5,294.5 L634.5,296.5 L634.5,298.5 L634.5,300.5 L634.5,302.5 L634.5,304.5 L634.5,306.5 L634.5,308.5 L634.5,310.5 L634.5,312.5 L634.5,314.5 L634.5,316.5 L634.5,318.5 L634.5,320.5 L634.5,322.5 L634.5,324.5 L634.5,326.5 L634.5,328.5 L634.5,330.5 L634.5,332.5 L634.5,334.5 L634.5,336.5 L634.5,338.5 L634.5,340.5 L634.5,342.5 L634.5,344.5 L634.5,346.5 L634.5,348.5 L634.5,350.5 L634.5,352.5 L634.5,354.5 L634.5,356.5 L634.5,358.5 L634.5,360.5 L634.5,362.5 L634.5,364.5 L634.5,366.5 L634.5,368.5 L634.5,370.5 L634.5,372.5 L634.5,374.5 L634.5,376.5 L634.5,378.5 L634.5,380.5 L634.5,382.5 L634.5,384.5 L634.5,386.5 L634.5,388.5 L634.5,390.5 L634.5,392.5 L634.5,392.5 L634.5,226.5 Z" fill="#fde590"/>
<path d="M500.7,226.5 L502.9,228.5 L505.3,230.5 L507.8,232.5 L510.4,234.5 L513.3,236.5 L516.3,238.5 L519.6,240.5 L523.1,242.5 L526.8,244.5 L530.8,246.5 L535.0,248.5 L539.5,250.5 L544.4,252.5 L549.5,254.5 L555.0,256.5 L560.9,258.5 L567.2,260.5 L574.0,262.5 L581.1,264.5 L588.8,266.5 L597.0,268.5 L605.8,270.5 L615.1,272.5 L625.1,274.5 L634.5,276.5 L634.5,278.5 L634.5,280.5 L634.5,282.5 L634.5,284.5 L634.5,286.5 L634.5,288.5 L634.5,290.5 L634.5,292.5 L634.5,294.5 L634.5,296.5 L634.5,298.5 L634.5,300.5 L634.5,302.5 L634.5,304.5 L634.5,306.5 L634.5,308.5 L634.5,310.5 L634.5,312.5 L634.5,314.5 L634.5,316.5 L634.5,318.5 L634.5,320.5 L634.5,322.5 L634.5,324.5 L634.5,326.5 L634.5,328.5 L634.5,330.5 L634.5,332.5 L634.5,334.5 L634.5,336.5 L634.5,338.5 L634.5,340.5 L634.5,342.5 L634.5,344.5 L634.5,346.5 L634.5,348.5 L634.5,350.5 L634.5,352.5 L634.5,354.5 L634.5,356.5 L634.5,358.5 L634.5,360.5 L634.5,362.5 L634.5,364.5 L634.5,366.5 L634.5,368.5 L634.5,370.5 L634.5,372.5 L634.5,374.5 L634.5,376.5 L634.5,378.5 L634.5,380.5 L634.5,382.5 L634.5,384.5 L634.5,386.5 L634.5,388.5 L634.5,390.5 L634.5,392.5 L634.5,392.5 L634.5,226.5 Z" fill="#fde18a"/>
<path d="M502.6,226.5 L504.9,228.5 L507.4,230.5 L510.1,232.5 L512.9,234.5 L515.9,236.5 L519.2,238.5 L522.6,240.5 L526.3,242.5 L530.2,244.5 L534.4,246.5 L538.9,248.5 L543.7,250.5 L548.9,252.5 L554.3,254.5 L560.2,256.5 L566.4,258.5 L573.1,260.5 L580.2,262.5 L587.8,264.5 L595.9,266.5 L604.6,268.5 L613.9,270.5 L623.8,272.5 L634.4,274.5 L634.5,276.5 L634.5,278.5 L634.5,280.5 L634.5,282.5 L634.5,284.5 L634.5,286.5 L634.5,288.5 L634.5,290.5 L634.5,292.5 L634.5,294.5 L634.5,296.5 L634.5,298.5 L634.5,300.5 L634.5,302.5 L634.5,304.5 L634.5,306.5 L634.5,308.5 L634.5,310.5 L634.5,312.5 L634.5,314.5 L634.5,316.5 L634.5,318.5 L634.5,320.5 L634.5,322.5 L634.5,324.5 L634.5,326.5 L634.5,328.5 L634.5,330.5 L634.5,332.5 L634.5,334.5 L634.5,336.5 L634.5,338.5 L634.5,340.5 L634.5,342.5 L634.5,344.5 L634.5,346.5 L634.5,348.5 L634.5,350.5 L634.5,352.5 L634.5,354.5 L634.5,356.5 L634.5,358.5 L634.5,360.5 L634.5,362.5 L634.5,364.5 L634.5,366.5 L634.5,368.5 L634.5,370.5 L634.5,372.5 L634.5,374.5 L634.5,376.5 L634.5,378.5 L634.5,380.5 L634.5,382.5 L634.5,384.5 L634.5,386.5 L634.5,388.5 L634.5,390.5 L634.5,392.5 L634.5,392.5 L634.5,226.5 Z" fill="#fddd84"/>
<path d="M504.6,226.5 L507.1,228.5 L509.7,230.5 L512.5,232.5 L515.5,234.5 L518.7,236.5 L522.2,238.5 L525.8,240.5 L529.7,242.5 L533.9,244.5 L538.4,246.5 L543.1,248.5 L548.2,250.5 L553.6,252.5 L559.4,254.5 L565.6,256.5 L572.2,258.5 L579.3,260.5 L586.8,262.5 L594.9,264.5 L603.5,266.5 L612.7,268.5 L622.5,270.5 L633.0,272.5 L634.5,274.5 L634.5,276.5 L634.5,278.5 L634.5,280.5 L634.5,282.5 L634.5,284.5 L634.5,286.5 L634.5,288.5 L634.5,290.5 L634.5,292.5 L634.5,294.5 L634.5,296.5 L634.5,298.5 L634.5,300.5 L634.5,302.5 L634.5,304.5 L634.5,306.5 L634.5,308.5 L634.5,310.5 L634.5,312.5 L634.5,314.5 L634.5,316.5 L634.5,318.5 L634.5,320.5 L634.5,322.5 L634.5,324.5 L634.5,326.5 L634.5,328.5 L634.5,330.5 L634.5,332.5 L634.5,334.5 L634.5,336.5 L634.5,338.5 L634.5,340.5 L634.5,342.5 L634.5,344.5 L634.5,346.5 L634.5,348.5 L634.5,350.5 L634.5,352.5 L634.5,354.5 L634.5,356.5 L634.5,358.5 L634.5,360.5 L634.5,362.5 L634.5,364.5 L634.5,366.5 L634.5,368.5 L634.5,370.5 L634.5,372.5 L634.5,374.5 L634.5,376.5 L634.5,378.5 L634.5,380.5 L634.5,382.5 L634.5,384.5 L634.5,386.5 L634.5,388.5 L634.5,390.5 L634.5,392.5 L634.5,392.5 L634.5,226.5 Z" fill="#fdd57b"/>
<path d="M506.8,226.5 L509.4,228.5 L512.2,230.5 L515.2,232.5 L518.3,234.5 L521.7,236.5 L525.4,238.5 L529.2,240.5 L533.4,242.5 L537.8,244.5 L542.5,246.5 L547.5,248.5 L552.9,250.5 L558.7,252.5 L564.8,254.5 L571.4,256.5 L578.4,258.5 L585.8,260.5 L593.8,262.5 L602.4,264.5 L611.5,266.5 L621.2,268.5 L631.6,270.5 L634.5,272.5 L634.5,274.5 L634.5,276.5 L634.5,278.5 L634.5,280.5 L634.5,282.5 L634.5,284.5 L634.5,286.5 L634.5,288.5 L634.5,290.5 L634.5,292.5 L634.5,294.5 L634.5,296.5 L634.5,298.5 L634.5,300.5 L634.5,302.5 L634.5,304.5 L634.5,306.5 L634.5,308.5 L634.5,310.5 L634.5,312.5 L634.5,314.5 L634.5,316.5 L634.5,318.5 L634.5,320.5 L634.5,322.5 L634.5,324.5 L634.5,326.5 L634.5,328.5 L634.5,330.5 L634.5,332.5 L634.5,334.5 L634.5,336.5 L634.5,338.5 L634.5,340.5 L634.5,342.5 L634.5,344.5 L634.5,346.5 L634.5,348.5 L634.5,350.5 L634.5,352.5 L634.5,354.5 L634.5,356.5 L634.5,358.5 L634.5,360.5 L634.5,362.5 L634.5,364.5 L634.5,366.5 L634.5,368.5 L634.5,370.5 L634.5,372.5 L634.5,374.5 L634.5,376.5 L634.5,378.5 L634.5,380.5 L634.5,382.5 L634.5,384.5 L634.5,386.5 L634.5,388.5 L634.5,390.5 L634.5,392.5 L634.5,392.5 L634.5,226.5 Z" fill="#fcce73"/>
<path d="M509.1,226.5 L511.8,228.5 L514.8,230.5 L517.9,232.5 L521.3,234.5 L524.9,236.5 L528.7,238.5 L532.8,240.5 L537.2,242.5 L541.9,244.5 L546.9,246.5 L552.2,248.5 L557.9,250.5 L564.0,252.5 L570.5,254.5 L577.5,256.5 L584.9,258.5 L592.8,260.5 L601.3,262.5 L610.3,264.5 L620.0,266.5 L630.3,268.5 L634.5,270.5 L634.5,272.5 L634.5,274.5 L634.5,276.5 L634.5,278.5 L634.5,280.5 L634.5,282.5 L634.5,284.5 L634.5,286.5 L634.5,288.5 L634.5,290.5 L634.5,292.5 L634.5,294.5 L634.5,296.5 L634.5,298.5 L634.5,300.5 L634.5,302.5 L634.5,304.5 L634.5,306.5 L634.5,308.5 L634.5,310.5 L634.5,312.5 L634.5,314.5 L634.5,316.5 L634.5,318.5 L634.5,320.5 L634.5,322.5 L634.5,324.5 L634.5,326.5 L634.5,328.5 L634.5,330.5 L634.5,332.5 L634.5,334.5 L634.5,336.5 L634.5,338.5 L634.5,340.5 L634.5,342.5 L634.5,344.5 L634.5,346.5 L634.5,348.5 L634.5,350.5 L634.5,352.5 L634.5,354.5 L634.5,356.5 L634.5,358.5 L634.5,360.5 L634.5,362.5 L634.5,364.5 L634.5,366.5 L634.5,368.5 L634.5,370.5 L634.5,372.5 L634.5,374.5 L634.5,376.5 L634.5,378.5 L634.5,380.5 L634.5,382.5 L634.5,384.5 L634.5,386.5 L634.5,388.5 L634.5,390.5 L634.5,392.5 L634.5,392.5 L634.5,226.5 Z" fill="#fcc66b"/>
<path d="M511.5,226.5 L514.4,228.5 L517.5,230.5 L520.8,232.5 L524.4,234.5 L528.2,236.5 L532.3,238.5 L536.6,240.5 L541.3,242.5 L546.2,244.5 L551.5,246.5 L557.2,248.5 L563.2,250.5 L569.7,252.5 L576.6,254.5 L583.9,256.5 L591.8,258.5 L600.2,260.5 L609.1,262.5 L618.7,264.5 L628.9,266.5 L634.5,268.5 L634.5,270.5 L634.5,272.5 L634.5,274.5 L634.5,276.5 L634.5,278.5 L634.5,280.5 L634.5,282.5 L634.5,284.5 L634.5,286.5 L634.5,288.5 L634.5,290.5 L634.5,292.5 L634.5,294.5 L634.5,296.5 L634.5,298.5 L634.5,300.5 L634.5,302.5 L634.5,304.5 L634.5,306.5 L634.5,308.5 L634.5,310.5 L634.5,312.5 L634.5,314.5 L634.5,316.5 L634.5,318.5 L634.5,320.5 L634.5,322.5 L634.5,324.5 L634.5,326.5 L634.5,328.5 L634.5,330.5 L634.5,332.5 L634.5,334.5 L634.5,336.5 L634.5,338.5 L634.5,340.5 L634.5,342.5 L634.5,344.5 L634.5,346.5 L634.5,348.5 L634.5,350.5 L634.5,352.5 L634.5,354.5 L634.5,356.5 L634.5,358.5 L634.5,360.5 L634.5,362.5 L634.5,364.5 L634.5,366.5 L634.5,368.5 L634.5,370.5 L634.5,372.5 L634.5,374.5 L634.5,376.5 L634.5,378.5 L634.5,380.5 L634.5,382.5 L634.5,384.5 L634.5,386.5 L634.5,388.5 L634.5,390.5 L634.5,392.5 L634.5,392.5 L634.5,226.5 Z" fill="#fbbc66"/>
<path d="M514.0,226.5 L517.1,228.5 L520.4,230.5 L524.0,232.5 L527.7,234.5 L531.8,236.5 L536.1,238.5 L540.7,240.5 L545.6,242.5 L550.8,244.5 L556.4,246.5 L562.4,248.5 L568.8,250.5 L575.7,252.5 L583.0,254.5 L590.8,256.5 L599.1,258.5 L608.0,260.5 L617.5,262.5 L627.6,264.5 L634.5,266.5 L634.5,268.5 L634.5,270.5 L634.5,272.5 L634.5,274.5 L634.5,276.5 L634.5,278.5 L634.5,280.5 L634.5,282.5 L634.5,284.5 L634.5,286.5 L634.5,288.5 L634.5,290.5 L634.5,292.5 L634.5,294.5 L634.5,296.5 L634.5,298.5 L634.5,300.5 L634.5,302.5 L634.5,304.5 L634.5,306.5 L634.5,308.5 L634.5,310.5 L634.5,312.5 L634.5,314.5 L634.5,316.5 L634.5,318.5 L634.5,320.5 L634.5,322.5 L634.5,324.5 L634.5,326.5 L634.5,328.5 L634.5,330.5 L634.5,332.5 L634.5,334.5 L634.5,336.5 L634.5,338.5 L634.5,340.5 L634.5,342.5 L634.5,344.5 L634.5,346.5 L634.5,348.5 L634.5,350.5 L634.5,352.5 L634.5,354.5 L634.5,356.5 L634.5,358.5 L634.5,360.5 L634.5,362.5 L634.5,364.5 L634.5,366.5 L634.5,368.5 L634.5,370.5 L634.5,372.5 L634.5,374.5 L634.5,376.5 L634.5,378.5 L634.5,380.5 L634.5,382.5 L634.5,384.5 L634.5,386.5 L634.5,388.5 L634.5,390.5 L634.5,392.5 L634.5,392.5 L634.5,226.5 Z" fill="#fab062"/>
<path d="M516.7,226.5 L520.0,228.5 L523.5,230.5 L527.2,232.5 L531.2,234.5 L535.5,236.5 L540.1,238.5 L544.9,240.5 L550.2,242.5 L555.7,244.5 L561.7,246.5 L568.0,248.5 L574.8,250.5 L582.0,252.5 L589.7,254.5 L598.0,256.5 L606.8,258.5 L616.2,260.5 L626.3,262.5 L634.5,264.5 L634.5,266.5 L634.5,268.5 L634.5,270.5 L634.5,272.5 L634.5,274.5 L634.5,276.5 L634.5,278.5 L634.5,280.5 L634.5,282.5 L634.5,284.5 L634.5,286.5 L634.5,288.5 L634.5,290.5 L634.5,292.5 L634.5,294.5 L634.5,296.5 L634.5,298.5 L634.5,300.5 L634.5,302.5 L634.5,304.5 L634.5,306.5 L634.5,308.5 L634.5,310.5 L634.5,312.5 L634.5,314.5 L634.5,316.5 L634.5,318.5 L634.5,320.5 L634.5,322.5 L634.5,324.5 L634.5,326.5 L634.5,328.5 L634.5,330.5 L634.5,332.5 L634.5,334.5 L634.5,336.5 L634.5,338.5 L634.5,340.5 L634.5,342.5 L634.5,344.5 L634.5,346.5 L634.5,348.5 L634.5,350.5 L634.5,352.5 L634.5,354.5 L634.5,356.5 L634.5,358.5 L634.5,360.5 L634.5,362.5 L634.5,364.5 L634.5,366.5 L634.5,368.5 L634.5,370.5 L634.5,372.5 L634.5,374.5 L634.5,376.5 L634.5,378.5 L634.5,380.5 L634.5,382.5 L634.5,384.5 L634.5,386.5 L634.5,388.5 L634.5,390.5 L634.5,392.5 L634.5,392.5 L634.5,226.5 Z" fill="#f9a360"/>
<path d="M519.6,226.5 L523.0,228.5 L526.8,230.5 L530.7,232.5 L535.0,234.5 L539.5,236.5 L544.3,238.5 L549.5,240.5 L555.0,242.5 L560.9,244.5 L567.2,246.5 L573.9,248.5 L581.1,250.5 L588.7,252.5 L596.9,254.5 L605.7,256.5 L615.0,258.5 L625.0,260.5 L634.5,262.5 L634.5,264.5 L634.5,266.5 L634.5,268.5 L634.5,270.5 L634.5,272.5 L634.5,274.5 L634.5,276.5 L634.5,278.5 L634.5,280.5 L634.5,282.5 L634.5,284.5 L634.5,286.5 L634.5,288.5 L634.5,290.5 L634.5,292.5 L634.5,294.5 L634.5,296.5 L634.5,298.5 L634.5,300.5 L634.5,302.5 L634.5,304.5 L634.5,306.5 L634.5,308.5 L634.5,310.5 L634.5,312.5 L634.5,314.5 L634.5,316.5 L634.5,318.5 L634.5,320.5 L634.5,322.5 L634.5,324.5 L634.5,326.5 L634.5,328.5 L634.5,330.5 L634.5,332.5 L634.5,334.5 L634.5,336.5 L634.5,338.5 L634.5,340.5 L634.5,342.5 L634.5,344.5 L634.5,346.5 L634.5,348.5 L634.5,350.5 L634.5,352.5 L634.5,354.5 L634.5,356.5 L634.5,358.5 L634.5,360.5 L634.5,362.5 L634.5,364.5 L634.5,366.5 L634.5,368.5 L634.5,370.5 L634.5,372.5 L634.5,374.5 L634.5,376.5 L634.5,378.5 L634.5,380.5 L634.5,382.5 L634.5,384.5 L634.5,386.5 L634.5,388.5 L634.5,390.5 L634.5,392.5 L634.5,392.5 L634.5,226.5 Z" fill="#f7915f"/>
<path d="M522.6,226.5 L526.3,228.5 L530.2,230.5 L534.4,232.5 L538.9,234.5 L543.7,236.5 L548.8,238.5 L554.3,240.5 L560.1,242.5 L566.4,244.5 L573.0,246.5 L580.1,248.5 L587.7,250.5 L595.9,252.5 L604.5,254.5 L613.8,256.5 L623.7,258.5 L634.3,260.5 L634.5,262.5 L634.5,264.5 L634.5,266.5 L634.5,268.5 L634.5,270.5 L634.5,272.5 L634.5,274.5 L634.5,276.5 L634.5,278.5 L634.5,280.5 L634.5,282.5 L634.5,284.5 L634.5,286.5 L634.5,288.5 L634.5,290.5 L634.5,292.5 L634.5,294.5 L634.5,296.5 L634.5,298.5 L634.5,300.5 L634.5,302.5 L634.5,304.5 L634.5,306.5 L634.5,308.5 L634.5,310.5 L634.5,312.5 L634.5,314.5 L634.5,316.5 L634.5,318.5 L634.5,320.5 L634.5,322.5 L634.5,324.5 L634.5,326.5 L634.5,328.5 L634.5,330.5 L634.5,332.5 L634.5,334.5 L634.5,336.5 L634.5,338.5 L634.5,340.5 L634.5,342.5 L634.5,344.5 L634.5,346.5 L634.5,348.5 L634.5,350.5 L634.5,352.5 L634.5,354.5 L634.5,356.5 L634.5,358.5 L634.5,360.5 L634.5,362.5 L634.5,364.5 L634.5,366.5 L634.5,368.5 L634.5,370.5 L634.5,372.5 L634.5,374.5 L634.5,376.5 L634.5,378.5 L634.5,380.5 L634.5,382.5 L634.5,384.5 L634.5,386.5 L634.5,388.5 L634.5,390.5 L634.5,392.5 L634.5,392.5 L634.5,226.5 Z" fill="#f67e5f"/>
<path d="M525.8,226.5 L529.7,228.5 L533.9,230.5 L538.3,232.5 L543.1,234.5 L548.1,236.5 L553.6,238.5 L559.4,240.5 L565.5,242.5 L572.2,244.5 L579.2,246.5 L586.8,248.5 L594.8,250.5 L603.4,252.5 L612.6,254.5 L622.4,256.5 L632.9,258.5 L634.5,260.5 L634.5,262.5 L634.5,264.5 L634.5,266.5 L634.5,268.5 L634.5,270.5 L634.5,272.5 L634.5,274.5 L634.5,276.5 L634.5,278.5 L634.5,280.5 L634.5,282.5 L634.5,284.5 L634.5,286.5 L634.5,288.5 L634.5,290.5 L634.5,292.5 L634.5,294.5 L634.5,296.5 L634.5,298.5 L634.5,300.5 L634.5,302.5 L634.5,304.5 L634.5,306.5 L634.5,308.5 L634.5,310.5 L634.5,312.5 L634.5,314.5 L634.5,316.5 L634.5,318.5 L634.5,320.5 L634.5,322.5 L634.5,324.5 L634.5,326.5 L634.5,328.5 L634.5,330.5 L634.5,332.5 L634.5,334.5 L634.5,336.5 L634.5,338.5 L634.5,340.5 L634.5,342.5 L634.5,344.5 L634.5,346.5 L634.5,348.5 L634.5,350.5 L634.5,352.5 L634.5,354.5 L634.5,356.5 L634.5,358.5 L634.5,360.5 L634.5,362.5 L634.5,364.5 L634.5,366.5 L634.5,368.5 L634.5,370.5 L634.5,372.5 L634.5,374.5 L634.5,376.5 L634.5,378.5 L634.5,380.5 L634.5,382.5 L634.5,384.5 L634.5,386.5 L634.5,388.5 L634.5,390.5 L634.5,392.5 L634.5,392.5 L634.5,226.5 Z" fill="#f46c61"/>
<path d="M529.2,226.5 L533.3,228.5 L537.7,230.5 L542.4,232.5 L547.5,234.5 L552.9,236.5 L558.6,238.5 L564.7,240.5 L571.3,242.5 L578.3,244.5 L585.8,246.5 L593.8,248.5 L602.3,250.5 L611.4,252.5 L621.1,254.5 L631.5,256.5 L634.5,258.5 L634.5,260.5 L634.5,262.5 L634.5,264.5 L634.5,266.5 L634.5,268.5 L634.5,270.5 L634.5,272.5 L634.5,274.5 L634.5,276.5 L634.5,278.5 L634.5,280.5 L634.5,282.5 L634.5,284.5 L634.5,286.5 L634.5,288.5 L634.5,290.5 L634.5,292.5 L634.5,294.5 L634.5,296.5 L634.5,298.5 L634.5,300.5 L634.5,302.5 L634.5,304.5 L634.5,306.5 L634.5,308.5 L634.5,310.5 L634.5,312.5 L634.5,314.5 L634.5,316.5 L634.5,318.5 L634.5,320.5 L634.5,322.5 L634.5,324.5 L634.5,326.5 L634.5,328.5 L634.5,330.5 L634.5,332.5 L634.5,334.5 L634.5,336.5 L634.5,338.5 L634.5,340.5 L634.5,342.5 L634.5,344.5 L634.5,346.5 L634.5,348.5 L634.5,350.5 L634.5,352.5 L634.5,354.5 L634.5,356.5 L634.5,358.5 L634.5,360.5 L634.5,362.5 L634.5,364.5 L634.5,366.5 L634.5,368.5 L634.5,370.5 L634.5,372.5 L634.5,374.5 L634.5,376.5 L634.5,378.5 L634.5,380.5 L634.5,382.5 L634.5,384.5 L634.5,386.5 L634.5,388.5 L634.5,390.5 L634.5,392.5 L634.5,392.5 L634.5,226.5 Z" fill="#f46662"/>
<path d="M532.8,226.5 L537.2,228.5 L541.8,230.5 L546.8,232.5 L552.2,234.5 L557.9,236.5 L563.9,238.5 L570.4,240.5 L577.4,242.5 L584.8,244.5 L592.7,246.5 L601.2,248.5 L610.2,250.5 L619.9,252.5 L630.2,254.5 L634.5,256.5 L634.5,258.5 L634.5,260.5 L634.5,262.5 L634.5,264.5 L634.5,266.5 L634.5,268.5 L634.5,270.5 L634.5,272.5 L634.5,274.5 L634.5,276.5 L634.5,278.5 L634.5,280.5 L634.5,282.5 L634.5,284.5 L634.5,286.5 L634.5,288.5 L634.5,290.5 L634.5,292.5 L634.5,294.5 L634.5,296.5 L634.5,298.5 L634.5,300.5 L634.5,302.5 L634.5,304.5 L634.5,306.5 L634.5,308.5 L634.5,310.5 L634.5,312.5 L634.5,314.5 L634.5,316.5 L634.5,318.5 L634.5,320.5 L634.5,322.5 L634.5,324.5 L634.5,326.5 L634.5,328.5 L634.5,330.5 L634.5,332.5 L634.5,334.5 L634.5,336.5 L634.5,338.5 L634.5,340.5 L634.5,342.5 L634.5,344.5 L634.5,346.5 L634.5,348.5 L634.5,350.5 L634.5,352.5 L634.5,354.5 L634.5,356.5 L634.5,358.5 L634.5,360.5 L634.5,362.5 L634.5,364.5 L634.5,366.5 L634.5,368.5 L634.5,370.5 L634.5,372.5 L634.5,374.5 L634.5,376.5 L634.5,378.5 L634.5,380.5 L634.5,382.5 L634.5,384.5 L634.5,386.5 L634.5,388.5 L634.5,390.5 L634.5,392.5 L634.5,392.5 L634.5,226.5 Z" fill="#f46562"/>
<path d="M536.6,226.5 L541.2,228.5 L546.2,230.5 L551.5,232.5 L557.1,234.5 L563.2,236.5 L569.6,238.5 L576.5,240.5 L583.8,242.5 L591.7,244.5 L600.1,246.5 L609.0,248.5 L618.6,250.5 L628.8,252.5 L634.5,254.5 L634.5,256.5 L634.5,258.5 L634.5,260.5 L634.5,262.5 L634.5,264.5 L634.5,266.5 L634.5,268.5 L634.5,270.5 L634.5,272.5 L634.5,274.5 L634.5,276.5 L634.5,278.5 L634.5,280.5 L634.5,282.5 L634.5,284.5 L634.5,286.5 L634.5,288.5 L634.5,290.5 L634.5,292.5 L634.5,294.5 L634.5,296.5 L634.5,298.5 L634.5,300.5 L634.5,302.5 L634.5,304.5 L634.5,306.5 L634.5,308.5 L634.5,310.5 L634.5,312.5 L634.5,314.5 L634.5,316.5 L634.5,318.5 L634.5,320.5 L634.5,322.5 L634.5,324.5 L634.5,326.5 L634.5,328.5 L634.5,330.5 L634.5,332.5 L634.5,334.5 L634.5,336.5 L634.5,338.5 L634.5,340.5 L634.5,342.5 L634.5,344.5 L634.5,346.5 L634.5,348.5 L634.5,350.5 L634.5,352.5 L634.5,354.5 L634.5,356.5 L634.5,358.5 L634.5,360.5 L634.5,362.5 L634.5,364.5 L634.5,366.5 L634.5,368.5 L634.5,370.5 L634.5,372.5 L634.5,374.5 L634.5,376.5 L634.5,378.5 L634.5,380.5 L634.5,382.5 L634.5,384.5 L634.5,386.5 L634.5,388.5 L634.5,390.5 L634.5,392.5 L634.5,392.5 L634.5,226.5 Z" fill="#f46562"/>
<path d="M540.6,226.5 L545.5,228.5 L550.8,230.5 L556.4,232.5 L562.4,234.5 L568.8,236.5 L575.6,238.5 L582.9,240.5 L590.7,242.5 L599.0,244.5 L607.9,246.5 L617.4,248.5 L627.5,250.5 L634.5,252.5 L634.5,254.5 L634.5,256.5 L634.5,258.5 L634.5,260.5 L634.5,262.5 L634.5,264.5 L634.5,266.5 L634.5,268.5 L634.5,270.5 L634.5,272.5 L634.5,274.5 L634.5,276.5 L634.5,278.5 L634.5,280.5 L634.5,282.5 L634.5,284.5 L634.5,286.5 L634.5,288.5 L634.5,290.5 L634.5,292.5 L634.5,294.5 L634.5,296.5 L634.5,298.5 L634.5,300.5 L634.5,302.5 L634.5,304.5 L634.5,306.5 L634.5,308.5 L634.5,310.5 L634.5,312.5 L634.5,314.5 L634.5,316.5 L634.5,318.5 L634.5,320.5 L634.5,322.5 L634.5,324.5 L634.5,326.5 L634.5,328.5 L634.5,330.5 L634.5,332.5 L634.5,334.5 L634.5,336.5 L634.5,338.5 L634.5,340.5 L634.5,342.5 L634.5,344.5 L634.5,346.5 L634.5,348.5 L634.5,350.5 L634.5,352.5 L634.5,354.5 L634.5,356.5 L634.5,358.5 L634.5,360.5 L634.5,362.5 L634.5,364.5 L634.5,366.5 L634.5,368.5 L634.5,370.5 L634.5,372.5 L634.5,374.5 L634.5,376.5 L634.5,378.5 L634.5,380.5 L634.5,382.5 L634.5,384.5 L634.5,386.5 L634.5,388.5 L634.5,390.5 L634.5,392.5 L634.5,392.5 L634.5,226.5 Z" fill="#f46461"/>
<path d="M544.9,226.5 L550.1,228.5 L555.7,230.5 L561.6,232.5 L567.9,234.5 L574.7,236.5 L581.9,238.5 L589.7,240.5 L597.9,242.5 L606.7,244.5 L616.1,246.5 L626.2,248.5 L634.5,250.5 L634.5,252.5 L634.5,254.5 L634.5,256.5 L634.5,258.5 L634.5,260.5 L634.5,262.5 L634.5,264.5 L634.5,266.5 L634.5,268.5 L634.5,270.5 L634.5,272.5 L634.5,274.5 L634.5,276.5 L634.5,278.5 L634.5,280.5 L634.5,282.5 L634.5,284.5 L634.5,286.5 L634.5,288.5 L634.5,290.5 L634.5,292.5 L634.5,294.5 L634.5,296.5 L634.5,298.5 L634.5,300.5 L634.5,302.5 L634.5,304.5 L634.5,306.5 L634.5,308.5 L634.5,310.5 L634.5,312.5 L634.5,314.5 L634.5,316.5 L634.5,318.5 L634.5,320.5 L634.5,322.5 L634.5,324.5 L634.5,326.5 L634.5,328.5 L634.5,330.5 L634.5,332.5 L634.5,334.5 L634.5,336.5 L634.5,338.5 L634.5,340.5 L634.5,342.5 L634.5,344.5 L634.5,346.5 L634.5,348.5 L634.5,350.5 L634.5,352.5 L634.5,354.5 L634.5,356.5 L634.5,358.5 L634.5,360.5 L634.5,362.5 L634.5,364.5 L634.5,366.5 L634.5,368.5 L634.5,370.5 L634.5,372.5 L634.5,374.5 L634.5,376.5 L634.5,378.5 L634.5,380.5 L634.5,382.5 L634.5,384.5 L634.5,386.5 L634.5,388.5 L634.5,390.5 L634.5,392.5 L634.5,392.5 L634.5,226.5 Z" fill="#f46361"/>
<path d="M549.4,226.5 L554.9,228.5 L560.8,230.5 L567.1,232.5 L573.8,234.5 L581.0,236.5 L588.7,238.5 L596.8,240.5 L605.6,242.5 L614.9,244.5 L624.9,246.5 L634.5,248.5 L634.5,250.5 L634.5,252.5 L634.5,254.5 L634.5,256.5 L634.5,258.5 L634.5,260.5 L634.5,262.5 L634.5,264.5 L634.5,266.5 L634.5,268.5 L634.5,270.5 L634.5,272.5 L634.5,274.5 L634.5,276.5 L634.5,278.5 L634.5,280.5 L634.5,282.5 L634.5,284.5 L634.5,286.5 L634.5,288.5 L634.5,290.5 L634.5,292.5 L634.5,294.5 L634.5,296.5 L634.5,298.5 L634.5,300.5 L634.5,302.5 L634.5,304.5 L634.5,306.5 L634.5,308.5 L634.5,310.5 L634.5,312.5 L634.5,314.5 L634.5,316.5 L634.5,318.5 L634.5,320.5 L634.5,322.5 L634.5,324.5 L634.5,326.5 L634.5,328.5 L634.5,330.5 L634.5,332.5 L634.5,334.5 L634.5,336.5 L634.5,338.5 L634.5,340.5 L634.5,342.5 L634.5,344.5 L634.5,346.5 L634.5,348.5 L634.5,350.5 L634.5,352.5 L634.5,354.5 L634.5,356.5 L634.5,358.5 L634.5,360.5 L634.5,362.5 L634.5,364.5 L634.5,366.5 L634.5,368.5 L634.5,370.5 L634.5,372.5 L634.5,374.5 L634.5,376.5 L634.5,378.5 L634.5,380.5 L634.5,382.5 L634.5,384.5 L634.5,386.5 L634.5,388.5 L634.5,390.5 L634.5,392.5 L634.5,392.5 L634.5,226.5 Z" fill="#f36361"/>
<path d="M554.2,226.5 L560.1,228.5 L566.3,230.5 L573.0,232.5 L580.1,234.5 L587.7,236.5 L595.8,238.5 L604.4,240.5 L613.7,242.5 L623.6,244.5 L634.2,246.5 L634.5,248.5 L634.5,250.5 L634.5,252.5 L634.5,254.5 L634.5,256.5 L634.5,258.5 L634.5,260.5 L634.5,262.5 L634.5,264.5 L634.5,266.5 L634.5,268.5 L634.5,270.5 L634.5,272.5 L634.5,274.5 L634.5,276.5 L634.5,278.5 L634.5,280.5 L634.5,282.5 L634.5,284.5 L634.5,286.5 L634.5,288.5 L634.5,290.5 L634.5,292.5 L634.5,294.5 L634.5,296.5 L634.5,298.5 L634.5,300.5 L634.5,302.5 L634.5,304.5 L634.5,306.5 L634.5,308.5 L634.5,310.5 L634.5,312.5 L634.5,314.5 L634.5,316.5 L634.5,318.5 L634.5,320.5 L634.5,322.5 L634.5,324.5 L634.5,326.5 L634.5,328.5 L634.5,330.5 L634.5,332.5 L634.5,334.5 L634.5,336.5 L634.5,338.5 L634.5,340.5 L634.5,342.5 L634.5,344.5 L634.5,346.5 L634.5,348.5 L634.5,350.5 L634.5,352.5 L634.5,354.5 L634.5,356.5 L634.5,358.5 L634.5,360.5 L634.5,362.5 L634.5,364.5 L634.5,366.5 L634.5,368.5 L634.5,370.5 L634.5,372.5 L634.5,374.5 L634.5,376.5 L634.5,378.5 L634.5,380.5 L634.5,382.5 L634.5,384.5 L634.5,386.5 L634.5,388.5 L634.5,390.5 L634.5,392.5 L634.5,392.5 L634.5,226.5 Z" fill="#f36261"/>
<path d="M559.3,226.5 L565.5,228.5 L572.1,230.5 L579.1,232.5 L586.7,234.5 L594.7,236.5 L603.3,238.5 L612.5,240.5 L622.3,242.5 L632.8,244.5 L634.5,246.5 L634.5,248.5 L634.5,250.5 L634.5,252.5 L634.5,254.5 L634.5,256.5 L634.5,258.5 L634.5,260.5 L634.5,262.5 L634.5,264.5 L634.5,266.5 L634.5,268.5 L634.5,270.5 L634.5,272.5 L634.5,274.5 L634.5,276.5 L634.5,278.5 L634.5,280.5 L634.5,282.5 L634.5,284.5 L634.5,286.5 L634.5,288.5 L634.5,290.5 L634.5,292.5 L634.5,294.5 L634.5,296.5 L634.5,298.5 L634.5,300.5 L634.5,302.5 L634.5,304.5 L634.5,306.5 L634.5,308.5 L634.5,310.5 L634.5,312.5 L634.5,314.5 L634.5,316.5 L634.5,318.5 L634.5,320.5 L634.5,322.5 L634.5,324.5 L634.5,326.5 L634.5,328.5 L634.5,330.5 L634.5,332.5 L634.5,334.5 L634.5,336.5 L634.5,338.5 L634.5,340.5 L634.5,342.5 L634.5,344.5 L634.5,346.5 L634.5,348.5 L634.5,350.5 L634.5,352.5 L634.5,354.5 L634.5,356.5 L634.5,358.5 L634.5,360.5 L634.5,362.5 L634.5,364.5 L634.5,366.5 L634.5,368.5 L634.5,370.5 L634.5,372.5 L634.5,374.5 L634.5,376.5 L634.5,378.5 L634.5,380.5 L634.5,382.5 L634.5,384.5 L634.5,386.5 L634.5,388.5 L634.5,390.5 L634.5,392.5 L634.5,392.5 L634.5,226.5 Z" fill="#f36261"/>
<path d="M564.7,226.5 L571.2,228.5 L578.2,230.5 L585.7,232.5 L593.7,234.5 L602.2,236.5 L611.3,238.5 L621.0,240.5 L631.4,242.5 L634.5,244.5 L634.5,246.5 L634.5,248.5 L634.5,250.5 L634.5,252.5 L634.5,254.5 L634.5,256.5 L634.5,258.5 L634.5,260.5 L634.5,262.5 L634.5,264.5 L634.5,266.5 L634.5,268.5 L634.5,270.5 L634.5,272.5 L634.5,274.5 L634.5,276.5 L634.5,278.5 L634.5,280.5 L634.5,282.5 L634.5,284.5 L634.5,286.5 L634.5,288.5 L634.5,290.5 L634.5,292.5 L634.5,294.5 L634.5,296.5 L634.5,298.5 L634.5,300.5 L634.5,302.5 L634.5,304.5 L634.5,306.5 L634.5,308.5 L634.5,310.5 L634.5,312.5 L634.5,314.5 L634.5,316.5 L634.5,318.5 L634.5,320.5 L634.5,322.5 L634.5,324.5 L634.5,326.5 L634.5,328.5 L634.5,330.5 L634.5,332.5 L634.5,334.5 L634.5,336.5 L634.5,338.5 L634.5,340.5 L634.5,342.5 L634.5,344.5 L634.5,346.5 L634.5,348.5 L634.5,350.5 L634.5,352.5 L634.5,354.5 L634.5,356.5 L634.5,358.5 L634.5,360.5 L634.5,362.5 L634.5,364.5 L634.5,366.5 L634.5,368.5 L634.5,370.5 L634.5,372.5 L634.5,374.5 L634.5,376.5 L634.5,378.5 L634.5,380.5 L634.5,382.5 L634.5,384.5 L634.5,386.5 L634.5,388.5 L634.5,390.5 L634.5,392.5 L634.5,392.5 L634.5,226.5 Z" fill="#f36160"/>
<path d="M570.4,226.5 L577.3,228.5 L584.7,230.5 L592.6,232.5 L601.1,234.5 L610.1,236.5 L619.8,238.5 L630.1,240.5 L634.5,242.5 L634.5,244.5 L634.5,246.5 L634.5,248.5 L634.5,250.5 L634.5,252.5 L634.5,254.5 L634.5,256.5 L634.5,258.5 L634.5,260.5 L634.5,262.5 L634.5,264.5 L634.5,266.5 L634.5,268.5 L634.5,270.5 L634.5,272.5 L634.5,274.5 L634.5,276.5 L634.5,278.5 L634.5,280.5 L634.5,282.5 L634.5,284.5 L634.5,286.5 L634.5,288.5 L634.5,290.5 L634.5,292.5 L634.5,294.5 L634.5,296.5 L634.5,298.5 L634.5,300.5 L634.5,302.5 L634.5,304.5 L634.5,306.5 L634.5,308.5 L634.5,310.5 L634.5,312.5 L634.5,314.5 L634.5,316.5 L634.5,318.5 L634.5,320.5 L634.5,322.5 L634.5,324.5 L634.5,326.5 L634.5,328.5 L634.5,330.5 L634.5,332.5 L634.5,334.5 L634.5,336.5 L634.5,338.5 L634.5,340.5 L634.5,342.5 L634.5,344.5 L634.5,346.5 L634.5,348.5 L634.5,350.5 L634.5,352.5 L634.5,354.5 L634.5,356.5 L634.5,358.5 L634.5,360.5 L634.5,362.5 L634.5,364.5 L634.5,366.5 L634.5,368.5 L634.5,370.5 L634.5,372.5 L634.5,374.5 L634.5,376.5 L634.5,378.5 L634.5,380.5 L634.5,382.5 L634.5,384.5 L634.5,386.5 L634.5,388.5 L634.5,390.5 L634.5,392.5 L634.5,392.5 L634.5,226.5 Z" fill="#f36160"/>
<path d="M576.4,226.5 L583.8,228.5 L591.6,230.5 L600.0,232.5 L609.0,234.5 L618.5,236.5 L628.7,238.5 L634.5,240.5 L634.5,242.5 L634.5,244.5 L634.5,246.5 L634.5,248.5 L634.5,250.5 L634.5,252.5 L634.5,254.5 L634.5,256.5 L634.5,258.5 L634.5,260.5 L634.5,262.5 L634.5,264.5 L634.5,266.5 L634.5,268.5 L634.5,270.5 L634.5,272.5 L634.5,274.5 L634.5,276.5 L634.5,278.5 L634.5,280.5 L634.5,282.5 L634.5,284.5 L634.5,286.5 L634.5,288.5 L634.5,290.5 L634.5,292.5 L634.5,294.5 L634.5,296.5 L634.5,298.5 L634.5,300.5 L634.5,302.5 L634.5,304.5 L634.5,306.5 L634.5,308.5 L634.5,310.5 L634.5,312.5 L634.5,314.5 L634.5,316.5 L634.5,318.5 L634.5,320.5 L634.5,322.5 L634.5,324.5 L634.5,326.5 L634.5,328.5 L634.5,330.5 L634.5,332.5 L634.5,334.5 L634.5,336.5 L634.5,338.5 L634.5,340.5 L634.5,342.5 L634.5,344.5 L634.5,346.5 L634.5,348.5 L634.5,350.5 L634.5,352.5 L634.5,354.5 L634.5,356.5 L634.5,358.5 L634.5,360.5 L634.5,362.5 L634.5,364.5 L634.5,366.5 L634.5,368.5 L634.5,370.5 L634.5,372.5 L634.5,374.5 L634.5,376.5 L634.5,378.5 L634.5,380.5 L634.5,382.5 L634.5,384.5 L634.5,386.5 L634.5,388.5 L634.5,390.5 L634.5,392.5 L634.5,392.5 L634.5,226.5 Z" fill="#f36060"/>
<path d="M582.8,226.5 L590.6,228.5 L598.9,230.5 L607.8,232.5 L617.3,234.5 L627.4,236.5 L634.5,238.5 L634.5,240.5 L634.5,242.5 L634.5,244.5 L634.5,246.5 L634.5,248.5 L634.5,250.5 L634.5,252.5 L634.5,254.5 L634.5,256.5 L634.5,258.5 L634.5,260.5 L634.5,262.5 L634.5,264.5 L634.5,266.5 L634.5,268.5 L634.5,270.5 L634.5,272.5 L634.5,274.5 L634.5,276.5 L634.5,278.5 L634.5,280.5 L634.5,282.5 L634.5,284.5 L634.5,286.5 L634.5,288.5 L634.5,290.5 L634.5,292.5 L634.5,294.5 L634.5,296.5 L634.5,298.5 L634.5,300.5 L634.5,302.5 L634.5,304.5 L634.5,306.5 L634.5,308.5 L634.5,310.5 L634.5,312.5 L634.5,314.5 L634.5,316.5 L634.5,318.5 L634.5,320.5 L634.5,322.5 L634.5,324.5 L634.5,326.5 L634.5,328.5 L634.5,330.5 L634.5,332.5 L634.5,334.5 L634.5,336.5 L634.5,338.5 L634.5,340.5 L634.5,342.5 L634.5,344.5 L634.5,346.5 L634.5,348.5 L634.5,350.5 L634.5,352.5 L634.5,354.5 L634.5,356.5 L634.5,358.5 L634.5,360.5 L634.5,362.5 L634.5,364.5 L634.5,366.5 L634.5,368.5 L634.5,370.5 L634.5,372.5 L634.5,374.5 L634.5,376.5 L634.5,378.5 L634.5,380.5 L634.5,382.5 L634.5,384.5 L634.5,386.5 L634.5,388.5 L634.5,390.5 L634.5,392.5 L634.5,392.5 L634.5,226.5 Z" fill="#f36060"/>
<polyline points="481.5,226.5 482.2,228.0 482.9,229.5 483.6,231.0 484.4,232.5 485.2,234.0 486.0,235.5 486.9,237.0 487.8,238.5 488.8,240.0 489.8,241.5 490.9,243.0 492.0,244.5 493.2,246.0 494.5,247.5 495.8,249.0 497.2,250.5 498.6,252.0 500.2,253.5 501.8,255.0 503.5,256.5 505.2,258.0 507.1,259.5 509.0,261.0 511.1,262.5 513.3,264.0 515.5,265.5 517.9,267.0 520.4,268.5 523.0,270.0 525.8,271.5 528.7,273.0 531.8,274.5 535.0,276.0 538.3,277.5 541.9,279.0 545.6,280.5 549.5,282.0 553.6,283.5 557.9,285.0 562.4,286.5 567.2,288.0 572.2,289.5 577.4,291.0 582.9,292.5 588.7,294.0 594.8,295.5 601.2,297.0 608.0,298.5 615.0,300.0 622.4,301.5 630.2,303.0" fill="none" stroke="#9a9a9a" stroke-width="0.9"/>
<polyline points="469.8,226.5 469.9,228.0 469.9,229.5 470.0,231.0 470.1,232.5 470.2,234.0 470.3,235.5 470.3,237.0 470.4,238.5 470.5,240.0 470.6,241.5 470.7,243.0 470.9,244.5 471.0,246.0 471.1,247.5 471.2,249.0 471.4,250.5 471.5,252.0 471.7,253.5 471.8,255.0 472.0,256.5 472.2,258.0 472.4,259.5 472.6,261.0 472.8,262.5 473.0,264.0 473.2,265.5 473.4,267.0 473.7,268.5 474.0,270.0 474.2,271.5 474.5,273.0 474.8,274.5 475.1,276.0 475.5,277.5 475.8,279.0 476.2,280.5 476.6,282.0 477.0,283.5 477.4,285.0 477.9,286.5 478.4,288.0 478.9,289.5 479.4,291.0 479.9,292.5 480.5,294.0 481.1,295.5 481.8,297.0 482.4,298.5 483.2,300.0 483.9,301.5 484.7,303.0 485.5,304.5 486.4,306.0 487.3,307.5 488.2,309.0 489.2,310.5 490.3,312.0 491.4,313.5 492.5,315.0 493.7,316.5 495.0,318.0 496.4,319.5 497.8,321.0 499.2,322.5 500.8,324.0 502.4,325.5 504.2,327.0 506.0,328.5 507.9,330.0 509.9,331.5 511.9,333.0 514.1,334.5 516.5,336.0 518.9,337.5 521.4,339.0 524.1,340.5 526.9,342.0 529.9,343.5 533.0,345.0 536.3,346.5 539.7,348.0 543.3,349.5 547.1,351.0 551.1,352.5 555.3,354.0 559.7,355.5 564.3,357.0 569.1,358.5 574.2,360.0 579.6,361.5 585.2,363.0 591.1,364.5 597.3,366.0 603.9,367.5 610.7,369.0 617.9,370.5 625.5,372.0 633.5,373.5" fill="none" stroke="#9a9a9a" stroke-width="0.9"/>
</g>
<rect x="468.5" y="227.5" width="164.0" height="164.5" fill="none" stroke="#8c8c8c" stroke-width="1"/>
<line x1="468.50" y1="388.34" x2="471.20" y2="388.34" stroke="#6a6a6a" stroke-width="1" />
<line x1="468.50" y1="382.81" x2="471.20" y2="382.81" stroke="#6a6a6a" stroke-width="1" />
<line x1="468.50" y1="378.13" x2="471.20" y2="378.13" stroke="#6a6a6a" stroke-width="1" />
<line x1="468.50" y1="374.07" x2="471.20" y2="374.07" stroke="#6a6a6a" stroke-width="1" />
<line x1="468.50" y1="370.50" x2="471.20" y2="370.50" stroke="#6a6a6a" stroke-width="1" />
<line x1="468.50" y1="367.30" x2="473.00" y2="367.30" stroke="#6a6a6a" stroke-width="1" />
<line x1="468.50" y1="346.26" x2="471.20" y2="346.26" stroke="#6a6a6a" stroke-width="1" />
<line x1="468.50" y1="333.95" x2="471.20" y2="333.95" stroke="#6a6a6a" stroke-width="1" />
<line x1="468.50" y1="325.22" x2="471.20" y2="325.22" stroke="#6a6a6a" stroke-width="1" />
<line x1="468.50" y1="318.44" x2="471.20" y2="318.44" stroke="#6a6a6a" stroke-width="1" />
<line x1="468.50" y1="312.91" x2="471.20" y2="312.91" stroke="#6a6a6a" stroke-width="1" />
<line x1="468.50" y1="308.23" x2="471.20" y2="308.23" stroke="#6a6a6a" stroke-width="1" />
<line x1="468.50" y1="304.17" x2="471.20" y2="304.17" stroke="#6a6a6a" stroke-width="1" />
<line x1="468.50" y1="300.60" x2="471.20" y2="300.60" stroke="#6a6a6a" stroke-width="1" />
<line x1="468.50" y1="297.40" x2="473.00" y2="297.40" stroke="#6a6a6a" stroke-width="1" />
<line x1="468.50" y1="276.36" x2="471.20" y2="276.36" stroke="#6a6a6a" stroke-width="1" />
<line x1="468.50" y1="264.05" x2="471.20" y2="264.05" stroke="#6a6a6a" stroke-width="1" />
<line x1="468.50" y1="255.32" x2="471.20" y2="255.32" stroke="#6a6a6a" stroke-width="1" />
<line x1="468.50" y1="248.54" x2="471.20" y2="248.54" stroke="#6a6a6a" stroke-width="1" />
<line x1="468.50" y1="243.01" x2="471.20" y2="243.01" stroke="#6a6a6a" stroke-width="1" />
<line x1="468.50" y1="238.33" x2="471.20" y2="238.33" stroke="#6a6a6a" stroke-width="1" />
<line x1="468.50" y1="234.27" x2="471.20" y2="234.27" stroke="#6a6a6a" stroke-width="1" />
<line x1="468.50" y1="230.70" x2="471.20" y2="230.70" stroke="#6a6a6a" stroke-width="1" />
<line x1="468.50" y1="227.50" x2="473.00" y2="227.50" stroke="#6a6a6a" stroke-width="1" />
<text x="463.8" y="230.00" font-size="7.1" text-anchor="end" fill="#333">10<tspan dy="-2.9" font-size="5">−6</tspan></text>
<text x="463.8" y="299.90" font-size="7.1" text-anchor="end" fill="#333">10<tspan dy="-2.9" font-size="5">−7</tspan></text>
<text x="463.8" y="369.80" font-size="7.1" text-anchor="end" fill="#333">10<tspan dy="-2.9" font-size="5">−8</tspan></text>
<line x1="484.90" y1="392.00" x2="484.90" y2="389.30" stroke="#6a6a6a" stroke-width="1" />
<line x1="501.30" y1="392.00" x2="501.30" y2="389.30" stroke="#6a6a6a" stroke-width="1" />
<line x1="517.70" y1="392.00" x2="517.70" y2="389.30" stroke="#6a6a6a" stroke-width="1" />
<line x1="534.10" y1="392.00" x2="534.10" y2="389.30" stroke="#6a6a6a" stroke-width="1" />
<line x1="550.50" y1="392.00" x2="550.50" y2="387.50" stroke="#6a6a6a" stroke-width="1" />
<line x1="566.90" y1="392.00" x2="566.90" y2="389.30" stroke="#6a6a6a" stroke-width="1" />
<line x1="583.30" y1="392.00" x2="583.30" y2="389.30" stroke="#6a6a6a" stroke-width="1" />
<line x1="599.70" y1="392.00" x2="599.70" y2="389.30" stroke="#6a6a6a" stroke-width="1" />
<line x1="616.10" y1="392.00" x2="616.10" y2="389.30" stroke="#6a6a6a" stroke-width="1" />
<text x="468.50" y="401.80" font-size="7.1" text-anchor="middle" fill="#333" >0</text>
<text x="550.50" y="401.80" font-size="7.1" text-anchor="middle" fill="#333" >0.5</text>
<text x="632.50" y="401.80" font-size="7.1" text-anchor="middle" fill="#333" >1.0</text>
<text x="431.4" y="222.0" font-size="12" font-weight="bold" fill="#000" stroke="#000" stroke-width="0.25">f</text>
<text x="551.00" y="414.30" font-size="9" text-anchor="middle" fill="#262626" textLength="103" lengthAdjust="spacing">Proton concentration, <tspan font-style="italic">C</tspan><tspan dy="1.8" font-size="6.2">H</tspan></text>
<text transform="translate(443.6,309.6) rotate(-90)" font-size="9" text-anchor="middle" fill="#262626">Proton diffusivity, <tspan font-style="italic">D</tspan><tspan dy="1.8" font-size="6.2">H,bulk</tspan><tspan dy="-1.8"> (cm</tspan><tspan dy="-3.2" font-size="6.2">2</tspan><tspan dy="3.2"> s</tspan><tspan dy="-3.2" font-size="6.2">−1</tspan><tspan dy="3.2">)</tspan></text>
<text x="626.20" y="240.20" font-size="8" text-anchor="end" fill="#262626" >300 °C</text>
<text x="570.8" y="313.4" font-size="5.6" fill="#262626"><tspan font-style="italic">σ</tspan><tspan dy="1.2" font-size="3.9">H</tspan><tspan dy="-1.2"> = 3.6 × 10</tspan><tspan dy="-2.2" font-size="3.9">−3</tspan><tspan dy="2.2"> S cm</tspan><tspan dy="-2.2" font-size="3.9">−1</tspan></text>
<text x="570.8" y="383.8" font-size="5.6" fill="#262626"><tspan font-style="italic">σ</tspan><tspan dy="1.2" font-size="3.9">H</tspan><tspan dy="-1.2"> = 3.6 × 10</tspan><tspan dy="-2.2" font-size="3.9">−4</tspan><tspan dy="2.2"> S cm</tspan><tspan dy="-2.2" font-size="3.9">−1</tspan></text>
<rect x="642.5" y="263.7" width="7" height="127.60000000000002" fill="url(#cbg)" stroke="#999" stroke-width="0.8"/>
<line x1="650.00" y1="287.20" x2="652.30" y2="287.20" stroke="#8c8c8c" stroke-width="1" />
<text x="656.3" y="289.70" font-size="7.1" fill="#333">10<tspan dy="-2.9" font-size="5">−2</tspan></text>
<line x1="650.00" y1="336.30" x2="652.30" y2="336.30" stroke="#8c8c8c" stroke-width="1" />
<text x="656.3" y="338.80" font-size="7.1" fill="#333">10<tspan dy="-2.9" font-size="5">−3</tspan></text>
<line x1="650.00" y1="385.40" x2="652.30" y2="385.40" stroke="#8c8c8c" stroke-width="1" />
<text x="656.3" y="387.90" font-size="7.1" fill="#333">10<tspan dy="-2.9" font-size="5">−4</tspan></text>
<text transform="translate(675.4,328.1) rotate(90)" font-size="9" textLength="141.5" lengthAdjust="spacing" text-anchor="middle" fill="#262626">Proton conductivity, <tspan font-style="italic">σ</tspan><tspan dy="1.8" font-size="6.2">H,bulk</tspan><tspan dy="-1.8"> (S cm</tspan><tspan dy="-3.2" font-size="6.2">−1</tspan><tspan dy="3.2">)</tspan></text>
<line x1="486.40" y1="279.90" x2="552.00" y2="243.90" stroke="#3db8f0" stroke-width="1.3" stroke-dasharray="2.6,1.5"/>
<line x1="493.30" y1="279.20" x2="575.10" y2="259.20" stroke="#f01a1a" stroke-width="1.3" stroke-dasharray="2.6,1.5"/>
<line x1="497.50" y1="315.20" x2="558.10" y2="284.60" stroke="#1f55f5" stroke-width="1.3" stroke-dasharray="2.6,1.5"/>
<line x1="486.90" y1="376.90" x2="540.20" y2="290.10" stroke="#6060f5" stroke-width="1.3" stroke-dasharray="2.6,1.5"/>
<line x1="481.50" y1="262.50" x2="496.40" y2="259.10" stroke="#f7a21b" stroke-width="1.3" stroke-dasharray="2.6,1.5"/>
<line x1="496.40" y1="259.10" x2="500.00" y2="271.40" stroke="#f7a21b" stroke-width="1.3" stroke-dasharray="2.6,1.5"/>
<line x1="543.80" y1="243.90" x2="549.00" y2="243.90" stroke="#333" stroke-width="0.7" />
<line x1="576.60" y1="256.20" x2="578.60" y2="253.30" stroke="#333" stroke-width="0.7" />
<line x1="478.00" y1="257.60" x2="479.20" y2="259.80" stroke="#333" stroke-width="0.7" />
<line x1="493.60" y1="250.50" x2="494.80" y2="253.80" stroke="#333" stroke-width="0.7" />
<line x1="494.80" y1="271.30" x2="496.90" y2="271.30" stroke="#333" stroke-width="0.7" />
<line x1="495.60" y1="281.90" x2="498.20" y2="284.30" stroke="#333" stroke-width="0.7" />
<line x1="487.60" y1="282.80" x2="488.40" y2="287.00" stroke="#333" stroke-width="0.7" />
<line x1="559.80" y1="287.60" x2="561.60" y2="291.80" stroke="#333" stroke-width="0.7" />
<line x1="541.30" y1="292.60" x2="543.30" y2="299.70" stroke="#333" stroke-width="0.7" />
<line x1="495.20" y1="317.60" x2="493.20" y2="320.00" stroke="#333" stroke-width="0.7" />
<line x1="489.20" y1="379.00" x2="492.60" y2="381.80" stroke="#333" stroke-width="0.7" />
<circle cx="481.50" cy="262.50" r="2.6" fill="#fff" stroke="#f7a21b" stroke-width="1.45"/>
<circle cx="496.40" cy="259.10" r="2.6" fill="#fff" stroke="#f7a21b" stroke-width="1.45"/>
<circle cx="500.00" cy="271.40" r="2.6" fill="#fff" stroke="#f7a21b" stroke-width="1.45"/>
<circle cx="486.40" cy="279.90" r="2.6" fill="#fff" stroke="#3db8f0" stroke-width="1.45"/>
<circle cx="493.30" cy="279.20" r="2.6" fill="#fff" stroke="#f01a1a" stroke-width="1.45"/>
<circle cx="552.00" cy="243.90" r="2.6" fill="#fff" stroke="#3db8f0" stroke-width="1.45"/>
<circle cx="575.10" cy="259.20" r="2.6" fill="#fff" stroke="#f01a1a" stroke-width="1.45"/>
<circle cx="497.50" cy="315.20" r="2.6" fill="#fff" stroke="#1f55f5" stroke-width="1.45"/>
<circle cx="558.10" cy="284.60" r="2.6" fill="#fff" stroke="#1f55f5" stroke-width="1.45"/>
<circle cx="540.20" cy="290.10" r="2.6" fill="#fff" stroke="#9a9af8" stroke-width="1.45"/>
<circle cx="486.90" cy="376.90" r="2.6" fill="#fff" stroke="#9a9af8" stroke-width="1.45"/>
<text x="471.80" y="248.90" font-size="7" text-anchor="start" fill="#262626" >BZY20</text>
<text x="471.80" y="255.90" font-size="7" text-anchor="start" fill="#262626" >BZY10</text>
<text x="474.30" y="273.20" font-size="7" text-anchor="start" fill="#262626" >BZY30</text>
<text x="521.40" y="246.40" font-size="7" text-anchor="start" fill="#262626" >BTS80</text>
<text x="576.90" y="252.30" font-size="7" text-anchor="start" fill="#262626" >BSS70</text>
<text x="499.30" y="287.40" font-size="7" text-anchor="start" fill="#262626" >BSS20</text>
<text x="481.30" y="294.50" font-size="7" text-anchor="start" fill="#262626" >BTS60</text>
<text x="553.90" y="297.90" font-size="7" text-anchor="start" fill="#262626" >BZS60</text>
<text x="539.20" y="306.50" font-size="7" text-anchor="start" fill="#262626" >BHS50</text>
<text x="473.60" y="326.10" font-size="7" text-anchor="start" fill="#262626" >BZS20</text>
<text x="493.00" y="386.30" font-size="7" text-anchor="start" fill="#262626" >BHS20</text>
</svg></body></html>
